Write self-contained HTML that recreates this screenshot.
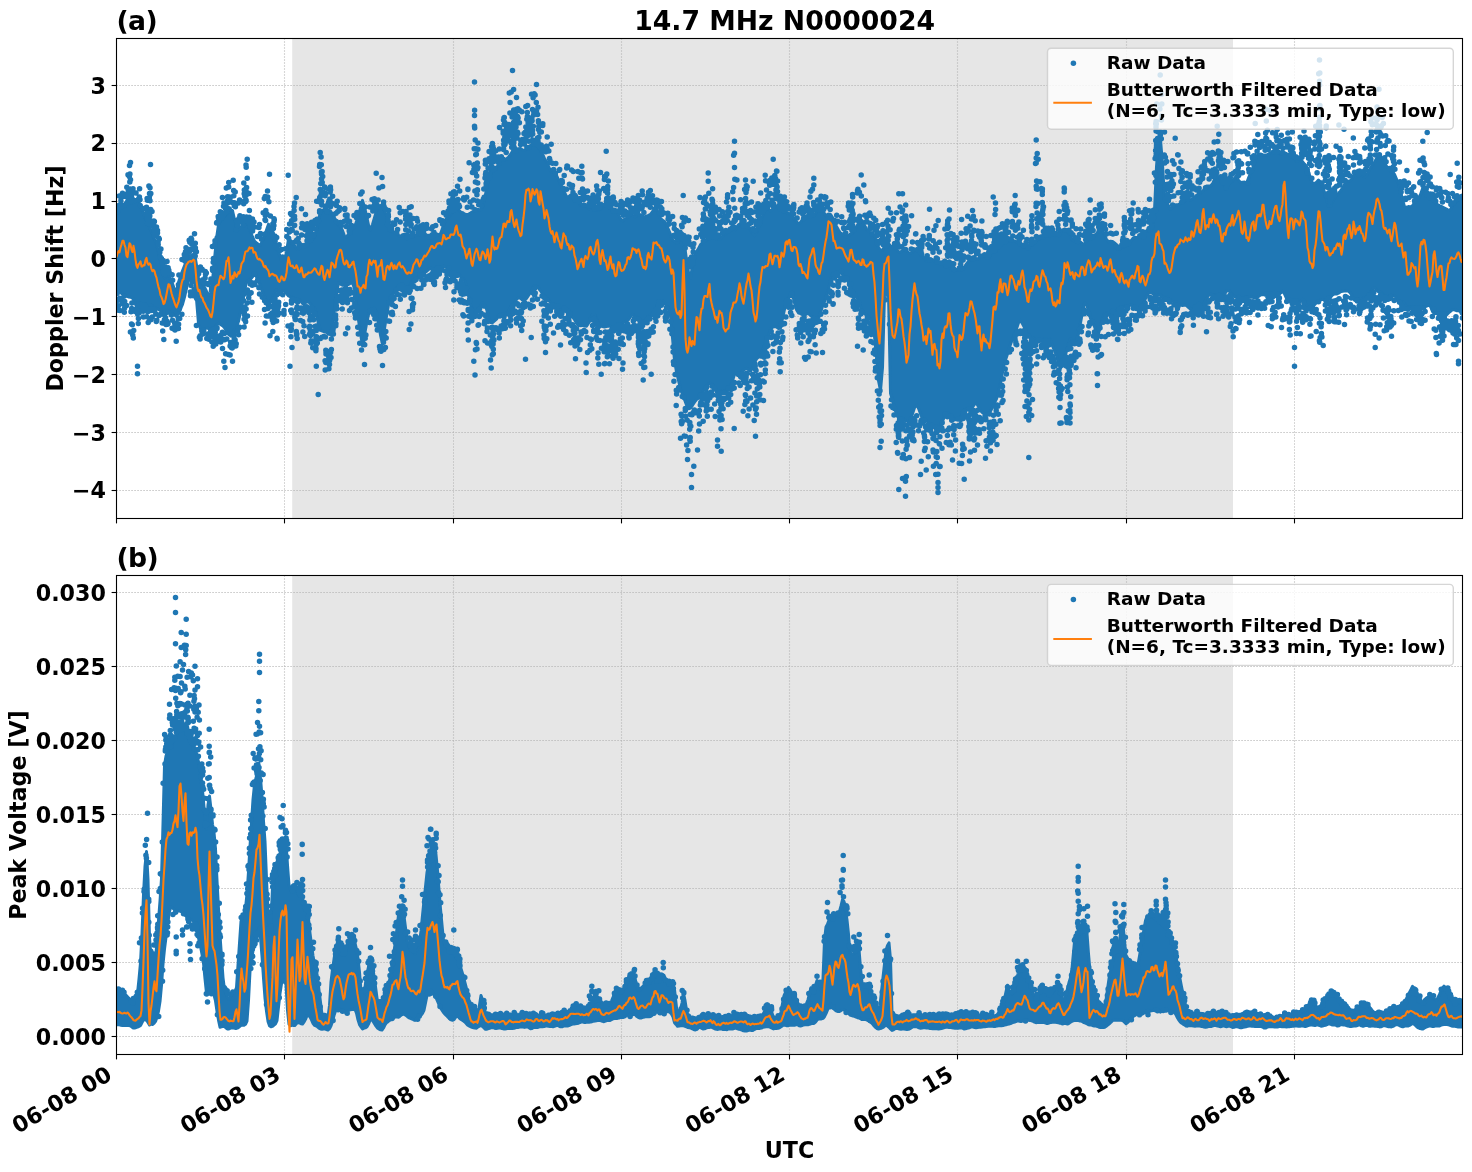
<!DOCTYPE html>
<html lang="en"><head><meta charset="utf-8"><title>14.7 MHz N0000024</title>
<style>html,body{margin:0;padding:0;background:#fff;overflow:hidden}svg{display:block;will-change:transform}text{font-family:"DejaVu Sans","Liberation Sans",sans-serif;font-weight:bold;fill:#000}.g line{stroke:#b0b0b0;stroke-width:1.1;stroke-dasharray:1.1 1.9}.tk line{stroke:#000;stroke-width:1.1}.t22{font-size:22.22px}.t27{font-size:26.67px}.t18{font-size:18.49px}</style></head><body>
<svg width="1472" height="1172" viewBox="0 0 1472 1172">
<rect width="1472" height="1172" fill="#fff"/>
<clipPath id="clipa"><rect x="116.5" y="38.5" width="1346.0" height="480.0"/></clipPath>
<rect x="292.2" y="38.5" width="940.8" height="480.0" fill="#e6e6e6"/>
<g class="g">
<line x1="284.5" y1="38.5" x2="284.5" y2="518.5"/>
<line x1="453.5" y1="38.5" x2="453.5" y2="518.5"/>
<line x1="621.5" y1="38.5" x2="621.5" y2="518.5"/>
<line x1="789.5" y1="38.5" x2="789.5" y2="518.5"/>
<line x1="957.5" y1="38.5" x2="957.5" y2="518.5"/>
<line x1="1126.5" y1="38.5" x2="1126.5" y2="518.5"/>
<line x1="1294.5" y1="38.5" x2="1294.5" y2="518.5"/>
<line x1="116.5" y1="85.5" x2="1462.5" y2="85.5"/>
<line x1="116.5" y1="143.5" x2="1462.5" y2="143.5"/>
<line x1="116.5" y1="201.5" x2="1462.5" y2="201.5"/>
<line x1="116.5" y1="258.5" x2="1462.5" y2="258.5"/>
<line x1="116.5" y1="316.5" x2="1462.5" y2="316.5"/>
<line x1="116.5" y1="374.5" x2="1462.5" y2="374.5"/>
<line x1="116.5" y1="432.5" x2="1462.5" y2="432.5"/>
<line x1="116.5" y1="490.5" x2="1462.5" y2="490.5"/>
</g>
<g clip-path="url(#clipa)">
<path d="M116.5 207.7L118.5 207.4L120.5 206.4L122.5 205.6L124.5 204.2L126.5 201.4L128.5 198.7L130.5 199.3L132.5 201.2L134.5 201.0L136.5 199.6L138.5 201.4L140.5 205.8L142.5 211.1L144.5 216.4L146.5 220.2L148.5 224.6L150.5 229.4L152.5 234.0L154.5 239.1L156.5 244.6L158.5 251.4L160.5 260.5L162.5 271.5L164.5 277.8L166.5 275.8L168.5 275.3L170.5 279.0L172.5 283.8L174.5 289.4L176.5 291.0L178.5 282.3L180.5 276.1L182.5 270.7L184.5 265.7L186.5 260.7L188.5 255.8L190.5 255.6L192.5 255.1L194.5 253.0L196.5 265.0L198.5 277.6L200.5 281.4L202.5 283.7L204.5 287.3L206.5 291.2L208.5 294.6L210.5 295.5L212.5 280.6L214.5 259.2L216.5 238.5L218.5 224.7L220.5 220.8L222.5 218.7L224.5 215.9L226.5 213.8L228.5 211.4L230.5 210.1L232.5 210.5L234.5 219.5L236.5 226.5L238.5 228.9L240.5 227.5L242.5 225.4L244.5 222.6L246.5 221.0L248.5 225.8L250.5 231.3L252.5 236.9L254.5 241.1L256.5 242.8L258.5 244.5L260.5 244.9L262.5 240.8L264.5 235.9L266.5 230.1L268.5 224.1L270.5 228.3L272.5 233.1L274.5 239.2L276.5 247.0L278.5 251.7L280.5 257.3L282.5 261.4L284.5 262.1L286.5 251.5L288.5 239.2L290.5 240.4L292.5 242.7L294.5 245.5L296.5 248.6L298.5 247.9L300.5 246.5L302.5 246.4L304.5 246.4L306.5 244.1L308.5 242.0L310.5 240.3L312.5 239.0L314.5 236.6L316.5 228.9L318.5 219.7L320.5 212.1L322.5 210.2L324.5 210.2L326.5 210.7L328.5 210.2L330.5 211.1L332.5 214.3L334.5 218.0L336.5 221.6L338.5 225.0L340.5 227.4L342.5 230.4L344.5 236.0L346.5 237.0L348.5 234.1L350.5 231.4L352.5 229.6L354.5 226.9L356.5 221.6L358.5 214.8L360.5 207.6L362.5 200.4L364.5 207.2L366.5 215.6L368.5 225.1L370.5 230.1L372.5 224.4L374.5 217.6L376.5 211.0L378.5 208.2L380.5 206.0L382.5 204.0L384.5 210.4L386.5 216.1L388.5 222.2L390.5 229.1L392.5 232.1L394.5 232.0L396.5 232.4L398.5 235.3L400.5 236.3L402.5 234.7L404.5 234.2L406.5 234.1L408.5 234.8L410.5 236.5L412.5 236.9L414.5 235.8L416.5 235.0L418.5 234.8L420.5 234.2L422.5 233.8L424.5 233.4L426.5 234.9L428.5 237.4L430.5 237.8L432.5 237.0L434.5 236.0L436.5 234.9L438.5 234.7L440.5 233.8L442.5 228.2L444.5 222.9L446.5 218.7L448.5 216.6L450.5 214.7L452.5 211.4L454.5 207.6L456.5 206.2L458.5 209.7L460.5 212.0L462.5 212.6L464.5 214.0L466.5 214.7L468.5 214.3L470.5 213.1L472.5 211.8L474.5 210.9L476.5 209.4L478.5 209.5L480.5 210.3L482.5 206.4L484.5 199.3L486.5 189.3L488.5 177.1L490.5 169.4L492.5 169.2L494.5 168.1L496.5 167.2L498.5 165.3L500.5 161.0L502.5 158.5L504.5 159.2L506.5 158.9L508.5 157.0L510.5 154.5L512.5 151.3L514.5 149.9L516.5 149.7L518.5 148.7L520.5 148.4L522.5 149.9L524.5 150.4L526.5 149.2L528.5 147.1L530.5 145.5L532.5 144.7L534.5 144.7L536.5 145.3L538.5 147.5L540.5 150.4L542.5 153.8L544.5 158.6L546.5 161.7L548.5 166.3L550.5 170.8L552.5 172.2L554.5 172.6L556.5 175.3L558.5 179.8L560.5 184.0L562.5 187.7L564.5 192.1L566.5 196.5L568.5 196.8L570.5 195.0L572.5 194.7L574.5 194.2L576.5 195.3L578.5 200.5L580.5 205.2L582.5 205.3L584.5 204.1L586.5 205.5L588.5 208.4L590.5 209.5L592.5 209.5L594.5 210.0L596.5 210.2L598.5 210.2L600.5 209.1L602.5 206.8L604.5 204.9L606.5 204.7L608.5 206.9L610.5 208.6L612.5 209.2L614.5 210.7L616.5 212.3L618.5 214.6L620.5 218.8L622.5 220.7L624.5 219.2L626.5 218.4L628.5 216.4L630.5 214.3L632.5 215.5L634.5 216.8L636.5 215.9L638.5 214.6L640.5 214.7L642.5 216.0L644.5 217.0L646.5 216.2L648.5 215.3L650.5 214.3L652.5 211.5L654.5 208.7L656.5 208.8L658.5 214.3L660.5 218.3L662.5 220.3L664.5 221.6L666.5 225.1L668.5 229.6L670.5 234.4L672.5 239.9L674.5 241.3L676.5 242.8L678.5 242.0L680.5 240.1L682.5 239.0L684.5 244.9L686.5 259.8L688.5 272.5L690.5 277.8L692.5 266.2L694.5 255.7L696.5 251.5L698.5 248.6L700.5 244.6L702.5 242.8L704.5 241.6L706.5 239.7L708.5 237.4L710.5 237.1L712.5 237.8L714.5 238.3L716.5 238.1L718.5 238.8L720.5 238.8L722.5 236.3L724.5 234.5L726.5 233.3L728.5 231.5L730.5 230.0L732.5 230.6L734.5 230.5L736.5 227.7L738.5 224.7L740.5 223.4L742.5 223.9L744.5 223.7L746.5 225.1L748.5 227.5L750.5 229.8L752.5 233.0L754.5 235.6L756.5 232.0L758.5 227.7L760.5 223.3L762.5 216.4L764.5 209.3L766.5 207.3L768.5 209.2L770.5 211.0L772.5 209.5L774.5 206.8L776.5 206.4L778.5 208.0L780.5 209.8L782.5 210.9L784.5 211.9L786.5 212.5L788.5 213.1L790.5 214.7L792.5 216.5L794.5 218.6L796.5 221.8L798.5 223.8L800.5 222.4L802.5 219.5L804.5 217.6L806.5 216.2L808.5 214.0L810.5 213.9L812.5 215.9L814.5 215.4L816.5 211.7L818.5 208.2L820.5 207.6L822.5 210.0L824.5 213.6L826.5 215.7L828.5 214.0L830.5 214.4L832.5 217.5L834.5 222.3L836.5 226.4L838.5 230.0L840.5 233.2L842.5 233.9L844.5 235.9L846.5 237.0L848.5 235.8L850.5 233.8L852.5 232.9L854.5 230.0L856.5 226.7L858.5 223.3L860.5 219.9L862.5 221.1L864.5 225.6L866.5 228.8L868.5 231.4L870.5 232.7L872.5 232.7L874.5 236.7L876.5 242.5L878.5 247.4L880.5 250.5L882.5 249.8L884.5 247.3L886.5 244.2L888.5 243.5L890.5 245.9L892.5 246.3L894.5 246.4L896.5 249.3L898.5 251.8L900.5 252.1L902.5 250.3L904.5 249.0L906.5 250.3L908.5 252.9L910.5 253.1L912.5 252.1L914.5 250.3L916.5 248.6L918.5 249.6L920.5 252.8L922.5 256.1L924.5 258.2L926.5 260.7L928.5 260.2L930.5 258.7L932.5 259.6L934.5 261.5L936.5 263.1L938.5 263.4L940.5 263.4L942.5 263.6L944.5 263.4L946.5 264.2L948.5 266.5L950.5 268.1L952.5 268.0L954.5 268.8L956.5 269.9L958.5 270.1L960.5 269.6L962.5 268.5L964.5 266.8L966.5 263.9L968.5 261.3L970.5 259.2L972.5 258.6L974.5 259.0L976.5 259.0L978.5 258.5L980.5 256.9L982.5 255.9L984.5 256.6L986.5 258.0L988.5 258.1L990.5 254.9L992.5 251.6L994.5 249.4L996.5 248.1L998.5 245.3L1000.5 243.0L1002.5 243.5L1004.5 242.5L1006.5 240.0L1008.5 238.8L1010.5 239.1L1012.5 240.0L1014.5 241.0L1016.5 241.7L1018.5 243.1L1020.5 245.1L1022.5 246.2L1024.5 246.8L1026.5 246.5L1028.5 245.5L1030.5 244.6L1032.5 245.2L1034.5 243.2L1036.5 240.3L1038.5 239.2L1040.5 238.5L1042.5 238.6L1044.5 237.5L1046.5 233.5L1048.5 230.9L1050.5 230.8L1052.5 232.6L1054.5 235.2L1056.5 235.5L1058.5 232.7L1060.5 230.1L1062.5 230.1L1064.5 229.3L1066.5 230.0L1068.5 233.0L1070.5 236.8L1072.5 239.9L1074.5 241.3L1076.5 242.1L1078.5 240.9L1080.5 242.0L1082.5 244.3L1084.5 243.7L1086.5 240.5L1088.5 237.3L1090.5 235.5L1092.5 235.2L1094.5 235.1L1096.5 233.6L1098.5 231.2L1100.5 228.8L1102.5 230.5L1104.5 234.8L1106.5 239.4L1108.5 241.7L1110.5 241.3L1112.5 241.4L1114.5 243.0L1116.5 244.7L1118.5 246.5L1120.5 247.9L1122.5 246.9L1124.5 246.6L1126.5 245.6L1128.5 243.9L1130.5 241.4L1132.5 238.8L1134.5 237.3L1136.5 237.4L1138.5 237.6L1140.5 237.6L1142.5 236.3L1144.5 233.3L1146.5 231.0L1148.5 228.6L1150.5 226.5L1152.5 223.7L1154.5 210.2L1156.5 166.6L1158.5 139.6L1160.5 139.4L1162.5 164.4L1164.5 198.1L1166.5 201.6L1168.5 205.8L1170.5 209.3L1172.5 207.3L1174.5 205.1L1176.5 204.8L1178.5 204.5L1180.5 203.3L1182.5 202.2L1184.5 200.9L1186.5 199.4L1188.5 199.6L1190.5 199.8L1192.5 198.9L1194.5 197.3L1196.5 195.3L1198.5 194.0L1200.5 193.4L1202.5 191.7L1204.5 188.5L1206.5 185.9L1208.5 186.0L1210.5 186.1L1212.5 183.8L1214.5 179.5L1216.5 176.1L1218.5 176.7L1220.5 178.8L1222.5 180.4L1224.5 184.2L1226.5 187.3L1228.5 183.9L1230.5 182.7L1232.5 181.3L1234.5 178.1L1236.5 175.7L1238.5 180.2L1240.5 182.4L1242.5 182.2L1244.5 182.1L1246.5 183.4L1248.5 178.0L1250.5 173.7L1252.5 168.5L1254.5 162.5L1256.5 156.0L1258.5 154.2L1260.5 153.9L1262.5 154.7L1264.5 155.1L1266.5 155.1L1268.5 154.0L1270.5 152.7L1272.5 151.6L1274.5 149.9L1276.5 149.7L1278.5 152.3L1280.5 153.9L1282.5 153.4L1284.5 152.5L1286.5 153.5L1288.5 154.4L1290.5 154.2L1292.5 154.8L1294.5 158.1L1296.5 160.8L1298.5 160.7L1300.5 159.7L1302.5 161.6L1304.5 164.2L1306.5 166.1L1308.5 171.4L1310.5 178.3L1312.5 183.1L1314.5 183.6L1316.5 182.3L1318.5 180.1L1320.5 182.0L1322.5 187.2L1324.5 192.1L1326.5 198.6L1328.5 206.5L1330.5 206.3L1332.5 201.5L1334.5 197.4L1336.5 195.2L1338.5 193.2L1340.5 190.9L1342.5 188.2L1344.5 184.5L1346.5 182.0L1348.5 181.2L1350.5 180.6L1352.5 177.8L1354.5 173.3L1356.5 173.1L1358.5 174.5L1360.5 174.5L1362.5 175.3L1364.5 177.3L1366.5 175.3L1368.5 171.5L1370.5 168.0L1372.5 165.3L1374.5 162.2L1376.5 158.4L1378.5 154.2L1380.5 156.1L1382.5 159.5L1384.5 162.8L1386.5 166.3L1388.5 168.3L1390.5 169.2L1392.5 171.4L1394.5 174.3L1396.5 179.0L1398.5 184.0L1400.5 190.5L1402.5 199.5L1404.5 206.6L1406.5 207.4L1408.5 206.5L1410.5 207.0L1412.5 205.7L1414.5 202.6L1416.5 199.8L1418.5 198.1L1420.5 194.5L1422.5 188.8L1424.5 187.3L1426.5 190.9L1428.5 195.5L1430.5 197.7L1432.5 199.6L1434.5 202.2L1436.5 204.0L1438.5 205.0L1440.5 206.2L1442.5 207.0L1444.5 208.0L1446.5 209.0L1448.5 210.5L1450.5 209.7L1452.5 205.5L1454.5 202.7L1456.5 200.6L1458.5 198.5L1460.5 195.6L1462.5 194.8L1462.5 314.0L1460.5 311.7L1458.5 310.6L1456.5 310.7L1454.5 309.8L1452.5 309.7L1450.5 311.3L1448.5 312.9L1446.5 315.0L1444.5 317.4L1442.5 317.6L1440.5 315.3L1438.5 313.1L1436.5 313.4L1434.5 313.9L1432.5 311.5L1430.5 306.4L1428.5 305.1L1426.5 306.3L1424.5 306.5L1422.5 307.9L1420.5 310.2L1418.5 310.9L1416.5 309.4L1414.5 308.3L1412.5 308.1L1410.5 306.8L1408.5 307.5L1406.5 307.2L1404.5 303.9L1402.5 301.4L1400.5 301.4L1398.5 301.0L1396.5 298.3L1394.5 295.7L1392.5 295.6L1390.5 296.0L1388.5 296.3L1386.5 297.3L1384.5 297.4L1382.5 294.1L1380.5 292.0L1378.5 291.8L1376.5 290.1L1374.5 287.8L1372.5 289.0L1370.5 292.8L1368.5 296.2L1366.5 296.8L1364.5 297.6L1362.5 298.7L1360.5 298.6L1358.5 298.7L1356.5 300.8L1354.5 300.2L1352.5 296.8L1350.5 293.2L1348.5 291.1L1346.5 290.7L1344.5 291.0L1342.5 291.2L1340.5 291.7L1338.5 293.2L1336.5 294.1L1334.5 293.9L1332.5 295.0L1330.5 297.4L1328.5 299.4L1326.5 300.5L1324.5 300.2L1322.5 299.4L1320.5 300.0L1318.5 301.8L1316.5 302.7L1314.5 304.8L1312.5 307.5L1310.5 309.8L1308.5 309.5L1306.5 305.3L1304.5 300.5L1302.5 299.4L1300.5 301.4L1298.5 303.7L1296.5 302.6L1294.5 299.9L1292.5 300.0L1290.5 301.9L1288.5 301.6L1286.5 298.5L1284.5 293.8L1282.5 291.4L1280.5 293.0L1278.5 294.6L1276.5 294.4L1274.5 293.6L1272.5 292.5L1270.5 293.0L1268.5 293.6L1266.5 294.8L1264.5 294.8L1262.5 294.5L1260.5 295.1L1258.5 296.4L1256.5 298.3L1254.5 298.1L1252.5 297.1L1250.5 297.3L1248.5 297.4L1246.5 297.1L1244.5 297.8L1242.5 299.6L1240.5 300.4L1238.5 299.5L1236.5 297.9L1234.5 296.4L1232.5 295.3L1230.5 292.5L1228.5 290.4L1226.5 291.1L1224.5 294.1L1222.5 296.8L1220.5 297.0L1218.5 296.4L1216.5 296.2L1214.5 295.2L1212.5 294.5L1210.5 294.2L1208.5 295.5L1206.5 298.7L1204.5 302.5L1202.5 304.6L1200.5 305.4L1198.5 306.2L1196.5 308.4L1194.5 308.7L1192.5 308.7L1190.5 309.0L1188.5 307.5L1186.5 305.6L1184.5 305.1L1182.5 305.6L1180.5 304.9L1178.5 302.9L1176.5 302.3L1174.5 302.3L1172.5 301.2L1170.5 300.4L1168.5 298.7L1166.5 296.7L1164.5 297.1L1162.5 297.5L1160.5 295.1L1158.5 294.8L1156.5 296.1L1154.5 295.3L1152.5 293.3L1150.5 292.4L1148.5 293.1L1146.5 295.5L1144.5 301.2L1142.5 306.7L1140.5 309.6L1138.5 309.4L1136.5 309.2L1134.5 308.1L1132.5 305.5L1130.5 304.8L1128.5 306.2L1126.5 306.8L1124.5 307.1L1122.5 306.8L1120.5 307.3L1118.5 310.7L1116.5 313.9L1114.5 315.1L1112.5 315.4L1110.5 315.2L1108.5 314.3L1106.5 313.0L1104.5 313.2L1102.5 318.7L1100.5 326.0L1098.5 333.7L1096.5 333.2L1094.5 326.5L1092.5 322.5L1090.5 318.3L1088.5 311.1L1086.5 304.4L1084.5 302.8L1082.5 312.0L1080.5 323.1L1078.5 333.8L1076.5 341.3L1074.5 340.7L1072.5 339.7L1070.5 338.9L1068.5 343.7L1066.5 351.1L1064.5 358.7L1062.5 364.5L1060.5 368.3L1058.5 362.7L1056.5 355.6L1054.5 350.7L1052.5 345.9L1050.5 340.1L1048.5 338.4L1046.5 339.2L1044.5 339.3L1042.5 339.8L1040.5 341.3L1038.5 341.9L1036.5 341.0L1034.5 339.1L1032.5 337.4L1030.5 337.2L1028.5 336.4L1026.5 332.2L1024.5 327.6L1022.5 323.8L1020.5 320.4L1018.5 322.8L1016.5 328.8L1014.5 334.6L1012.5 339.0L1010.5 344.4L1008.5 350.8L1006.5 357.1L1004.5 362.9L1002.5 372.5L1000.5 383.7L998.5 392.2L996.5 398.9L994.5 402.8L992.5 407.2L990.5 411.1L988.5 413.7L986.5 415.3L984.5 413.5L982.5 412.6L980.5 410.7L978.5 406.7L976.5 403.2L974.5 404.3L972.5 407.0L970.5 409.6L968.5 410.0L966.5 409.3L964.5 409.6L962.5 413.4L960.5 417.9L958.5 419.5L956.5 419.7L954.5 419.8L952.5 417.3L950.5 414.7L948.5 413.3L946.5 412.8L944.5 416.6L942.5 421.2L940.5 427.1L938.5 432.0L936.5 430.5L934.5 427.6L932.5 426.8L930.5 425.8L928.5 422.4L926.5 420.6L924.5 420.4L922.5 418.8L920.5 413.8L918.5 408.3L916.5 404.7L914.5 407.8L912.5 413.9L910.5 420.0L908.5 421.8L906.5 421.1L904.5 420.1L902.5 418.3L900.5 417.6L898.5 417.9L896.5 414.6L894.5 407.0L892.5 400.1L890.5 393.3L888.5 293.2L886.5 293.0L884.5 294.3L882.5 367.6L880.5 390.5L878.5 380.8L876.5 356.7L874.5 336.4L872.5 327.9L870.5 319.5L868.5 316.3L866.5 315.3L864.5 313.8L862.5 310.9L860.5 306.8L858.5 301.4L856.5 296.9L854.5 293.3L852.5 291.4L850.5 288.8L848.5 282.7L846.5 278.2L844.5 277.5L842.5 274.3L840.5 272.7L838.5 272.9L836.5 273.6L834.5 273.0L832.5 273.4L830.5 281.7L828.5 289.2L826.5 295.7L824.5 301.4L822.5 306.1L820.5 312.9L818.5 318.1L816.5 318.0L814.5 317.7L812.5 316.9L810.5 315.5L808.5 313.6L806.5 313.8L804.5 315.6L802.5 314.8L800.5 313.6L798.5 313.1L796.5 309.7L794.5 302.9L792.5 293.9L790.5 294.8L788.5 298.4L786.5 301.3L784.5 309.5L782.5 318.6L780.5 328.2L778.5 328.4L776.5 327.0L774.5 326.6L772.5 327.2L770.5 329.2L768.5 335.6L766.5 341.2L764.5 345.1L762.5 350.0L760.5 354.4L758.5 356.9L756.5 359.0L754.5 362.6L752.5 368.0L750.5 371.2L748.5 369.8L746.5 368.3L744.5 369.5L742.5 371.0L740.5 372.8L738.5 374.2L736.5 373.4L734.5 374.5L732.5 380.9L730.5 385.8L728.5 389.4L726.5 392.7L724.5 392.0L722.5 390.6L720.5 390.8L718.5 392.2L716.5 392.1L714.5 388.8L712.5 384.5L710.5 382.9L708.5 384.3L706.5 385.8L704.5 388.4L702.5 392.5L700.5 396.7L698.5 398.2L696.5 399.5L694.5 402.1L692.5 405.3L690.5 408.1L688.5 408.8L686.5 405.1L684.5 399.4L682.5 394.3L680.5 388.9L678.5 380.3L676.5 372.0L674.5 360.4L672.5 337.9L670.5 315.6L668.5 308.5L666.5 305.9L664.5 302.6L662.5 300.6L660.5 300.6L658.5 304.3L656.5 307.7L654.5 310.6L652.5 312.4L650.5 314.9L648.5 317.0L646.5 318.7L644.5 321.5L642.5 322.1L640.5 320.8L638.5 318.5L636.5 317.0L634.5 315.7L632.5 314.4L630.5 316.8L628.5 319.7L626.5 321.2L624.5 321.8L622.5 323.5L620.5 325.4L618.5 326.7L616.5 328.1L614.5 328.6L612.5 327.5L610.5 326.4L608.5 326.0L606.5 326.6L604.5 327.1L602.5 326.6L600.5 325.8L598.5 323.1L596.5 319.0L594.5 314.6L592.5 314.6L590.5 319.0L588.5 323.1L586.5 326.2L584.5 326.0L582.5 325.4L580.5 325.7L578.5 325.5L576.5 323.4L574.5 319.6L572.5 316.6L570.5 317.2L568.5 315.5L566.5 311.7L564.5 309.7L562.5 309.5L560.5 310.5L558.5 310.1L556.5 308.8L554.5 306.8L552.5 304.8L550.5 302.7L548.5 299.8L546.5 297.5L544.5 296.3L542.5 293.8L540.5 290.7L538.5 288.2L536.5 286.4L534.5 285.7L532.5 288.6L530.5 292.3L528.5 295.3L526.5 298.3L524.5 300.2L522.5 300.3L520.5 298.3L518.5 297.5L516.5 299.5L514.5 302.9L512.5 304.4L510.5 307.3L508.5 311.1L506.5 312.7L504.5 313.9L502.5 314.0L500.5 313.6L498.5 315.9L496.5 319.1L494.5 320.9L492.5 322.7L490.5 322.4L488.5 316.2L486.5 309.0L484.5 305.0L482.5 302.5L480.5 306.4L478.5 309.6L476.5 311.6L474.5 313.8L472.5 311.0L470.5 304.3L468.5 296.0L466.5 286.9L464.5 279.9L462.5 278.6L460.5 276.4L458.5 273.8L456.5 271.8L454.5 272.2L452.5 274.2L450.5 274.5L448.5 271.1L446.5 267.4L444.5 266.2L442.5 266.4L440.5 267.1L438.5 267.2L436.5 267.6L434.5 269.0L432.5 268.9L430.5 268.2L428.5 269.6L426.5 271.4L424.5 272.6L422.5 273.7L420.5 275.1L418.5 277.5L416.5 279.1L414.5 279.8L412.5 281.9L410.5 285.5L408.5 287.1L406.5 287.0L404.5 288.5L402.5 289.5L400.5 287.5L398.5 285.7L396.5 288.6L394.5 292.1L392.5 294.7L390.5 295.8L388.5 304.8L386.5 316.3L384.5 328.6L382.5 343.8L380.5 335.1L378.5 323.9L376.5 311.5L374.5 309.1L372.5 309.9L370.5 309.5L368.5 314.8L366.5 323.9L364.5 335.0L362.5 346.1L360.5 333.3L358.5 320.0L356.5 305.5L354.5 289.1L352.5 282.4L350.5 283.3L348.5 284.4L346.5 284.2L344.5 284.7L342.5 285.2L340.5 284.1L338.5 282.6L336.5 294.2L334.5 308.5L332.5 322.6L330.5 334.4L328.5 334.3L326.5 332.2L324.5 331.9L322.5 331.1L320.5 330.3L318.5 323.9L316.5 314.9L314.5 307.8L312.5 306.7L310.5 304.1L308.5 301.8L306.5 301.9L304.5 303.7L302.5 303.4L300.5 300.8L298.5 299.5L296.5 299.6L294.5 298.7L292.5 297.7L290.5 296.8L288.5 295.9L286.5 293.6L284.5 290.8L282.5 290.5L280.5 292.3L278.5 292.4L276.5 289.7L274.5 293.2L272.5 297.9L270.5 301.7L268.5 304.9L266.5 300.8L264.5 296.7L262.5 291.8L260.5 286.4L258.5 281.4L256.5 276.9L254.5 274.3L252.5 276.8L250.5 279.3L248.5 280.9L246.5 281.8L244.5 291.5L242.5 302.7L240.5 312.0L238.5 321.4L236.5 327.4L234.5 329.9L232.5 334.6L230.5 335.9L228.5 334.4L226.5 331.3L224.5 327.8L222.5 325.6L220.5 324.4L218.5 323.3L216.5 324.9L214.5 327.6L212.5 328.6L210.5 329.1L208.5 328.5L206.5 327.8L204.5 329.0L202.5 329.9L200.5 328.7L198.5 323.7L196.5 299.5L194.5 277.6L192.5 279.8L190.5 280.1L188.5 280.5L186.5 288.5L184.5 297.2L182.5 304.4L180.5 308.9L178.5 313.4L176.5 316.6L174.5 314.8L172.5 314.2L170.5 312.8L168.5 310.9L166.5 314.0L164.5 317.0L162.5 314.5L160.5 310.7L158.5 309.3L156.5 308.4L154.5 307.4L152.5 306.2L150.5 305.2L148.5 306.0L146.5 306.6L144.5 306.2L142.5 306.9L140.5 308.4L138.5 308.9L136.5 306.6L134.5 301.9L132.5 298.0L130.5 297.2L128.5 297.0L126.5 296.1L124.5 294.9L122.5 294.0L120.5 292.7L118.5 290.9L116.5 289.9Z" fill="#1f77b4" stroke="#1f77b4" stroke-width="3" stroke-linejoin="round"/>
<path d="M117.2 206.1h.01M117.8 211.5h.01M118 208.4h.01M117.6 208.1h.01M119.3 195.9h.01M120.8 207.3h.01M120.3 204.5h.01M119.2 205.5h.01M120.9 200.5h.01M120.4 205.6h.01M120.7 204.5h.01M122.5 193.3h.01M124.3 205.2h.01M123.6 196.3h.01M126 194.2h.01M126.2 196.8h.01M126.8 187.2h.01M128.2 193.8h.01M129 196.2h.01M128 174.8h.01M129.2 190h.01M128.3 189.6h.01M128.3 190.7h.01M127.1 202.7h.01M128.5 199.8h.01M130.9 199.4h.01M128.5 195.1h.01M129.6 200.3h.01M129.5 165.5h.01M129.3 176.4h.01M129.8 181.9h.01M129.2 189.8h.01M128.7 191.4h.01M129.9 174.1h.01M131.6 195h.01M130.5 179.8h.01M129.6 189.2h.01M130.4 189.1h.01M131.5 195.8h.01M130.4 202.1h.01M133 188.8h.01M132.5 192.6h.01M132.7 199.6h.01M134.7 200.4h.01M136 193h.01M139.4 197.1h.01M138.8 198.4h.01M139.6 188.7h.01M140 199.7h.01M140.2 205.4h.01M144.7 214.1h.01M143.7 208.5h.01M147.4 216.2h.01M146.5 207.3h.01M148.1 217.8h.01M147.7 212.4h.01M147.4 219.1h.01M147.4 200.2h.01M147.1 198.4h.01M147.9 214.6h.01M147.6 223.6h.01M147.9 210.2h.01M148.9 186h.01M149.5 200.5h.01M148.2 212.1h.01M149.3 198h.01M150.7 220.7h.01M148.8 223.3h.01M149.5 193.6h.01M150.2 194.5h.01M149.9 210.9h.01M150 187.7h.01M150.7 209.6h.01M150 200.7h.01M150.8 193.6h.01M149.8 216.1h.01M152 211.4h.01M151.8 226h.01M153.8 230.5h.01M154.2 235.7h.01M153.9 224.9h.01M154.4 221.6h.01M153.9 220.9h.01M156.5 226.9h.01M158.1 241.7h.01M157.5 230.6h.01M157.5 233.1h.01M158.2 244.5h.01M158.7 237.9h.01M159.3 239h.01M159.8 252.2h.01M160.1 256.8h.01M160.9 249.1h.01M162.5 260h.01M161.4 258.6h.01M161.8 261.7h.01M162.9 263.6h.01M165.4 271.6h.01M164.1 271.1h.01M165.1 274.6h.01M164.2 274.1h.01M165 266.8h.01M162.8 271.8h.01M164.1 273.8h.01M167 261.5h.01M168.1 267.8h.01M168.5 271.6h.01M169.2 272.5h.01M168.8 270.3h.01M172.1 274.8h.01M172.6 280.3h.01M178.4 284.8h.01M178.9 275.1h.01M182 259.6h.01M184.8 258.2h.01M185.8 257.5h.01M184.5 259.3h.01M184.9 260.9h.01M184.3 254.4h.01M186 247.7h.01M186.2 257.3h.01M189.4 252.1h.01M185.5 251.7h.01M187.4 253.1h.01M189.5 249.6h.01M191.4 249.3h.01M189.8 241.7h.01M190.6 240.1h.01M191 241.1h.01M189.2 240.3h.01M189.8 242.2h.01M191.6 239.2h.01M191.1 238.3h.01M193.5 245.5h.01M191.7 244.1h.01M194 249.8h.01M194.9 250.6h.01M195.2 255.9h.01M195.3 243.3h.01M195.4 247.9h.01M196.4 251.8h.01M196 268.8h.01M198.6 273.8h.01M199 269h.01M199.4 268.9h.01M200.4 266.9h.01M202.2 270.1h.01M202.1 269.2h.01M203.6 282h.01M202.9 279.7h.01M204.8 283.3h.01M205.3 271.5h.01M205.5 274.2h.01M205.1 278h.01M206.3 273h.01M206.5 283.4h.01M210.9 281.7h.01M210 282.8h.01M210.9 278.9h.01M210.9 281.5h.01M211 280.9h.01M211.7 288.3h.01M211.5 290.5h.01M208.2 284.4h.01M211.4 280.2h.01M212.5 270.1h.01M212.7 270.4h.01M212.6 268.2h.01M213.2 262.2h.01M214.8 266.9h.01M213.4 258.5h.01M214.9 261h.01M214.9 243.9h.01M215 240.7h.01M212.4 246.5h.01M217.1 237.9h.01M216.8 222.6h.01M216.6 223.1h.01M218.7 220.9h.01M218.2 216.6h.01M218.5 218.2h.01M221.2 217h.01M220.8 214.1h.01M220.3 211.7h.01M223 213.3h.01M222.2 218h.01M222.4 197.4h.01M223.5 215.3h.01M223.5 206.2h.01M224 203h.01M225.5 208.3h.01M224.9 205.9h.01M225.6 208.4h.01M226.3 187.9h.01M226.9 209.4h.01M225.9 205h.01M227.4 211.5h.01M225.8 204.2h.01M228 197h.01M227.6 196.8h.01M227.7 200.3h.01M228.8 208.7h.01M228.1 198.7h.01M228.7 182.5h.01M228.7 187h.01M229.4 197h.01M229.2 209.1h.01M227.6 203h.01M230 198.4h.01M230 202.1h.01M232.3 202.5h.01M233.6 190.4h.01M233.8 195.8h.01M234.2 205.8h.01M234.4 202.7h.01M235.2 192h.01M235.2 204.5h.01M236.3 220.4h.01M235.4 206.8h.01M236.3 229.7h.01M237.5 225.7h.01M238.4 203h.01M238.9 222h.01M239.9 215.8h.01M239.6 200h.01M240.1 221.9h.01M239.2 218.2h.01M240.9 217.9h.01M243.4 225.3h.01M244.6 217.1h.01M242.2 222.6h.01M243.8 183.1h.01M243.7 203.7h.01M243.4 216.7h.01M246.5 217h.01M244.4 201.2h.01M245.9 195.6h.01M244.8 196.3h.01M244.2 193.7h.01M244.3 190.1h.01M245.5 201.7h.01M246 188.5h.01M245.2 220.4h.01M246.6 187.5h.01M246.1 200.3h.01M246.1 201.1h.01M246.2 167.2h.01M246 165.1h.01M248.6 220h.01M249 217.9h.01M250 226.4h.01M249.2 222.5h.01M249.2 217.3h.01M249 193.4h.01M249.4 210.4h.01M252.4 231h.01M251.9 226.5h.01M252.3 230.3h.01M252.4 221.9h.01M252.5 219.1h.01M252.6 230.9h.01M254.1 227.3h.01M252.8 224.5h.01M254 222h.01M253.2 223.4h.01M257.4 236.6h.01M258.1 227.3h.01M258.9 227.5h.01M259.5 224.6h.01M261.5 239.3h.01M260.5 233.4h.01M261.1 234.5h.01M263.2 212.8h.01M265.1 234h.01M265.6 220.5h.01M265.3 215.5h.01M265.8 210.6h.01M265.2 196.5h.01M264.3 198.6h.01M265 219.7h.01M267.3 197.9h.01M266.9 214.1h.01M267.7 197h.01M267.5 191h.01M268.9 201.7h.01M270.4 216.1h.01M272.8 224.1h.01M272.2 233.3h.01M272.1 227.5h.01M273.4 236.9h.01M273.4 228.6h.01M274 221.5h.01M274 218.7h.01M273.9 225.4h.01M272.9 225.8h.01M274.3 219.8h.01M274.8 236h.01M275.4 245.8h.01M276.4 247.5h.01M275.2 240.4h.01M276.7 237.6h.01M279.1 244.8h.01M280.4 250.2h.01M281.5 249.6h.01M282.6 257h.01M282.1 258.9h.01M283.8 258.6h.01M285.6 248.8h.01M286.8 236.6h.01M286.7 229.4h.01M288.7 238.2h.01M289.4 232.1h.01M289.6 223.9h.01M292.2 230.3h.01M290.5 213.5h.01M291.5 214.7h.01M291.5 220.7h.01M291.3 229.6h.01M292.5 214.9h.01M294.1 210.4h.01M294.6 225.3h.01M293.4 217.5h.01M293.3 242.8h.01M294.5 216.2h.01M294.4 225.4h.01M294 206.6h.01M294.7 219.2h.01M294.5 203.1h.01M296.4 240.6h.01M296.4 232.9h.01M299 245.8h.01M298 242.1h.01M299.3 247.4h.01M298.7 243h.01M299.3 244.1h.01M298.2 238.5h.01M301.4 245.4h.01M301.6 235h.01M301.5 208.8h.01M301.6 227.7h.01M302.1 223.6h.01M303 224h.01M304.6 245.6h.01M305 229.6h.01M306.6 245.1h.01M305.1 228.1h.01M306.4 235.7h.01M307.8 238.9h.01M307 240.7h.01M308 232.7h.01M306.9 227.7h.01M307.2 223.7h.01M308.7 229.6h.01M307.6 228.9h.01M308 226h.01M308.5 229.2h.01M310.9 232.9h.01M310.3 227h.01M310.4 240.4h.01M310.2 235.8h.01M310.9 228.5h.01M311.6 222.2h.01M312.7 228.2h.01M313 235.6h.01M312.5 234.1h.01M313.7 235.6h.01M314.7 223.6h.01M315 220.4h.01M314.6 223.1h.01M315.7 228.8h.01M316.9 219.3h.01M318.5 221.1h.01M318.4 221.3h.01M316.6 201.2h.01M319.6 212.3h.01M319.6 210.7h.01M319.7 197.6h.01M319.7 164.6h.01M319.2 201.8h.01M320.2 189.5h.01M321.8 205.1h.01M320.8 183.5h.01M322.2 182.4h.01M320.5 196.3h.01M321.4 171.9h.01M321.5 179.1h.01M321.3 195.4h.01M322.1 171.4h.01M321.1 156.9h.01M321.3 164.8h.01M321.5 173.9h.01M321.5 201.3h.01M321.4 193.1h.01M322.7 176.6h.01M324.3 192.5h.01M324.7 187.1h.01M325.7 193.8h.01M325.1 195.8h.01M324.6 192.9h.01M324.7 187.5h.01M325.9 206.4h.01M326.1 206.1h.01M326.8 206h.01M325.5 209h.01M327.1 212.2h.01M327.8 204.8h.01M328.2 203.8h.01M328.7 189.1h.01M328.6 202.2h.01M330.5 206.8h.01M329.1 200.5h.01M330.7 204.8h.01M330.2 192.1h.01M330 200.5h.01M330.4 189.1h.01M330.6 189.7h.01M330.4 187h.01M329.9 199h.01M333.1 203.8h.01M332.6 196.3h.01M334.2 214.3h.01M336.1 213.3h.01M336.4 205.5h.01M337.6 211.7h.01M337.2 201.3h.01M336.2 221.6h.01M341.2 225.5h.01M340.5 222.6h.01M339.5 207.8h.01M339.2 210.6h.01M339.2 210.3h.01M344.7 209.6h.01M345.4 215.2h.01M344.8 208.4h.01M344.3 221.2h.01M346.1 226.6h.01M347.9 221.9h.01M347 217.1h.01M347.1 215h.01M350.1 232.4h.01M349.2 230.9h.01M349.5 221.3h.01M349.5 228.8h.01M350.8 228.6h.01M351.1 226.2h.01M351.6 225.4h.01M354 215.5h.01M357 212.6h.01M356.5 217.7h.01M359.8 203.6h.01M360.7 193.9h.01M362.1 192h.01M365.2 206.9h.01M367.2 216.5h.01M368.5 215.4h.01M369.9 207.1h.01M372.1 199.6h.01M372.8 211.1h.01M373.6 206.2h.01M375.1 205.5h.01M374.3 201.5h.01M374.4 198.7h.01M374.5 210.7h.01M374.6 205h.01M376.3 203.9h.01M377.3 205.4h.01M376.9 207.2h.01M378.1 200h.01M379.1 207h.01M378.9 188h.01M382.6 186.4h.01M383.6 202.1h.01M384.2 206.9h.01M383.5 205.1h.01M385.4 208.9h.01M388.3 214.7h.01M388.1 220.3h.01M388.4 216.4h.01M387.3 224.5h.01M388.6 210.5h.01M390.1 229.6h.01M390.3 226.4h.01M391.5 228.3h.01M391.5 230.3h.01M392.8 223h.01M394.7 224.3h.01M396.5 219.7h.01M396.7 233h.01M397.6 229.4h.01M400.2 222h.01M400.2 212.8h.01M402.9 211.5h.01M405.7 216h.01M405.6 219.3h.01M406 211.4h.01M405.7 229.7h.01M405.8 224.6h.01M408.7 236.8h.01M408.4 230.9h.01M408.8 236.3h.01M406.8 237.4h.01M408.3 222h.01M409 220h.01M410.3 219.7h.01M409.9 214.9h.01M409.4 207.4h.01M411.2 224.5h.01M410.1 221.8h.01M410.9 226.1h.01M412.2 235.4h.01M412.6 233.2h.01M413.3 218.4h.01M414.1 229.1h.01M416.7 226.8h.01M416.8 218.4h.01M418.2 232.6h.01M418.1 229.9h.01M417.6 221.3h.01M420.1 232.6h.01M421.3 234.2h.01M419.5 229.1h.01M420.7 230.7h.01M420.7 226h.01M424.6 227.3h.01M422.2 234.5h.01M423.6 231.6h.01M423.2 224.7h.01M424.1 227.5h.01M427 228.3h.01M426.6 224.6h.01M428.4 236.5h.01M432 234.9h.01M431 237.1h.01M431.4 228.7h.01M433 236h.01M432.7 226.8h.01M433.9 232.2h.01M435.7 234.7h.01M435.7 225.6h.01M439.8 219.7h.01M439.9 220.6h.01M442.5 223.9h.01M442.7 220.8h.01M443.6 212.8h.01M446.4 213.1h.01M446.2 215.3h.01M448.1 211.1h.01M448.7 213.1h.01M449.5 201.9h.01M449.5 208.1h.01M449 200.9h.01M451.1 206.7h.01M449.1 203.1h.01M450.9 193.8h.01M453.4 210.5h.01M452.6 204.1h.01M453.5 200.4h.01M454.1 193.8h.01M452.8 198.6h.01M453.8 200.6h.01M454.7 208.1h.01M453.5 191.9h.01M454.3 191.7h.01M455.4 193.9h.01M456.5 204.7h.01M457.3 201h.01M458 199.5h.01M456.7 208h.01M455.6 205.3h.01M459.5 206.5h.01M458.9 205.1h.01M459.7 191h.01M464.3 200.1h.01M463.4 199.1h.01M463.7 197.7h.01M466.7 197.3h.01M467.3 207.3h.01M467.9 189.5h.01M469.1 162.8h.01M467.9 189.1h.01M470.1 202.1h.01M471.9 207.1h.01M472.4 172.6h.01M475.1 209.7h.01M473.5 200h.01M474.2 148.7h.01M473.9 169.3h.01M474.7 127.9h.01M474.6 170.5h.01M475.3 173h.01M475.4 182h.01M476 182.2h.01M475 171.4h.01M474.9 191.1h.01M474.9 164.3h.01M475.2 140h.01M475.7 154.7h.01M475.4 166.4h.01M475.8 148.8h.01M474.6 110.2h.01M477.3 200.9h.01M476.7 169.2h.01M476 154.4h.01M476.7 176.1h.01M476.4 154.2h.01M476.9 194.7h.01M477.9 167.5h.01M477.9 149.2h.01M477.4 190.5h.01M477.7 183h.01M477.3 163h.01M477.4 189.7h.01M477.9 143h.01M477.3 169h.01M478.7 204.8h.01M481.7 206.1h.01M480.7 201.8h.01M483.4 199.1h.01M484.2 197.2h.01M483.8 189.1h.01M486.1 186.4h.01M486.8 182.3h.01M486.1 183.5h.01M485.4 160.3h.01M485 177.9h.01M485.8 172.6h.01M485.5 174.6h.01M485.8 173h.01M485.3 164h.01M486.6 180.4h.01M487.3 179.7h.01M489.5 177.5h.01M488.1 168.2h.01M489 161.4h.01M489 158.7h.01M489.4 174h.01M490.5 167.7h.01M490.9 162.6h.01M489.1 151.6h.01M491.3 165.4h.01M492.8 169.7h.01M492.8 161.9h.01M492.4 143.4h.01M492.4 159.3h.01M492.5 159.3h.01M492.1 158.8h.01M492.2 148h.01M491.6 146.7h.01M492.9 146.4h.01M492.2 157.8h.01M492 154.9h.01M491.5 158.7h.01M492.2 154h.01M492.9 152.9h.01M493.2 148.9h.01M494.9 168.5h.01M492.9 168.1h.01M493.3 148.3h.01M494.2 155.9h.01M494 155.6h.01M494.8 157.3h.01M494.4 151.1h.01M496.1 158.5h.01M495.8 150.7h.01M497.9 162.2h.01M498.3 156.9h.01M499.3 163.5h.01M499.3 148.9h.01M501.9 159.1h.01M501.3 156.8h.01M503 159.3h.01M503.2 131.2h.01M503.6 149.5h.01M503.9 117.9h.01M503.8 144.3h.01M503.2 133.3h.01M503.6 140.3h.01M503.6 149.3h.01M505.1 144.1h.01M504.3 117.6h.01M504.5 145h.01M504.1 133.1h.01M504.9 142.4h.01M504.4 141.5h.01M503.9 141.1h.01M503.5 119.9h.01M504.8 137.3h.01M504.8 122.5h.01M504.1 124.6h.01M504 145.5h.01M504.5 139.5h.01M505.1 140.8h.01M506.2 152.6h.01M506.8 129.2h.01M506.6 127.4h.01M507.8 132.5h.01M508.5 132h.01M508.2 140.7h.01M508.9 124.5h.01M508.4 128h.01M509.3 93.1h.01M508.5 136.1h.01M508.6 130.5h.01M510.1 102.6h.01M511.7 147.2h.01M509.9 112.9h.01M511.2 92.1h.01M510.3 133.5h.01M510.9 142.7h.01M511.9 134.1h.01M511.8 128.2h.01M512.4 144.8h.01M514 150.2h.01M512.5 131.8h.01M513.6 145.8h.01M513.4 144.8h.01M514.6 148.3h.01M513.7 114.4h.01M513.8 142.2h.01M512.1 116.9h.01M512.7 133h.01M513.1 137.5h.01M514.1 139.4h.01M513.6 89.4h.01M512.6 140.2h.01M513.5 122.5h.01M513.2 126.8h.01M512.7 130.4h.01M513.3 113.7h.01M513.5 130.7h.01M513.7 110h.01M512.9 127.6h.01M513.3 117.2h.01M515.6 116.6h.01M515.3 137.6h.01M516 126.9h.01M515.4 111.8h.01M516.6 136.9h.01M515.6 112.6h.01M515.6 118.3h.01M515.6 124.5h.01M516.3 151.1h.01M517.6 122.7h.01M517.1 138h.01M517.3 132h.01M518.1 118.1h.01M517.3 110.7h.01M517 134.3h.01M517.5 116.5h.01M517.9 108.7h.01M518 133.5h.01M519.4 122.7h.01M519.7 110.4h.01M520.9 141.3h.01M520.6 144.5h.01M521.3 142h.01M522.3 139.6h.01M521.8 111.7h.01M524.2 144.1h.01M525.2 138.7h.01M524 133.5h.01M523.9 143.1h.01M525.2 132.2h.01M525.8 127h.01M525.8 106.6h.01M529.1 147.4h.01M526.9 147.4h.01M527.3 116.8h.01M528.1 123h.01M527.7 135.8h.01M526.5 131.1h.01M526.9 128.7h.01M526.8 119.3h.01M527.6 105.6h.01M527.5 130.9h.01M527.9 117h.01M527.3 112.6h.01M528.8 141.3h.01M530.5 126.6h.01M530.3 123.5h.01M531.6 128.3h.01M531.3 135h.01M531.5 94.2h.01M531.9 117.8h.01M532.1 120.8h.01M533.5 143.8h.01M532.7 139.9h.01M532.5 109.6h.01M533.1 97.8h.01M531.3 125.6h.01M532.7 134.1h.01M532.5 130.4h.01M532.1 132.3h.01M533.3 126.2h.01M533.8 111.7h.01M533.6 115.1h.01M534.2 93.8h.01M536 142.8h.01M535.1 94.9h.01M536.3 102.5h.01M538 141.6h.01M538 107.2h.01M538.5 122.3h.01M537.6 114.6h.01M536.5 110.8h.01M537.5 145.2h.01M537.5 138.1h.01M538.9 137.2h.01M538.4 120.7h.01M538.5 129.5h.01M537.6 144.1h.01M540.4 147.5h.01M538.8 126.4h.01M539.8 132.2h.01M541.3 132h.01M541.1 144.9h.01M542.8 123.8h.01M542.7 125.6h.01M544.5 150.8h.01M543.5 147.1h.01M545.8 151.7h.01M546.5 146.2h.01M547.1 148.5h.01M547.2 136.9h.01M549.9 160.3h.01M548.8 151h.01M549.5 158.6h.01M549.5 162.4h.01M552.4 163.3h.01M553.6 169.4h.01M555.4 173.5h.01M555.8 163.4h.01M559.2 170.2h.01M559.7 169.6h.01M562.2 181h.01M562.3 182.6h.01M563.4 188.5h.01M561.5 180.6h.01M564.2 175.4h.01M566.6 189.3h.01M567 165.9h.01M566.7 168.1h.01M569.4 184.2h.01M571.6 169.9h.01M572.5 185.5h.01M571.8 187.9h.01M572 188.1h.01M573 192.5h.01M573.3 197h.01M573.3 171.5h.01M574.5 196h.01M574.4 194.9h.01M575 199.7h.01M577.8 171.5h.01M579.5 201.6h.01M579.2 198.8h.01M580.7 198.6h.01M580.7 172.8h.01M580.3 192.5h.01M581.3 198.5h.01M582.2 198.2h.01M582.1 172.4h.01M581.9 178h.01M583.5 205.3h.01M582.7 197.5h.01M583.4 199.4h.01M582.5 189.1h.01M582.5 179.1h.01M583 192.2h.01M584 199.1h.01M584.3 192.7h.01M584.4 190.9h.01M586.8 197.7h.01M585.7 197.5h.01M587.7 197.6h.01M587.5 191h.01M589.4 198.9h.01M588.7 205.1h.01M588.4 205.4h.01M589.2 203.8h.01M590.5 199.3h.01M590.9 205.4h.01M592 205.8h.01M593.9 207.6h.01M592.8 202h.01M594.7 208.9h.01M593.4 203.6h.01M592.8 196.4h.01M593.3 196.3h.01M593.1 195.1h.01M593.1 196.5h.01M594.6 197.3h.01M596.9 207.2h.01M596.2 199.3h.01M596.6 186.1h.01M597.1 189.9h.01M598.6 194.8h.01M597.3 202h.01M599.4 207.8h.01M598.4 198.8h.01M599.3 190.9h.01M598.9 193.8h.01M600.5 172.4h.01M600.7 204.3h.01M603.7 188.6h.01M605.7 176.1h.01M604.4 179.4h.01M604.6 176.6h.01M606.5 201.1h.01M605.5 189.3h.01M605.5 190.9h.01M605.5 204.8h.01M605.9 205.2h.01M606.7 198.5h.01M606.8 174h.01M607.7 186.4h.01M608.3 181h.01M607.6 189.8h.01M607.6 193.3h.01M606.8 202.8h.01M608.9 201.5h.01M609 201.5h.01M608.6 204.6h.01M609.8 198.2h.01M609.5 206.5h.01M610.9 205.7h.01M612.2 203.1h.01M611.8 204.1h.01M612.8 210.8h.01M614 210.3h.01M613.4 198.1h.01M613.2 197.1h.01M616.5 204.8h.01M614.9 202.6h.01M616.6 210.9h.01M620 211.6h.01M620.6 208.1h.01M621.7 204.6h.01M621.1 201.4h.01M621.6 212.7h.01M623.1 212.7h.01M621.7 202.6h.01M622.4 206.2h.01M623.3 215.2h.01M625 203.3h.01M623.9 204.5h.01M624.9 211.1h.01M627.1 212.6h.01M627.6 199.9h.01M627.8 202.4h.01M628 205h.01M628 200.2h.01M628.7 205.1h.01M628 216h.01M629.7 201.4h.01M629.6 202.6h.01M630.8 207.8h.01M630.5 207.8h.01M630.1 213.7h.01M631.4 211.6h.01M633 198.1h.01M632.5 211.6h.01M633.8 201.2h.01M634.5 208.2h.01M635.3 201h.01M635.4 212.9h.01M636.2 200.5h.01M637 203.6h.01M636.1 198.6h.01M636.8 200h.01M636.7 205.5h.01M637.3 212.4h.01M638.5 209.5h.01M636.6 208.1h.01M638.3 195.4h.01M639.1 204.2h.01M639.7 200.3h.01M642.2 207h.01M641.3 207.4h.01M642.4 194.8h.01M642.2 190.9h.01M643.9 212.5h.01M641.9 208.4h.01M644.4 202.2h.01M646.8 204.8h.01M647 204.1h.01M647.1 198.2h.01M647.4 200.7h.01M646.6 202.6h.01M648.2 195.3h.01M649.3 199h.01M649.5 202.1h.01M648.5 192.3h.01M648.4 194.9h.01M650.3 207.2h.01M649.5 197.5h.01M650.3 190.6h.01M650.7 203.3h.01M652.5 195.8h.01M652.9 200.1h.01M655.1 209h.01M655.2 202.9h.01M654.6 202.4h.01M656.6 200.1h.01M656.3 205.6h.01M658.3 202.7h.01M659.1 201.2h.01M657.4 200.2h.01M660.3 207h.01M659.5 212.7h.01M660.8 208.5h.01M661.8 208.8h.01M661.5 201.5h.01M661.1 210.4h.01M661.9 214.5h.01M662.7 213.5h.01M661.6 213h.01M663.5 212.8h.01M667.8 213.3h.01M668 214.8h.01M668.6 224.3h.01M668.9 223.4h.01M668.1 219.1h.01M669.2 216.7h.01M669.6 219.7h.01M669.2 217.4h.01M672.6 216.4h.01M673.6 235.5h.01M674 224.2h.01M674.3 228.6h.01M674.2 236.3h.01M676.5 230.6h.01M676.5 234.2h.01M675.5 235.1h.01M678.1 235.1h.01M677.4 239.1h.01M677.7 234h.01M681.1 233.8h.01M680 232.3h.01M680.6 237.8h.01M681.6 225.2h.01M682.1 226.8h.01M683.3 238.7h.01M683.8 235.6h.01M682.4 217.6h.01M685.3 241.3h.01M684 221.9h.01M685.2 248h.01M686.7 243.4h.01M685.3 218h.01M687.1 260.5h.01M688.9 259.7h.01M688.5 220.6h.01M688.2 236.9h.01M690.2 266.7h.01M688.8 241.5h.01M689.7 259.3h.01M690 259.7h.01M689.1 237.3h.01M689.9 262.8h.01M691.2 262.8h.01M690.2 244.4h.01M692.5 264.2h.01M691.4 264.4h.01M691.6 257.1h.01M693 261.4h.01M693.2 252h.01M693 247.2h.01M693.7 258.1h.01M693.8 243.8h.01M696.3 237.5h.01M699.3 228.9h.01M700.8 234.5h.01M702.2 236.7h.01M703.3 241h.01M702.9 219.5h.01M703.7 216.8h.01M703.5 202.6h.01M702.7 231.4h.01M702.9 226.2h.01M703.4 218.7h.01M703.3 214h.01M704.1 202.3h.01M704.8 236.2h.01M705.4 196.9h.01M705.9 220.6h.01M704.6 199.8h.01M705.8 228.7h.01M706.2 204h.01M705.3 209.1h.01M705.3 231.1h.01M706.9 227.1h.01M706.6 224.4h.01M706.5 219.2h.01M706.8 226.4h.01M707.3 233.4h.01M707.5 231h.01M708.8 237.3h.01M707.1 222.8h.01M706.8 224.2h.01M708.8 237.9h.01M708.9 205.9h.01M708.9 227.5h.01M710 231.2h.01M711 219.5h.01M710.3 227.7h.01M710.1 211.8h.01M710.5 214.4h.01M711 233.3h.01M711.5 214h.01M712 199.2h.01M711.4 220.8h.01M711.2 219.7h.01M712 207.1h.01M711.4 225.3h.01M711.2 209.2h.01M711.7 236.7h.01M712.7 203.7h.01M712.5 215.5h.01M711.9 219.8h.01M712.5 206.2h.01M711.7 219.4h.01M712.7 225.2h.01M712 227.4h.01M711.9 210.4h.01M713.2 217.5h.01M712.6 188.8h.01M712.6 223.7h.01M712.3 212.2h.01M712.5 200.6h.01M712.2 219.7h.01M712.3 209.3h.01M715.7 237.4h.01M713.8 232.3h.01M714.9 219.7h.01M714.9 220.2h.01M714.6 210.6h.01M715 228.6h.01M714 236h.01M715.3 207.1h.01M715.7 212.1h.01M715.7 220.5h.01M715 231.9h.01M716.9 229.2h.01M717.3 235h.01M718.4 235.9h.01M718.6 235.3h.01M719.1 222.7h.01M719.6 215.9h.01M719.1 209.6h.01M719.6 226.3h.01M721.3 222.6h.01M722.4 233h.01M721 228.9h.01M722.4 211.7h.01M722.4 221.2h.01M723.9 217.4h.01M724.9 215.7h.01M725.8 230.6h.01M725.5 222.4h.01M727.7 211.6h.01M726.5 202h.01M727.2 220.4h.01M728.2 215.9h.01M727.6 194.8h.01M728.5 230.7h.01M728.8 207.2h.01M729.1 212.9h.01M730.4 229h.01M730 212.2h.01M732 228.2h.01M734 221.7h.01M731.6 222.9h.01M732.7 191.7h.01M733.6 187.5h.01M733.2 199.6h.01M734.4 220h.01M733.7 227h.01M733.6 155.2h.01M734.7 208.3h.01M735.5 215.7h.01M734.8 179.3h.01M735.2 220.5h.01M736.7 217.8h.01M736.7 215.2h.01M736.9 180h.01M739.4 216.7h.01M739.2 217.5h.01M740.6 199.8h.01M742 221.6h.01M740.7 216h.01M742.6 211.8h.01M742.5 208.5h.01M743.4 225.9h.01M743.8 220.4h.01M744.1 220.9h.01M745.2 203.4h.01M744.3 212.4h.01M744.8 207.1h.01M744.6 189.4h.01M745.6 198.6h.01M745.5 180h.01M746.3 185.8h.01M747.2 225.1h.01M747.2 186.8h.01M746 192.6h.01M746.6 189.4h.01M746.5 212.3h.01M747.1 211.5h.01M749.3 223.9h.01M747.9 203.3h.01M748.4 214.5h.01M747.8 203.2h.01M747.2 215.4h.01M747.7 227h.01M749.6 217.8h.01M750.8 223.1h.01M750.5 210.4h.01M751.4 219.6h.01M751.5 201.9h.01M751.9 212.4h.01M753.3 230h.01M754.8 230.6h.01M753.4 212.1h.01M752.9 228.7h.01M755 220.9h.01M756.1 222.1h.01M757.4 224.2h.01M756.1 221.7h.01M758 225.9h.01M756.3 224.5h.01M755.9 206.9h.01M757.7 210.9h.01M757.6 209.6h.01M758 215.7h.01M757.9 209.3h.01M759.4 223.7h.01M759.1 210.4h.01M757.4 212.1h.01M758 210h.01M758.5 212.9h.01M758 203.7h.01M760.3 219.7h.01M759.5 218h.01M759.4 207.4h.01M761 213.1h.01M760.2 207.4h.01M762.6 207.8h.01M761.3 206.5h.01M762 204.9h.01M760.7 192.9h.01M763.8 210.4h.01M762.9 212.1h.01M763.4 211.2h.01M764.2 204h.01M766.7 203.9h.01M767.4 207.5h.01M765.8 200.5h.01M765.5 180.7h.01M766.5 190.1h.01M767.9 197h.01M767.9 195.8h.01M768.9 204.7h.01M767.6 203.4h.01M769.7 185.3h.01M769.2 182.8h.01M769.6 194h.01M770.2 180.3h.01M770.1 193.6h.01M771.8 177.9h.01M773.2 206.4h.01M772 200.2h.01M773.6 204h.01M772.9 184.3h.01M774.3 181.1h.01M774.8 175.6h.01M774.8 194.5h.01M775.8 198.4h.01M775.9 189.9h.01M775.5 178.6h.01M776.5 171h.01M776.2 197.3h.01M776.3 193.8h.01M776.5 185.7h.01M777.1 187h.01M778.5 196.5h.01M776.9 171.3h.01M777.6 180.9h.01M777.5 191.6h.01M779.9 202h.01M779 205.7h.01M779 199.6h.01M780.4 209.3h.01M780.3 196.2h.01M783.2 206.4h.01M782.2 203.4h.01M782.1 198.9h.01M785 210.4h.01M783.4 210.6h.01M783.3 203.9h.01M783.9 208.2h.01M784.6 201.6h.01M784.4 196.9h.01M784.8 206.8h.01M786.6 201.8h.01M788.6 208.1h.01M788.9 208.2h.01M788 206.4h.01M788.5 208.7h.01M792.3 212.1h.01M793.4 209.1h.01M793.4 207.7h.01M791.6 208.5h.01M793.5 213.7h.01M793.7 207.5h.01M793.8 204.4h.01M793.8 205.3h.01M793.3 205.8h.01M797.1 218.1h.01M799.1 211.9h.01M800.4 208.9h.01M801.9 207.7h.01M803.5 218.7h.01M804.5 217.5h.01M803.3 210.2h.01M802.8 213.4h.01M802.9 214.3h.01M804 212h.01M807 203.1h.01M806.2 206.1h.01M808.2 208.4h.01M808.8 211.6h.01M807.9 209.7h.01M807.1 206h.01M810.1 216.1h.01M810.9 191.2h.01M810 197.1h.01M812.1 215.1h.01M812.2 213.9h.01M812.5 189.3h.01M813 214.8h.01M815.3 208.7h.01M813.6 202.4h.01M813.1 210.1h.01M813.8 205h.01M815.9 205.7h.01M817.6 199.9h.01M817.9 209.5h.01M819.4 200.7h.01M819.7 204.8h.01M820 210.1h.01M819.8 208h.01M821 196.3h.01M823.4 204.3h.01M823.6 209.4h.01M825.1 198h.01M824.8 197.9h.01M824.9 197.9h.01M824.7 196.8h.01M825.8 197.2h.01M827.2 203h.01M827.5 206.8h.01M828.2 203h.01M830.8 201.9h.01M830.2 209.6h.01M834.7 220.4h.01M836.7 215.3h.01M836.3 222.2h.01M837.7 221.2h.01M836.7 221.7h.01M841.5 222.6h.01M841.7 216.8h.01M844 228.8h.01M843.9 222.7h.01M845.7 233h.01M843.6 227.9h.01M844.4 222.2h.01M848.1 227.6h.01M849.4 221.3h.01M848.6 202.9h.01M848.2 206.2h.01M849.3 209.9h.01M849.3 225.4h.01M850.3 219.3h.01M850.5 206.3h.01M851.3 207.1h.01M850.8 210h.01M852.3 217.9h.01M851.5 203h.01M851.7 220.5h.01M851.6 206h.01M851.3 215.7h.01M851.9 230.2h.01M852.3 216.5h.01M853.1 214.3h.01M852.1 218.8h.01M852.7 197.1h.01M852.8 214.1h.01M852.9 203.4h.01M852.8 213.2h.01M852.2 210.3h.01M852.5 219.8h.01M852.6 221.4h.01M852.3 221.5h.01M852.7 225.7h.01M853.8 229.9h.01M855.9 219.3h.01M857.3 220.3h.01M857.9 189.2h.01M857.5 190.4h.01M857.3 193.1h.01M859.6 216.3h.01M859.8 220.8h.01M859.4 192.2h.01M859.3 218.3h.01M861.3 195.9h.01M866.6 216.9h.01M865.4 200.8h.01M864.9 215.3h.01M865.7 201.8h.01M865.8 221.9h.01M866.9 221.6h.01M868.8 214.1h.01M868.5 214.8h.01M870.3 227.5h.01M870.4 228.6h.01M870.1 223.4h.01M869.7 212.9h.01M870.5 215.4h.01M872.2 225.4h.01M871 227.6h.01M872.7 224.5h.01M872 234.1h.01M874.8 229.2h.01M873.8 218.2h.01M876.1 236.1h.01M875.7 220.2h.01M876.4 230.4h.01M877.2 227.3h.01M876.4 230h.01M877.2 235.4h.01M876.8 241.5h.01M878.1 243.5h.01M877.2 243.6h.01M877.9 225.6h.01M877.5 232.4h.01M878.7 243.1h.01M879.5 233.3h.01M881.1 240h.01M880.9 242.6h.01M883.5 241.6h.01M883 230.8h.01M882.6 224.4h.01M882.5 236h.01M883.4 239.9h.01M886.6 245.5h.01M883.3 244.7h.01M885 245.6h.01M885.2 240.9h.01M884.3 238.9h.01M887.8 240.8h.01M886.7 246h.01M886.5 232.3h.01M886.4 232.2h.01M886.9 241.5h.01M888.1 240.3h.01M886.3 222.3h.01M888 225.9h.01M887.6 220.2h.01M888.4 236.1h.01M888.3 229.7h.01M888.6 230h.01M888.8 236.2h.01M890.1 229.8h.01M890.8 213h.01M892.8 221h.01M893.2 218.9h.01M894.6 243.4h.01M893.5 218.4h.01M894.4 247.3h.01M896.5 212.8h.01M897.2 242.8h.01M896.4 234.7h.01M897.2 246.6h.01M897.8 244.6h.01M896.3 247h.01M897.3 238.9h.01M899.3 247.1h.01M899.2 235.2h.01M899.1 230.4h.01M900.1 207h.01M899.5 229.2h.01M902 211.8h.01M902.2 218.4h.01M903 226.3h.01M903.1 234.9h.01M902.6 210h.01M901.8 246.8h.01M903.3 236.7h.01M903.5 230.1h.01M904.8 243.6h.01M904.3 222.3h.01M904.8 216.6h.01M905.6 249.5h.01M905.7 204.9h.01M905 222.8h.01M905.9 218.6h.01M905.8 215.9h.01M906.2 231.3h.01M905.8 227.8h.01M905.5 241.3h.01M906.3 220.8h.01M906 234.6h.01M907.3 230.7h.01M908.6 226.5h.01M911.3 249.1h.01M912.8 249.6h.01M911.6 215.7h.01M912.4 242.1h.01M915.8 233.7h.01M915.6 234h.01M917.4 242.6h.01M917.8 249.7h.01M918.8 244.5h.01M920 243.4h.01M919.2 249.2h.01M921.6 254.1h.01M921.8 246h.01M921 251.4h.01M920.3 252.6h.01M921.7 247.5h.01M922 244.3h.01M922 243.3h.01M923.1 236.5h.01M921.6 240.6h.01M923.7 239.4h.01M927.2 255.7h.01M926.9 256.5h.01M926.8 257.7h.01M927.6 228.5h.01M927.8 244.6h.01M930 259.9h.01M929.3 235.5h.01M929.2 237.2h.01M929 239.1h.01M929.5 246.1h.01M929.6 248h.01M933 252.3h.01M932.7 249.8h.01M934 230.2h.01M933.2 240.7h.01M935.7 243.9h.01M935.9 225.7h.01M934.6 247h.01M935.8 247.2h.01M936.3 258h.01M936.8 262h.01M937 248.2h.01M936.9 260.4h.01M938.2 220.4h.01M937.4 258.7h.01M939.3 252.1h.01M939.5 242.3h.01M941.1 263.1h.01M944.7 261.3h.01M945.7 247.7h.01M944.9 229.1h.01M946.2 266.1h.01M948.4 227h.01M947.8 256.2h.01M947.4 224.9h.01M948 238.5h.01M947.4 243.7h.01M947.6 223.7h.01M947.7 220.8h.01M948.4 255.6h.01M947.4 254.7h.01M947.7 245.2h.01M947.6 228.6h.01M948.2 251.3h.01M947.1 234.7h.01M947.2 240.5h.01M949 218.9h.01M948.1 265.1h.01M949.3 248h.01M949.2 261.9h.01M951.6 263.5h.01M951.6 263.6h.01M950.8 255.7h.01M951.4 234.5h.01M950.9 233.4h.01M951.3 245.9h.01M951.2 252.1h.01M951.2 255.9h.01M951.8 251.3h.01M953.3 268.5h.01M953.7 263.7h.01M952.6 265.6h.01M953.8 251.1h.01M954.3 246.2h.01M953 245.4h.01M953.6 251.8h.01M953.4 245.2h.01M953.2 250.8h.01M953.4 243.8h.01M953.2 239.7h.01M954.5 256.6h.01M954.2 252.3h.01M952.6 247.7h.01M953.2 250h.01M953.1 234.6h.01M954 269.6h.01M957 245h.01M956.4 258.4h.01M956.6 254.5h.01M957 240.4h.01M956.9 255.2h.01M956.9 237.8h.01M959 257.2h.01M958.8 253.3h.01M958.4 246.3h.01M960.7 264.3h.01M959.4 267.9h.01M961.1 261.3h.01M961.9 268.4h.01M960.5 254.6h.01M961.1 233.2h.01M962 241.9h.01M961.6 245.3h.01M961.6 219.4h.01M962.1 249.7h.01M963.4 258h.01M963.1 260h.01M964 245.2h.01M963.7 256.1h.01M966 233h.01M965.8 247.1h.01M964.8 242.9h.01M965.4 241.3h.01M966.1 228.7h.01M965.3 243h.01M966.8 247.4h.01M966.3 245.5h.01M967.1 245.3h.01M967.7 216.3h.01M967.6 248.8h.01M968.3 257.1h.01M968.6 257.9h.01M968.5 231h.01M970.9 251.7h.01M970.1 246.8h.01M970.1 226h.01M971.8 258.5h.01M971.7 251h.01M971.8 236.5h.01M971.4 219.1h.01M970.4 248.4h.01M971.7 235.4h.01M971 243.3h.01M971.5 240.8h.01M973 258.9h.01M973.5 231.2h.01M973.8 243.6h.01M973.9 230.3h.01M973.1 250.5h.01M973.4 216.3h.01M974.4 247.7h.01M974.6 246.2h.01M974.1 257.7h.01M975.2 220.7h.01M976.1 244.2h.01M976.6 253.6h.01M978.1 251.2h.01M977.8 231h.01M978.7 235.3h.01M980.4 256h.01M979.7 237.2h.01M981.6 231.6h.01M981.1 239.5h.01M981.2 231.8h.01M981.7 244.9h.01M981.5 237h.01M982 232.8h.01M981.3 241.3h.01M981.9 221h.01M981.3 233.5h.01M984.6 254.7h.01M984.9 247.2h.01M986.2 236.6h.01M985 244.8h.01M985.2 245.4h.01M988.6 252.8h.01M988.1 248.1h.01M989.1 250.6h.01M988.8 255h.01M991.7 246.5h.01M990.9 235.6h.01M991 251.4h.01M994 242.7h.01M995.5 248h.01M994 231.8h.01M994.7 239.7h.01M995 250.4h.01M996.3 243.2h.01M995 214.6h.01M995 238.5h.01M996.1 231.6h.01M995.9 229h.01M994.6 237.2h.01M995.5 202.9h.01M996.1 229.2h.01M996.7 243.9h.01M995.6 209.5h.01M996.3 235h.01M997.2 229.3h.01M997.3 238.5h.01M997.8 234.9h.01M998.6 246.6h.01M998.2 241.3h.01M1000.8 243.7h.01M1000.1 236.3h.01M999.8 227.8h.01M1001.6 234.1h.01M1003.8 236.9h.01M1002.5 238.2h.01M1002.4 223.8h.01M1003.3 226h.01M1002.4 239.5h.01M1003.4 236.9h.01M1003.9 236.3h.01M1004.5 234.5h.01M1005.3 236.2h.01M1005.4 239.8h.01M1005.5 241.8h.01M1005.4 230.9h.01M1004.9 228.8h.01M1005.6 227.1h.01M1006.2 226.2h.01M1006 227h.01M1005.4 223.8h.01M1005.8 228.7h.01M1006.5 237.8h.01M1006.1 224.7h.01M1006.3 231.2h.01M1005.8 229.7h.01M1008.2 238.7h.01M1007.3 221.3h.01M1008.5 232.3h.01M1007.9 222.5h.01M1011.2 239.7h.01M1012.1 226.8h.01M1012.4 221.5h.01M1012.4 227.1h.01M1012.2 211h.01M1012.9 224.2h.01M1012.3 211.8h.01M1012.2 208h.01M1012.8 235.9h.01M1014.7 204.8h.01M1014.5 207h.01M1014.2 226.7h.01M1015 226.7h.01M1016.1 226.6h.01M1015.3 215.3h.01M1015.5 215.3h.01M1015.4 230.2h.01M1015.5 211.6h.01M1017.4 224.8h.01M1017.5 210.8h.01M1017.8 228.3h.01M1017.9 210.3h.01M1017.5 237.2h.01M1019.3 240.4h.01M1018.9 222h.01M1020.4 238.3h.01M1020.2 234.7h.01M1019.4 235.7h.01M1020 244h.01M1022 237.1h.01M1023.4 230.3h.01M1023.5 245.6h.01M1026.1 242.4h.01M1028 248h.01M1027.9 247.1h.01M1026.9 239.5h.01M1031.8 239.3h.01M1031.4 243h.01M1031.7 243.5h.01M1031.6 225.3h.01M1032 231.7h.01M1031.6 220.5h.01M1031.5 227.6h.01M1031.9 215.7h.01M1034.4 241.7h.01M1035.5 163.5h.01M1036.3 236.4h.01M1036.1 203.3h.01M1037 228.1h.01M1036 206.6h.01M1036.5 189.1h.01M1038.2 159.2h.01M1037.3 189.3h.01M1037.8 203.5h.01M1037.2 153.4h.01M1036.6 180.9h.01M1036.8 218.7h.01M1037.7 223.3h.01M1037.1 213.1h.01M1037.4 181.6h.01M1038 218h.01M1038.3 220.4h.01M1039.9 181.8h.01M1040.1 214.8h.01M1041 237.1h.01M1040.9 217.4h.01M1041.4 221.8h.01M1042.1 222h.01M1041.3 188.5h.01M1043.4 231.5h.01M1042.1 220h.01M1042.3 194.6h.01M1042.9 209.3h.01M1042.3 202.4h.01M1042.5 211.1h.01M1042.9 214.5h.01M1042.3 191.6h.01M1043.1 206.4h.01M1042.7 224.2h.01M1042.4 189.1h.01M1043.5 206.8h.01M1044.2 233.3h.01M1044.8 231.9h.01M1046.2 235.2h.01M1045.3 228.1h.01M1046.5 233.6h.01M1045.9 234.3h.01M1048.4 228.2h.01M1050.3 234.4h.01M1050.9 233.5h.01M1052.4 229.5h.01M1050.8 232.9h.01M1051.9 228.1h.01M1053.3 233.5h.01M1055 233.3h.01M1056.7 222.1h.01M1057.9 224.9h.01M1058.3 229.1h.01M1058.7 234.4h.01M1059.3 219.2h.01M1059.2 211.4h.01M1064.6 215.6h.01M1064.2 219h.01M1064.4 189.1h.01M1065 217h.01M1064.4 218.8h.01M1064 205.6h.01M1065 208.4h.01M1064.4 209.6h.01M1063.7 219.1h.01M1065.6 224.2h.01M1064.8 230.2h.01M1066 207.5h.01M1066.7 207.7h.01M1067.2 213.4h.01M1066 204.8h.01M1066.7 219.5h.01M1065.6 219.7h.01M1067.7 211.2h.01M1069 230.3h.01M1069.9 220.3h.01M1071.1 220h.01M1071.1 232.8h.01M1072.9 234.8h.01M1072.4 226h.01M1072.3 223.7h.01M1074.9 237.6h.01M1077.6 241.5h.01M1078.3 238.7h.01M1076.1 228.7h.01M1079.5 234.6h.01M1080.7 228.9h.01M1083 235.2h.01M1085.7 239.8h.01M1086 236.7h.01M1085.7 224.1h.01M1085.8 224.4h.01M1086.8 237.6h.01M1086.3 232.6h.01M1085.8 231.3h.01M1087.3 224.6h.01M1087.2 226.3h.01M1089.7 234.7h.01M1089.6 230.2h.01M1089.1 219.5h.01M1087.7 224.6h.01M1088.9 227h.01M1088.8 219.5h.01M1088.5 223.6h.01M1088.2 220.2h.01M1088.7 227.7h.01M1089.3 238h.01M1089.8 228.3h.01M1089.8 212.8h.01M1089.3 225.1h.01M1090.5 238h.01M1092 226h.01M1091.9 226.2h.01M1092.4 237.1h.01M1093.1 230.4h.01M1095.2 218.6h.01M1095.3 209.8h.01M1095 222.9h.01M1098.5 223.1h.01M1099.3 230.6h.01M1100.5 224.4h.01M1098.7 227h.01M1100.7 228.3h.01M1101.5 225.8h.01M1099.4 209.2h.01M1100.3 208.5h.01M1099.3 215.1h.01M1099.4 218.4h.01M1099.4 204.7h.01M1100.4 224.4h.01M1102.4 223.6h.01M1101.2 207.3h.01M1101.1 204.1h.01M1103.2 224.5h.01M1103.2 225.8h.01M1104.3 226.4h.01M1104.4 216.3h.01M1104.5 214.1h.01M1105.5 229.3h.01M1104.9 224.4h.01M1104 227.7h.01M1106.5 234h.01M1110.7 233.2h.01M1110.6 225.6h.01M1112.9 233.9h.01M1116.3 233.3h.01M1116.1 246.4h.01M1118.8 248.3h.01M1122.7 241.7h.01M1122.6 240.3h.01M1121.8 245h.01M1123.1 238.1h.01M1124.4 244.8h.01M1124.2 225.5h.01M1124.5 220.6h.01M1124.8 228.1h.01M1124.5 233.1h.01M1124.8 226.5h.01M1124.3 224.5h.01M1124.3 217.5h.01M1123.8 233.1h.01M1126.8 243.6h.01M1125.3 223.3h.01M1125.2 231h.01M1127.3 243.6h.01M1126.9 240.4h.01M1128.7 243.6h.01M1127.6 222.8h.01M1128.1 241.7h.01M1129.6 210.7h.01M1130.5 228.5h.01M1131.1 214.2h.01M1130.9 223.5h.01M1131.7 228.7h.01M1131.7 213.7h.01M1130.7 226.9h.01M1130.6 219.2h.01M1130.1 227.7h.01M1130.6 220.5h.01M1130.4 222h.01M1130.7 227.8h.01M1132 210h.01M1132.7 233.5h.01M1135.4 224.8h.01M1135.8 231.1h.01M1138.9 229.8h.01M1138.5 212.1h.01M1137.9 224.4h.01M1138.1 209.6h.01M1138.5 220.4h.01M1138.4 220.4h.01M1138.8 227.1h.01M1138.6 226.3h.01M1139.8 235.7h.01M1142.7 231.7h.01M1139.1 227.6h.01M1142.8 235.4h.01M1143.6 237h.01M1141.8 223.5h.01M1141.7 223.9h.01M1143.1 212.5h.01M1143.6 222.9h.01M1143.4 224h.01M1143.8 221.6h.01M1142.8 223.7h.01M1143.6 223h.01M1143.8 217.3h.01M1143.3 218.7h.01M1144 232.2h.01M1144 233.8h.01M1144.3 233.4h.01M1145.3 209.4h.01M1145.6 214.1h.01M1148.8 222.1h.01M1148.7 218.3h.01M1148.8 217.2h.01M1149.6 217.8h.01M1149.9 230.2h.01M1149.2 228.5h.01M1148.9 210.7h.01M1149.1 217.4h.01M1150.1 219.1h.01M1151.1 220.4h.01M1151.6 226.9h.01M1151.4 225.6h.01M1151.8 214.5h.01M1153.8 217.5h.01M1152.5 219.5h.01M1154 211.3h.01M1153.2 211.8h.01M1153.4 210.2h.01M1155.5 210.6h.01M1155.3 182.2h.01M1155.6 150.6h.01M1155.9 175.6h.01M1155.1 158.6h.01M1155.9 156.4h.01M1154.4 173h.01M1156.9 151.9h.01M1157.1 152.2h.01M1156.5 145.3h.01M1156.1 131.1h.01M1156.2 153.7h.01M1156.4 147.5h.01M1156.8 152.6h.01M1157 142h.01M1156.2 153.6h.01M1156.3 124.1h.01M1155.7 140.4h.01M1155.7 123.8h.01M1156.7 150.5h.01M1157.7 152h.01M1156.1 157.3h.01M1156.1 121.4h.01M1156 127.2h.01M1156.5 143.6h.01M1155.8 150.8h.01M1157.5 150.5h.01M1156.4 142.1h.01M1156.6 140.5h.01M1157.5 138.5h.01M1156.8 103.9h.01M1160.3 135h.01M1158 131.7h.01M1160.3 131.8h.01M1161.3 138.7h.01M1159.9 109h.01M1161.8 104h.01M1161.5 116h.01M1161.4 120.1h.01M1161.6 94.3h.01M1164.5 132.1h.01M1164.8 163h.01M1164.3 154.9h.01M1165.3 185.6h.01M1165.4 157.2h.01M1165.4 189.6h.01M1168.4 200.8h.01M1167.2 196.3h.01M1165.5 199.6h.01M1166.4 184.6h.01M1167.1 177h.01M1166.6 161.6h.01M1168.8 184.1h.01M1167.4 194.6h.01M1167.4 171.4h.01M1167.6 184.7h.01M1170.6 187h.01M1170.6 174.6h.01M1170.5 183.4h.01M1170.1 189.1h.01M1170.7 196.8h.01M1170.5 176.4h.01M1170.3 190.2h.01M1170.5 176h.01M1170.8 190.5h.01M1170.6 175.4h.01M1172.6 204.9h.01M1171.9 180.7h.01M1172.5 186.4h.01M1173.8 195.9h.01M1173.9 174.5h.01M1174.1 164h.01M1172.5 160.8h.01M1173.4 184.1h.01M1178.2 192.7h.01M1177.7 154.7h.01M1178.1 155h.01M1178.9 168.6h.01M1181.2 192.3h.01M1181.8 202h.01M1182.2 197.6h.01M1180.8 181.4h.01M1181.1 173.4h.01M1180.9 162h.01M1183.2 200.6h.01M1182.1 177.4h.01M1182.1 177.3h.01M1182.3 170.8h.01M1182.8 187.4h.01M1184.5 196.5h.01M1184.9 183.3h.01M1185.9 193.1h.01M1186 184.5h.01M1187.1 192.4h.01M1186.6 173.5h.01M1187.9 187.5h.01M1187.6 185.9h.01M1187.3 186.7h.01M1187.6 174.2h.01M1186.9 186.7h.01M1187.2 185.6h.01M1188 183.2h.01M1187.4 175.8h.01M1188 197.2h.01M1188.5 181.9h.01M1189.2 192.9h.01M1191.5 194.7h.01M1189.7 182.3h.01M1189.1 186.1h.01M1192.5 189.1h.01M1191.7 195.1h.01M1190.2 174.7h.01M1190.2 176.9h.01M1192.1 185.7h.01M1194.4 187.7h.01M1196.5 190h.01M1199.1 188.2h.01M1199.2 191.2h.01M1198.9 180.2h.01M1198 171.7h.01M1198.5 180.2h.01M1198.1 181.7h.01M1199.2 180.2h.01M1199.7 182.3h.01M1201.2 167.4h.01M1201.9 166.7h.01M1200.7 179.4h.01M1201.9 173.1h.01M1200.9 179.8h.01M1202 175.8h.01M1202.7 178.6h.01M1203.5 173.9h.01M1205.5 187.7h.01M1203.8 169.6h.01M1204.7 161.5h.01M1204.3 164.6h.01M1204.9 167.5h.01M1207.8 159h.01M1208 170.7h.01M1207.6 152.8h.01M1209.1 178.9h.01M1211.8 175.6h.01M1210.9 161.6h.01M1211.5 173.4h.01M1210.3 155.8h.01M1212.4 152.6h.01M1210.9 159.9h.01M1212.9 170.1h.01M1212.3 163.3h.01M1213.9 176.8h.01M1216.2 171.5h.01M1213.9 153.9h.01M1214.2 142h.01M1216.3 171.5h.01M1216.7 172.7h.01M1215.1 169h.01M1219.9 155.1h.01M1218.8 165.7h.01M1219 164.2h.01M1219 158h.01M1219.6 159.9h.01M1217.7 141.6h.01M1218.5 160.9h.01M1218.3 150.9h.01M1218.6 153.2h.01M1218.8 134.2h.01M1218.7 152.3h.01M1218.5 160.4h.01M1219 158h.01M1219.4 157.2h.01M1220.2 157h.01M1222.2 181.8h.01M1220.9 176.8h.01M1221.1 168.4h.01M1221.6 165.5h.01M1220.9 152.5h.01M1222.9 162.4h.01M1222.9 163h.01M1221.6 163h.01M1223.1 181.6h.01M1223 182.9h.01M1222.8 179.4h.01M1224.8 174.9h.01M1223.7 160.2h.01M1224.4 167.5h.01M1227.4 183.9h.01M1226.1 187.8h.01M1224.7 181.9h.01M1227.8 161.6h.01M1230.2 180.6h.01M1227.6 179.3h.01M1228.4 179.1h.01M1231.1 174.5h.01M1232.1 174.3h.01M1230.3 177.4h.01M1233.3 173.3h.01M1233.9 153.6h.01M1233 157.7h.01M1233.9 157.1h.01M1235.4 171.4h.01M1237.8 169.6h.01M1237.2 161.8h.01M1236.6 152.1h.01M1238.3 167.4h.01M1238.6 175.5h.01M1239.2 173.2h.01M1238.1 171.3h.01M1237.9 164.8h.01M1238.7 160.8h.01M1241.3 151.8h.01M1241.6 163.9h.01M1240.9 163.2h.01M1242.5 172.8h.01M1244.9 151.2h.01M1248.1 182.7h.01M1247.7 153.3h.01M1247.4 153.9h.01M1249.1 172.1h.01M1248.1 163.8h.01M1248.7 169.2h.01M1250.3 147.2h.01M1251.4 170.7h.01M1252.4 158.1h.01M1253.7 162.5h.01M1252.2 157h.01M1252.4 162.6h.01M1253.2 163.5h.01M1253.8 155.8h.01M1255 156.9h.01M1255 144.1h.01M1255.2 123.5h.01M1255.2 145h.01M1254.8 141.3h.01M1257.1 151.2h.01M1257.8 134.4h.01M1257.5 142.6h.01M1259.5 145.2h.01M1259.7 147.6h.01M1260.9 146.3h.01M1261.7 141.5h.01M1261.7 144.8h.01M1264.4 146.5h.01M1265.1 150.2h.01M1265.1 148h.01M1265.6 133h.01M1265 140.4h.01M1266.7 139h.01M1265.9 109.2h.01M1265.9 138h.01M1266.3 121h.01M1266.6 139.1h.01M1268.2 149.4h.01M1267.8 143.5h.01M1267.4 130.2h.01M1268.3 149.4h.01M1269.8 110.2h.01M1269.2 142.3h.01M1271.3 145.8h.01M1271.9 144.5h.01M1272.5 132.8h.01M1273.6 146.6h.01M1273.8 152.1h.01M1275 147h.01M1274.5 147.1h.01M1275.6 133.3h.01M1275.1 151.3h.01M1276.9 140.7h.01M1276.2 136.9h.01M1277.6 151.4h.01M1277.2 129.5h.01M1278.2 146.4h.01M1279.4 140.7h.01M1279.7 142.1h.01M1280.9 146.4h.01M1282.1 152.5h.01M1281.1 144.4h.01M1281.3 135.3h.01M1283 148.3h.01M1284.4 140.5h.01M1287 147h.01M1287.9 133h.01M1287.1 139.2h.01M1287.2 139.6h.01M1287.4 145.3h.01M1287 143.6h.01M1288.1 147.1h.01M1289.4 139h.01M1290.6 149.5h.01M1290.5 150.4h.01M1290.7 146.9h.01M1293.1 153.1h.01M1291.5 155.2h.01M1291.1 149.5h.01M1291.8 154.2h.01M1292.3 131.9h.01M1292.6 147.5h.01M1292.8 147.9h.01M1292.2 156h.01M1294.3 156.9h.01M1295.8 156.8h.01M1293.3 153.5h.01M1295.3 157.5h.01M1299.2 157.9h.01M1301.6 153.3h.01M1302 157.3h.01M1301.8 148.9h.01M1301.1 144.7h.01M1301.7 147.9h.01M1301.6 145.2h.01M1301.1 144.6h.01M1301.7 145h.01M1300.1 137.3h.01M1302 141.6h.01M1302.9 152.4h.01M1303.5 150.6h.01M1304.4 148h.01M1305.2 137.3h.01M1304.9 148.3h.01M1304.7 140h.01M1304.1 142h.01M1305.5 147.6h.01M1305.2 152.2h.01M1304 130.9h.01M1305.1 146.9h.01M1304.7 142.6h.01M1304.8 154.3h.01M1305.6 146.4h.01M1303.7 139.8h.01M1305.1 153.1h.01M1305.1 143.4h.01M1307.5 173h.01M1308.4 156.8h.01M1308.9 144.3h.01M1309 156.5h.01M1308.3 147h.01M1308.5 156.4h.01M1308.4 153.6h.01M1307.2 169.6h.01M1309.9 158.6h.01M1309.8 151.6h.01M1308.5 158.2h.01M1309.5 141.1h.01M1309.5 155.3h.01M1310.1 155.7h.01M1308.9 139.3h.01M1311.3 165.5h.01M1311.3 157.2h.01M1309.6 163.4h.01M1310.6 150.7h.01M1310.4 159.2h.01M1310 153.3h.01M1311.8 178.3h.01M1314.5 142h.01M1314.3 144.1h.01M1315.4 135.8h.01M1315.7 126.3h.01M1315.3 160.6h.01M1314.8 149h.01M1317.1 172.8h.01M1317.8 158.9h.01M1317.1 164.9h.01M1317.9 161.3h.01M1318.6 128.7h.01M1318.7 160.7h.01M1318.5 137.1h.01M1319.3 131.7h.01M1319.8 72.9h.01M1320 161.7h.01M1319.4 106.8h.01M1319.3 155.4h.01M1318.9 123.4h.01M1318.6 158.4h.01M1318.5 138.8h.01M1319.6 117.3h.01M1319.3 150.2h.01M1319.3 121.6h.01M1319.6 84.9h.01M1319.8 128.7h.01M1320 165h.01M1319.9 144.7h.01M1319.5 148h.01M1318.4 131.3h.01M1319.5 136.3h.01M1318.7 73.7h.01M1319.1 127.1h.01M1319.1 166.4h.01M1319.5 150h.01M1319.6 125.5h.01M1320 144h.01M1319.4 142.1h.01M1319.5 108.6h.01M1319.4 147.2h.01M1318.2 135.9h.01M1319 133.9h.01M1320.3 132h.01M1319.9 105.5h.01M1321.8 183h.01M1323.4 174.1h.01M1321.5 149.1h.01M1324.4 160h.01M1325 157.4h.01M1324.4 174.3h.01M1325.3 180.5h.01M1325.5 186.7h.01M1325.1 176.3h.01M1325.5 160.6h.01M1326.3 168.4h.01M1325.5 162h.01M1326.1 127.7h.01M1325.6 163.2h.01M1324.9 171.3h.01M1326.2 126.1h.01M1325.7 146.2h.01M1326.5 196.2h.01M1328.3 165.2h.01M1328.3 186.1h.01M1327.4 175.4h.01M1328.1 193.6h.01M1328 170.1h.01M1327.3 187.3h.01M1328.8 182h.01M1328.6 185.8h.01M1328.6 184.7h.01M1328.3 165.3h.01M1328.8 181h.01M1328.6 187.8h.01M1328.3 187.3h.01M1329.3 183.4h.01M1329.7 202.2h.01M1329 170.5h.01M1329.3 169.2h.01M1328.9 155.8h.01M1329.5 160.2h.01M1328.8 167.7h.01M1328.9 188.3h.01M1330.5 199.7h.01M1330.6 192.7h.01M1331.3 192.2h.01M1330.7 193.8h.01M1331.2 191.6h.01M1331 198.6h.01M1331.3 198.7h.01M1332.1 179.1h.01M1333.9 189.6h.01M1333 194.1h.01M1333.5 193h.01M1334.3 193h.01M1333.6 157.4h.01M1334.4 196h.01M1334.8 188.1h.01M1333.3 194.4h.01M1334.8 192h.01M1336.6 186.3h.01M1336.1 146.2h.01M1340 181h.01M1338.8 179.8h.01M1339.8 183.6h.01M1339.7 163.6h.01M1339.6 172.6h.01M1339.5 157.9h.01M1339.9 156.6h.01M1339.9 157.8h.01M1339.6 162.8h.01M1340.2 150.3h.01M1338.9 159.3h.01M1339.4 167.2h.01M1339.7 172.1h.01M1340.2 170.6h.01M1339.5 171.3h.01M1339.9 158.6h.01M1339.8 148.6h.01M1339.6 178h.01M1338.9 124.9h.01M1340.4 172.1h.01M1340.8 177.5h.01M1340.7 158.4h.01M1340.7 160.8h.01M1340.2 169.5h.01M1340.2 173.7h.01M1341 157.5h.01M1342.1 179.2h.01M1341.8 162.6h.01M1340.6 160h.01M1341.2 166.7h.01M1342.2 176.4h.01M1340 185.1h.01M1342.2 175.5h.01M1344.5 180.9h.01M1346.5 174.4h.01M1344.3 180.7h.01M1343.6 179.8h.01M1345.2 180.6h.01M1345.4 171.1h.01M1344 129.2h.01M1344.6 163.1h.01M1347.3 174.1h.01M1346.3 167h.01M1347.8 173.3h.01M1348.2 167.4h.01M1348.3 156.5h.01M1349.7 175.7h.01M1353.3 137.9h.01M1354.5 172.3h.01M1353.5 164.9h.01M1353.2 157.7h.01M1354.9 151.4h.01M1356.2 157.4h.01M1358.5 174.7h.01M1356.2 154.9h.01M1358.5 171.2h.01M1359.6 170.9h.01M1359.9 158.9h.01M1359.5 162.9h.01M1359.6 156.4h.01M1360.5 173.2h.01M1360.7 161.8h.01M1365.8 168.9h.01M1363.7 173.5h.01M1364.6 170.7h.01M1364.8 148.1h.01M1365.4 161.6h.01M1365.4 164.1h.01M1367.2 165.8h.01M1369.5 163.3h.01M1367.6 140.2h.01M1368.4 139h.01M1370.6 161.8h.01M1369 158.8h.01M1370 145.4h.01M1369.4 142.3h.01M1370.2 145.6h.01M1370.9 121.8h.01M1370.3 147.7h.01M1370.4 149h.01M1370.1 148.2h.01M1370.3 155.1h.01M1371.2 131.6h.01M1370.9 159.2h.01M1371 163h.01M1371.4 135.5h.01M1371.8 142h.01M1371.4 141.6h.01M1372.3 124.8h.01M1372.4 117.8h.01M1375.4 155.1h.01M1377.8 154.8h.01M1376.6 149.5h.01M1376.5 125.1h.01M1375.8 123.4h.01M1376.5 118.1h.01M1376.5 131.1h.01M1376.3 132.1h.01M1377.1 119.8h.01M1377.3 139.7h.01M1376.5 142h.01M1377 106.9h.01M1378 138.1h.01M1377.4 141.2h.01M1377.3 117.4h.01M1377.7 129h.01M1377.6 112.5h.01M1377 140.1h.01M1376.9 119.7h.01M1378.4 111.3h.01M1378.2 127.7h.01M1379.4 154.7h.01M1380 143.3h.01M1380.5 146.2h.01M1379.7 132.5h.01M1380.8 134.4h.01M1381.4 125.8h.01M1381 126.9h.01M1382.2 117.5h.01M1382.6 136h.01M1384.6 157.7h.01M1383.4 123.5h.01M1386.1 161.7h.01M1385.3 145.6h.01M1385.7 135.7h.01M1388.2 140.6h.01M1387.2 141.5h.01M1389 141.1h.01M1387.9 154h.01M1389.6 168.6h.01M1391.5 170.7h.01M1389.7 169.1h.01M1391.5 155.5h.01M1393.1 167h.01M1394 168.8h.01M1394.5 163.7h.01M1392.7 158.8h.01M1393.5 161.5h.01M1393.7 147h.01M1393.5 156.1h.01M1393.5 150.2h.01M1393.7 160.2h.01M1394.9 169.3h.01M1399.4 162.1h.01M1400.1 181.8h.01M1401.7 184.9h.01M1401.8 188h.01M1401.1 192h.01M1404.8 198.4h.01M1404.2 180.9h.01M1404.4 184.7h.01M1405.5 198.3h.01M1407.4 191.8h.01M1405.5 199.6h.01M1406.4 185.5h.01M1406.9 170.4h.01M1408.6 197.7h.01M1407.2 190.6h.01M1408.5 183.1h.01M1412 195.7h.01M1411.3 189.6h.01M1411.7 193h.01M1413.4 187.3h.01M1413.7 186.8h.01M1414.5 201h.01M1415.1 195.5h.01M1415.5 196.5h.01M1417.2 198.9h.01M1419.8 182.7h.01M1418.6 173.1h.01M1420 160.2h.01M1419.9 170.4h.01M1420.4 181.8h.01M1423 185.6h.01M1423.2 183.4h.01M1423 158.6h.01M1423.9 162.6h.01M1424.6 164.7h.01M1424.2 172.6h.01M1423.1 158.1h.01M1423 177.5h.01M1426.2 188.7h.01M1426.7 179.5h.01M1427.1 174.1h.01M1426.6 192.8h.01M1426.7 195.3h.01M1428.9 185.6h.01M1428.3 176.2h.01M1428 180.7h.01M1430.4 194.1h.01M1429.4 196.8h.01M1428.9 194.3h.01M1429.4 197.7h.01M1430.4 183.9h.01M1430.1 177h.01M1432.2 186.7h.01M1431.6 195.9h.01M1432.5 194.3h.01M1433.7 199.3h.01M1435.7 201.3h.01M1436.2 195.8h.01M1435.3 196.5h.01M1433.8 199.8h.01M1436.6 188.1h.01M1436.4 190h.01M1439.2 194.2h.01M1439.7 188.5h.01M1440.3 194.8h.01M1441.4 197.6h.01M1441.8 197.6h.01M1441.7 192h.01M1442.5 202.1h.01M1445.6 192.2h.01M1447.9 200.5h.01M1448 200h.01M1448.4 197.8h.01M1447.7 193.4h.01M1449.9 201.2h.01M1450.9 204.5h.01M1452.5 193.5h.01M1454.4 196.8h.01M1453.6 202.9h.01M1454.5 195.9h.01M1456.3 199.2h.01M1457 195.8h.01M1457.3 186.4h.01M1456.7 182h.01M1458.8 181.7h.01M1458.9 187.2h.01M1458.8 177.2h.01M1459 198.4h.01M1460.3 183.1h.01M117.2 293.2h.01M116.9 300.9h.01M117.3 309.8h.01M118.2 300h.01M118.5 305.7h.01M119.6 298.3h.01M119.9 310.5h.01M118.5 310.3h.01M121.4 299.8h.01M122.1 303.4h.01M123.2 303.2h.01M124.3 312.3h.01M124.7 301.5h.01M124 296.2h.01M124.6 308h.01M126.6 305.6h.01M126.1 305.6h.01M131.5 324h.01M130.4 332.1h.01M131 311.7h.01M131.7 308.4h.01M131.9 303.1h.01M132.3 324.8h.01M132.7 335h.01M133.3 337.9h.01M135.1 311.5h.01M134.1 310.3h.01M133.7 330.6h.01M136.8 308.6h.01M139 312.9h.01M138.2 305.6h.01M137.6 314h.01M138.3 323.6h.01M138 310.8h.01M138.4 318.5h.01M141 305.8h.01M139.3 312.1h.01M140.4 304.2h.01M143.2 311.3h.01M143.4 316.9h.01M143.1 309h.01M145.9 307.1h.01M144 308.2h.01M145.1 309.4h.01M144.9 305.2h.01M146.6 316.8h.01M148.2 322.6h.01M147.7 311.7h.01M150.8 310.5h.01M149.7 318.7h.01M150.5 309.1h.01M152.7 308.7h.01M151.5 318h.01M150.9 319.8h.01M154.8 310.2h.01M152.2 317h.01M154.6 311.1h.01M155.8 314.1h.01M156.3 321.4h.01M156.8 320.2h.01M159.1 315.4h.01M160.2 314.6h.01M162.2 323.1h.01M162.7 330.9h.01M164.4 319.7h.01M165.6 317.9h.01M165 320h.01M166 324.5h.01M166.9 321.3h.01M167.9 312.1h.01M167.4 322.6h.01M168 323.4h.01M167.5 324.2h.01M171.3 314.8h.01M172.1 328.3h.01M171.4 315.1h.01M174.9 324.1h.01M172.5 320.3h.01M176 323.7h.01M173.9 329.1h.01M174.8 328.5h.01M175 329.9h.01M176.1 326.1h.01M174.7 322.9h.01M176.9 327h.01M178.3 318.8h.01M177.5 328.5h.01M179.7 318.5h.01M178.4 328.4h.01M178.6 324.3h.01M179.4 308.7h.01M181.9 314.3h.01M191.1 285.6h.01M192.1 281.7h.01M190.4 291.9h.01M190.5 295.7h.01M193.1 293.7h.01M193.7 291.6h.01M193.9 291h.01M193.4 295.8h.01M194.2 289.6h.01M196.4 295.5h.01M196.7 298.4h.01M195.2 294.1h.01M195.6 294h.01M197.1 294.4h.01M196.4 325.4h.01M200.2 335.7h.01M201.8 331h.01M199.4 337.3h.01M200.3 336.1h.01M200.1 339h.01M202.8 333.9h.01M203.7 329.9h.01M202.3 331.7h.01M207.9 337.2h.01M206.8 338.6h.01M207.6 334.1h.01M208.9 339.2h.01M210.6 336.5h.01M210.7 330.7h.01M212.2 331.8h.01M212.3 334.8h.01M212.4 335.5h.01M211.8 341.8h.01M213.5 344.6h.01M213.3 335.4h.01M213.3 341.8h.01M213.4 342.4h.01M213.5 343.6h.01M215 342.1h.01M214.5 337.3h.01M213.2 329.3h.01M213.5 330.5h.01M215.3 331.7h.01M215.6 335.2h.01M215.8 344.1h.01M214.9 340.9h.01M215.6 339.7h.01M216.2 341.6h.01M214.8 332.5h.01M215.8 341.7h.01M216 341.7h.01M216.3 340h.01M217 327.8h.01M216.8 335.9h.01M217 328.5h.01M219.2 337h.01M222.5 348.5h.01M220.7 342h.01M222.4 332.2h.01M220.7 335.3h.01M222.9 339.3h.01M224.4 333.5h.01M224.6 339.8h.01M225.6 353.7h.01M226.8 339.1h.01M228.4 354.5h.01M230.7 342.6h.01M230.1 354.9h.01M230.1 345.9h.01M232.2 347.9h.01M231.4 347.5h.01M232.5 335.3h.01M233.3 345.5h.01M234.6 340.8h.01M233.7 335.6h.01M235.1 339.9h.01M233.2 333.5h.01M234.2 338.7h.01M235.2 344h.01M236.2 343.7h.01M235.8 345.9h.01M237.6 331.4h.01M238.6 334.8h.01M238.6 328.2h.01M239.7 327.2h.01M243 311.7h.01M243.4 300.5h.01M243.5 294.5h.01M244.3 312.1h.01M244.8 315.6h.01M245.6 321.8h.01M243.9 312.4h.01M244.9 309.1h.01M244.8 307h.01M245.4 318.1h.01M244.2 314.2h.01M244.1 327.1h.01M244.8 318.6h.01M244.1 319.3h.01M244.6 308.9h.01M246.5 293.1h.01M246.1 309.1h.01M247.1 291.1h.01M247.1 302.9h.01M247.5 316h.01M250.2 284.1h.01M247.4 290.1h.01M249.1 281.4h.01M248.7 297.8h.01M249.8 293.7h.01M251.1 282.6h.01M250.5 283.3h.01M252.2 285.3h.01M251.1 292.8h.01M251.9 302.2h.01M254.4 283.1h.01M254.4 273.9h.01M255 284.6h.01M257.6 280.2h.01M258.9 287.7h.01M259.5 294h.01M262.3 297.3h.01M264.6 300.8h.01M264.5 309.6h.01M265.1 323h.01M266.1 302.7h.01M266.4 316h.01M268.3 304.4h.01M267.9 308.5h.01M268.5 315.9h.01M270 335.7h.01M270.7 306.6h.01M270.7 314.2h.01M271.8 306.5h.01M272.3 319.9h.01M272.1 312.9h.01M272.8 319h.01M273 317.1h.01M273.4 315.5h.01M273.3 321.9h.01M272.1 317.2h.01M272.8 331.4h.01M273.2 322.4h.01M273.1 301.2h.01M274.3 300h.01M275 298.7h.01M274.8 307.8h.01M273.8 317.7h.01M274.8 305.6h.01M274.2 310.7h.01M276.3 295.1h.01M275.8 315.3h.01M276.6 321h.01M277.2 339h.01M276.9 294.8h.01M277.8 314.9h.01M278.8 293.5h.01M279.7 291.4h.01M278.2 305.9h.01M278.7 302.3h.01M278.5 305.4h.01M279.2 313.2h.01M278.2 302.8h.01M277.6 311.4h.01M278.5 306h.01M277.9 308.3h.01M278.1 306.9h.01M282.7 294.7h.01M284 314.3h.01M283.9 311.9h.01M284 310.4h.01M285.7 304.6h.01M288 325.9h.01M291.4 300.5h.01M292.5 299.1h.01M290.9 336.7h.01M290.7 310.6h.01M291.3 310.1h.01M291.3 328.7h.01M291.5 324.9h.01M291.7 312.8h.01M290.8 330.4h.01M292 347.4h.01M291.5 303.1h.01M292.9 300.7h.01M292.9 300.2h.01M295.3 319.5h.01M294.8 317.3h.01M297.6 302h.01M296.7 308.4h.01M296.4 300h.01M297 314.6h.01M296.3 332.1h.01M296.3 313.7h.01M296.5 313.3h.01M296.8 333.9h.01M297.2 338.6h.01M296.6 334.9h.01M295.8 319.4h.01M296.3 331.4h.01M297.1 306.9h.01M301.5 308.9h.01M298.1 308.3h.01M300.6 320.6h.01M301.1 308h.01M302.7 321.4h.01M302.1 312.7h.01M303.3 313.2h.01M302.9 332.1h.01M305 306.9h.01M305.7 308.7h.01M304.7 336.6h.01M304 325.8h.01M306.7 306.8h.01M307.7 310.3h.01M308.7 312.6h.01M309.2 327.4h.01M309.7 326.3h.01M309.5 334.2h.01M309.9 320h.01M310.4 316.5h.01M310.3 330.6h.01M311.6 310.2h.01M311.6 307.3h.01M310.5 335.4h.01M311.5 317.8h.01M311.3 331.4h.01M311.2 340.8h.01M310.8 343.1h.01M311.8 342.2h.01M312 331.5h.01M311.3 310.6h.01M312.7 333.6h.01M312.7 347.7h.01M313.7 315.2h.01M313.6 319.8h.01M315.1 314.8h.01M315 313.5h.01M315.8 340.9h.01M316.2 326.1h.01M314.9 326.4h.01M316 337.7h.01M315.7 326.7h.01M316.2 344.6h.01M316.3 336.7h.01M316.4 330.6h.01M315.9 350.7h.01M315.6 330.6h.01M316 348.7h.01M316.5 336.8h.01M316.3 366.2h.01M317.3 343h.01M317.8 329.2h.01M320.5 338.5h.01M321.9 337.2h.01M323.7 336.4h.01M325.4 337.1h.01M325.2 370h.01M326 354.1h.01M325.1 360.8h.01M326 352.5h.01M325.8 362.6h.01M325.8 350.3h.01M331.4 349.6h.01M328.8 357.3h.01M328.9 368.7h.01M328.9 353.5h.01M329.5 360.4h.01M329 358.5h.01M329.7 360h.01M329.9 358.3h.01M329.5 364.4h.01M328.8 352.2h.01M331 357.6h.01M330.6 352.6h.01M330.5 351h.01M331.4 339.1h.01M333.4 333.9h.01M331.6 331.7h.01M332.1 334.1h.01M333.1 328.8h.01M333.8 326.3h.01M334.8 325.5h.01M332.9 330.7h.01M335.9 323.8h.01M335.5 318.2h.01M335.7 319.2h.01M335.6 315h.01M335.8 325.7h.01M336.3 305.8h.01M336.6 300h.01M336.2 309.1h.01M336.8 308.8h.01M337.9 301h.01M339.7 290.8h.01M338.8 296.8h.01M338.7 297h.01M341.9 291.5h.01M341.9 290h.01M342.4 290.8h.01M342.2 309h.01M342.6 298.1h.01M342.6 302.4h.01M343.2 299.8h.01M342 294.4h.01M345 289.1h.01M345.2 293.8h.01M345.7 288h.01M346.5 294h.01M349.2 293.9h.01M347.1 293.7h.01M346.7 298.4h.01M347.2 299.3h.01M347.4 302.8h.01M347.8 328.1h.01M348.9 290.8h.01M349.9 289.4h.01M351.7 292.5h.01M351.4 308.1h.01M351.8 299.5h.01M353.6 293.1h.01M353.9 306.6h.01M354.7 312.7h.01M355.5 297.5h.01M354.8 303.2h.01M355.2 314.5h.01M355.4 318.1h.01M357.3 307.2h.01M356.7 311h.01M357.7 327.3h.01M358.3 334.1h.01M359.7 343.2h.01M361.5 350.1h.01M363.4 343.5h.01M365.2 338.2h.01M364.7 344.7h.01M365.9 335.1h.01M370.1 311.1h.01M369.5 322.5h.01M372 310.2h.01M373 313.2h.01M374.9 318.7h.01M374.1 314.2h.01M374.5 315.2h.01M373.7 314.4h.01M373.6 309.4h.01M376.2 313.9h.01M375.9 318.7h.01M376.7 325.2h.01M377.3 330.1h.01M377.9 325h.01M379.1 329.5h.01M379.5 346.6h.01M380.1 348.2h.01M379.9 348.8h.01M381 351.2h.01M380.5 350.9h.01M381 346.8h.01M381.5 349h.01M383.8 348.6h.01M381 347.5h.01M383.4 340.2h.01M383.5 342.3h.01M385.4 347.5h.01M383.9 349.6h.01M384.6 336.6h.01M386.2 337.9h.01M385.8 331.5h.01M388.2 321h.01M390.7 312.7h.01M391.9 300.3h.01M389.3 302.3h.01M391.6 313.9h.01M392.6 296.5h.01M392.4 304.8h.01M392.2 312.2h.01M392.6 314.6h.01M394.1 298.6h.01M395.4 306.4h.01M395.9 290.3h.01M397.4 294.2h.01M398.9 288.6h.01M399.7 285.9h.01M399.2 295h.01M400.3 299.2h.01M403 288.4h.01M402.5 289.7h.01M402.1 285.2h.01M403.5 290.5h.01M404.5 295.1h.01M405 293.1h.01M406.9 288.4h.01M404.3 293.5h.01M408.4 288.3h.01M409.2 292.6h.01M409.1 311.5h.01M409.9 288.3h.01M410.2 290.5h.01M411.1 298.3h.01M410.9 324.1h.01M411.9 283.7h.01M411.9 286.9h.01M412.5 309.7h.01M412.5 305.1h.01M412 298.3h.01M412.6 307.1h.01M413.5 303.6h.01M414.2 281.1h.01M413.8 286.5h.01M416.1 279.4h.01M417.2 288.5h.01M420 274.8h.01M420.9 288.3h.01M421 277.1h.01M421.8 280h.01M423.5 274.8h.01M423.6 284h.01M423.9 284.6h.01M424.4 280.3h.01M425.3 280.3h.01M426.8 279.1h.01M426.9 277.9h.01M427.3 276.7h.01M428.7 276h.01M427.1 279.3h.01M427.3 277.4h.01M430 279.3h.01M429.9 275.6h.01M433.1 278.5h.01M433 278.7h.01M432 273.7h.01M433.3 270.2h.01M434.5 270.7h.01M433.6 282.7h.01M434.5 282h.01M433.3 270.8h.01M434.5 284.4h.01M436.2 276.7h.01M436.9 272.6h.01M437.2 268.3h.01M439.1 270.5h.01M439.3 273.9h.01M438.6 267.7h.01M439.9 270.6h.01M442.1 270h.01M445.4 271.1h.01M446.1 280.8h.01M445.9 279.9h.01M445 282.8h.01M447 274.5h.01M446.5 278.7h.01M447.3 280h.01M448.9 268.1h.01M450.2 281.7h.01M449.1 272.9h.01M449.9 281.2h.01M451.5 279.5h.01M450.7 279.9h.01M450.4 280.8h.01M450.4 274.6h.01M453.1 277.6h.01M453.9 276.6h.01M453.9 273h.01M454 291.8h.01M455.1 281h.01M456.9 287.5h.01M457.6 275.2h.01M457 285.2h.01M458.5 284h.01M459.8 285.7h.01M459.3 300h.01M460.5 291.4h.01M460.6 302.1h.01M460.4 291.1h.01M460.2 289.6h.01M461.4 300h.01M461.3 293.8h.01M461 289.2h.01M461.5 280.2h.01M462.4 294.3h.01M461.4 286.5h.01M462.9 314.7h.01M462.6 301.4h.01M464 302.8h.01M463.3 290.6h.01M463.7 316.1h.01M463.8 301.5h.01M462.6 284.2h.01M463.8 293.9h.01M464.9 302.2h.01M465.9 293.5h.01M466.4 288.3h.01M468.2 309.6h.01M467.7 302.5h.01M467.2 303.3h.01M469.5 299.7h.01M468.2 310.6h.01M468.1 323.1h.01M468.8 316.3h.01M468.3 340.1h.01M469.6 301.2h.01M470.7 309h.01M471.5 310.3h.01M471.1 313.3h.01M471.8 320.7h.01M473.6 316.8h.01M471.9 314.6h.01M474.6 316.6h.01M476 316h.01M475.4 349.7h.01M476.2 342.6h.01M477 348.9h.01M476.5 343.6h.01M476.8 311.5h.01M479.3 316.5h.01M478.1 325.3h.01M481.2 313.2h.01M478.6 324.7h.01M479.5 308.7h.01M483.9 306h.01M484.7 314.9h.01M484.7 321.3h.01M485 340.8h.01M484.3 323.8h.01M485.7 316h.01M487.9 321.6h.01M487.4 327.9h.01M487.5 342.9h.01M487 331.4h.01M487.3 320.5h.01M491.9 327.7h.01M490.3 335.1h.01M491.9 346.4h.01M491.4 345.3h.01M492.3 354.8h.01M491.8 340.8h.01M492.5 327.2h.01M491.6 327.6h.01M493 331.2h.01M492.8 337.6h.01M493.1 343.9h.01M493.3 349.3h.01M492.8 332.9h.01M493.8 340.2h.01M493.9 340.1h.01M493.3 353.8h.01M493.5 333.9h.01M495.9 327.7h.01M498.1 328.9h.01M499.1 331.3h.01M498.3 330.2h.01M499.9 316h.01M499.1 333h.01M499.3 338.1h.01M501.1 326.1h.01M503.9 320.9h.01M502.4 325.4h.01M502.3 328.8h.01M504.1 314.8h.01M504 316.6h.01M504.4 327.5h.01M505.7 321.3h.01M505.3 327.9h.01M505.2 328.2h.01M504.7 321.2h.01M506.4 323.2h.01M508.6 313.9h.01M510.4 316h.01M510.2 320.6h.01M510.7 320.3h.01M510.5 319.7h.01M510.6 325.8h.01M513 313.6h.01M511.8 310.2h.01M512.6 305.7h.01M512.7 307h.01M514.9 310.9h.01M516 312.3h.01M516.1 303.7h.01M516.6 322.9h.01M516.2 319.3h.01M517.4 303.8h.01M518.1 318.5h.01M517.9 312.6h.01M518.4 317.7h.01M518.3 318.1h.01M518.1 317.4h.01M519 305.7h.01M520.7 326.1h.01M523 304.2h.01M521.1 312.7h.01M521.4 318.6h.01M521.7 330.4h.01M521.1 312.9h.01M521.5 311.9h.01M520.9 310.9h.01M522.3 305.8h.01M523.2 321.1h.01M522.3 324.7h.01M524.7 302.7h.01M524.8 305h.01M524.8 306.7h.01M523.1 307.8h.01M528.4 304.2h.01M530.3 308h.01M530.6 305.6h.01M533.3 306.4h.01M532.5 300.1h.01M533.2 292.9h.01M534.6 288.6h.01M534.6 294.9h.01M535.2 292.9h.01M537.4 299.3h.01M544.3 297.5h.01M543.5 302.7h.01M542 295.9h.01M541.3 304h.01M541.8 321.2h.01M544.4 304.1h.01M544.2 326h.01M543.9 334.9h.01M544.9 329.8h.01M544.3 327.4h.01M544.2 338.5h.01M544.7 311.7h.01M544.4 312.3h.01M544.5 315h.01M544.5 338.7h.01M543.9 310.8h.01M544.1 316.1h.01M546.4 299.4h.01M546.9 305.2h.01M546.1 312.8h.01M546.2 313.7h.01M546.2 326.5h.01M545.8 330.6h.01M545.9 330.2h.01M547.8 308.8h.01M548 305.8h.01M548.3 318.1h.01M546.8 338.8h.01M550.3 310.9h.01M550.3 324.2h.01M551.2 307.9h.01M552.2 304.8h.01M553.5 333.1h.01M556.1 305.9h.01M554.7 316.2h.01M557 308h.01M556.2 307.6h.01M556.8 311.8h.01M556.8 311h.01M557.9 306.1h.01M557.7 327.3h.01M558 313.6h.01M560.2 314.6h.01M559.5 314.8h.01M558.8 325.5h.01M560.1 313.6h.01M560.7 316.3h.01M561.3 326.7h.01M560.8 325.6h.01M561.9 313.3h.01M564.2 308.3h.01M561.1 315.7h.01M561.7 313.8h.01M562.9 322.1h.01M564.3 325.2h.01M563.6 329.6h.01M563.9 323.9h.01M564.6 324.6h.01M565.1 318.4h.01M565.9 331.6h.01M565.9 333.2h.01M567.7 310.7h.01M565.4 310h.01M568.7 320.1h.01M568.6 324h.01M568.6 315.6h.01M569 321.4h.01M570.2 313.8h.01M569.3 335.3h.01M571.9 325.9h.01M570.7 342.7h.01M572.6 324.8h.01M573.3 330.5h.01M574.7 327.5h.01M574.4 340.5h.01M574 333.8h.01M574.9 342.6h.01M574.8 338.3h.01M575 345.9h.01M573.6 340.1h.01M574.9 333h.01M578.8 338.3h.01M577.8 342.9h.01M577.4 338h.01M577.1 344.7h.01M576.5 328.7h.01M581 332h.01M579.8 349.4h.01M580.5 339.8h.01M581.3 333.9h.01M584.1 330.5h.01M585.7 331.7h.01M587 337.5h.01M586 363h.01M587.5 352.4h.01M590.5 339.1h.01M589.9 350.2h.01M590.3 344.8h.01M591.3 339.5h.01M591.8 348.7h.01M590.8 319.8h.01M594.1 318.5h.01M592.6 325.4h.01M593.7 331.6h.01M593.7 330.5h.01M594.8 321.6h.01M595.7 321.8h.01M595.9 321.4h.01M597.3 328.7h.01M597.9 327.3h.01M597.2 339.7h.01M596.2 337.6h.01M597.2 323.6h.01M597.8 358.1h.01M597.9 340.2h.01M598.6 326.2h.01M597.4 332.9h.01M598.1 353.1h.01M599.9 332.5h.01M599.8 340.6h.01M601.4 348.3h.01M604.5 340.5h.01M605 343.5h.01M604 349.4h.01M604.1 351.7h.01M604.5 345.1h.01M604.5 363.7h.01M604.4 340.6h.01M605.3 331.9h.01M604.8 342.2h.01M604.9 363.4h.01M607.3 334.9h.01M605.8 337.5h.01M607.3 356.7h.01M606.2 349.2h.01M607.3 352.8h.01M608.9 339.5h.01M608.7 331.9h.01M611.2 330.5h.01M609.4 349h.01M608.3 347.8h.01M608.2 346h.01M607.9 355.4h.01M608.6 346.8h.01M608.5 349.3h.01M609.5 340.3h.01M609.7 332.6h.01M609 337.9h.01M610.7 348.5h.01M611.7 336h.01M611.5 339.4h.01M611.2 338h.01M613.1 358.3h.01M611.8 356.2h.01M612 349h.01M612.7 352.1h.01M612.3 343.7h.01M613.6 330.9h.01M613.8 356.3h.01M613.1 356.8h.01M612.9 327.9h.01M615.7 354.1h.01M615.5 349.8h.01M615.2 343.3h.01M615.9 345.6h.01M615.2 347.7h.01M615.4 342h.01M616.5 326.5h.01M616.2 328.9h.01M618.7 333.4h.01M618.9 358.5h.01M618.2 349.2h.01M619 342.9h.01M621.4 328.1h.01M619 324.8h.01M620.4 339.1h.01M620 331.1h.01M621.1 344.1h.01M621.3 342.4h.01M623.8 330.7h.01M622.3 338.1h.01M623.3 344.4h.01M624.1 326.2h.01M624 329h.01M625.8 331.3h.01M626.5 329.5h.01M626.2 328h.01M627.6 332.2h.01M627.5 324h.01M628.7 330.7h.01M628.8 337h.01M629.1 338h.01M628.7 326.5h.01M627.9 326.8h.01M631.9 328.2h.01M631.3 333.5h.01M632.3 331.9h.01M631.4 327.3h.01M630.8 332.7h.01M633.3 320.9h.01M634.5 318.4h.01M634.8 330.3h.01M634.4 318.8h.01M635.8 325.9h.01M634.1 325.5h.01M638.5 319.2h.01M639.7 325.1h.01M638.8 345.6h.01M638.6 353.2h.01M638.4 331.9h.01M638.8 337.3h.01M638.2 332.9h.01M638.8 336.9h.01M638.8 355.6h.01M638.6 337h.01M638.5 336.1h.01M638.8 346.3h.01M638.6 336.2h.01M638.4 341.6h.01M638.6 337.8h.01M638.7 334h.01M639.1 342.3h.01M638.3 343.8h.01M639 344.7h.01M639.1 341.4h.01M638.9 336.8h.01M638.4 337.3h.01M638.5 331.6h.01M638.8 332h.01M639.1 330.1h.01M639.8 348.8h.01M640.7 325.3h.01M642.5 321.9h.01M642 322.6h.01M640.2 323.6h.01M641.6 326.9h.01M642.2 336.7h.01M642.2 349h.01M641.6 335.8h.01M641.2 363.4h.01M641.6 337.9h.01M642.6 325.5h.01M642.3 336.8h.01M642.7 333.3h.01M641.5 326.5h.01M641.9 325h.01M643.4 332.5h.01M642.4 324.4h.01M644.4 331.7h.01M644.7 348.7h.01M643.9 355.6h.01M644.3 343h.01M643.9 361.2h.01M644.1 340.8h.01M644.8 337.9h.01M644.6 335.4h.01M644.2 351.8h.01M644.7 339.3h.01M644.7 335.4h.01M644 338.6h.01M644.3 337.7h.01M644.8 367.3h.01M644.8 339.1h.01M645.1 343h.01M644.9 341h.01M644.3 346.6h.01M644.5 356.8h.01M645.1 333.2h.01M646.1 342.4h.01M646.9 333.9h.01M647.4 319.4h.01M647.1 322.8h.01M647.5 331.4h.01M647.4 336.4h.01M647.9 344.5h.01M648 343.8h.01M647.2 334.7h.01M648.8 317.7h.01M648.7 336h.01M649.8 319.1h.01M650.6 332.8h.01M651.1 328.9h.01M653.2 314.4h.01M655.2 318h.01M653.4 326.7h.01M653.2 331.9h.01M655.7 309.6h.01M654.4 312.5h.01M656 321.3h.01M657.3 313.4h.01M655.4 312.9h.01M658.6 309.7h.01M657.6 316.1h.01M658.2 306.1h.01M658.9 301.8h.01M661.8 303.8h.01M660.7 312.4h.01M661.3 305.3h.01M665.2 311.2h.01M665.8 318.6h.01M665.5 321h.01M665.8 317.6h.01M665.3 317.5h.01M666 315.7h.01M666.8 313.5h.01M666.7 316.9h.01M666.5 307.7h.01M670.5 321.4h.01M671.9 333.7h.01M671.9 329.4h.01M669.9 329.2h.01M673 346.9h.01M673.1 352h.01M673.4 361.7h.01M675.1 374.5h.01M673.7 364.4h.01M673.9 381.3h.01M676.3 390.3h.01M676.2 405.6h.01M678.7 387.4h.01M676.6 394h.01M679.2 390h.01M681.1 414.3h.01M681.6 423.7h.01M681.2 421.4h.01M682.2 396.4h.01M684.1 397.5h.01M682.2 422h.01M681.9 416.2h.01M681.9 421.3h.01M685.3 410.4h.01M684.2 435.9h.01M685.3 408.4h.01M685.4 416.2h.01M685.4 436.3h.01M686.6 445.1h.01M687.9 450.6h.01M687 420.1h.01M690.2 414.6h.01M689.7 429.3h.01M690.2 441.2h.01M690.2 437.4h.01M689.9 424.7h.01M689.8 439.7h.01M690.8 426.3h.01M689.8 422.6h.01M689.8 422.4h.01M692 414.7h.01M693.3 412.6h.01M694.4 410.1h.01M695.2 412.8h.01M698.3 413.3h.01M700.3 405.1h.01M699.4 410.5h.01M698.7 431h.01M699.3 416.1h.01M699.5 423.9h.01M702.1 399.4h.01M700.5 395h.01M700.8 402.6h.01M703 397.9h.01M703.1 404.4h.01M703 395.7h.01M704.6 394h.01M705.2 397.3h.01M706.8 409.6h.01M706.6 400h.01M706.5 399.6h.01M706.7 406.7h.01M706.2 411h.01M707.3 416.2h.01M706.9 404.7h.01M706.5 406.9h.01M706.7 386.9h.01M705.8 389.1h.01M709.3 395.6h.01M707.7 400.7h.01M707.7 399.1h.01M708 409.4h.01M708.4 393.3h.01M709.9 397.7h.01M710.8 394.5h.01M712.2 386.2h.01M711.3 394.1h.01M711.4 392.1h.01M712.8 394.9h.01M714.6 388.4h.01M714.7 404.1h.01M715.2 416.5h.01M717.6 395.7h.01M718.3 400.3h.01M718 393.7h.01M719 396.6h.01M719 411.4h.01M719.9 420.1h.01M719.9 393.3h.01M720.1 415.9h.01M720.8 404.6h.01M721 428.7h.01M720.9 408.5h.01M720.7 403.6h.01M721.1 415.6h.01M722 402.4h.01M721 403.5h.01M721.6 406.2h.01M722.1 419.5h.01M722.7 400h.01M723.1 408.7h.01M723.8 399.8h.01M721.7 398h.01M724.2 392.7h.01M725.3 398.4h.01M728.2 394.6h.01M728.1 404.6h.01M728.1 388.3h.01M728.7 397.9h.01M730.9 389.6h.01M730.7 402.3h.01M732.1 385.3h.01M730.7 394.5h.01M733.7 383.1h.01M734.2 387.9h.01M732 386.1h.01M734.4 382.6h.01M733.6 388.2h.01M738.4 374.6h.01M740.4 376h.01M740.6 376.4h.01M738.9 383.1h.01M740.2 385.5h.01M742.7 378.3h.01M740.9 377h.01M741.9 374.2h.01M743.7 380.5h.01M743.1 373.7h.01M744.6 382.4h.01M745.5 373.8h.01M744.9 377.6h.01M744.9 404.6h.01M745.7 401h.01M746.9 382.9h.01M745.3 394.8h.01M745.6 395.4h.01M746.1 377h.01M745.9 379.6h.01M746.6 383.2h.01M746.9 400.7h.01M747.3 388.6h.01M746.9 401.4h.01M747.2 373.4h.01M749.1 387.1h.01M747.9 415.8h.01M749.1 409.1h.01M750.6 397.9h.01M751.6 380.7h.01M752.5 374.6h.01M754.2 420.5h.01M752.9 404.9h.01M753.6 378.5h.01M755.4 369.2h.01M756 370.6h.01M754.9 364h.01M755.2 365.8h.01M754.9 393h.01M756.5 378.9h.01M756.2 407.9h.01M757.3 388.7h.01M756.7 401.8h.01M756.6 396.1h.01M756.5 378.6h.01M756.3 382.6h.01M756.5 414.3h.01M757.5 375.6h.01M758.7 379.9h.01M760.8 365h.01M759.8 387h.01M760.1 399.8h.01M759.3 385h.01M760.5 363.5h.01M760.8 356.1h.01M761 363.5h.01M759.8 394.4h.01M760.4 374.7h.01M762.8 381.1h.01M763.8 357.1h.01M763.3 355.8h.01M764.9 351.1h.01M763.9 354h.01M764.7 355.6h.01M764.4 357.3h.01M764.2 382h.01M765.4 346.8h.01M765.8 363.7h.01M765.6 356.2h.01M764.9 362.8h.01M765 363.9h.01M765.3 370h.01M765.2 373.6h.01M766.8 342.5h.01M766.7 346.6h.01M766.8 353.4h.01M767.9 345.4h.01M766.7 342.1h.01M767.7 356.1h.01M767.2 338.1h.01M771.2 331.5h.01M772 336.3h.01M771.2 337.6h.01M773.5 343.9h.01M772.9 351.5h.01M773.5 336h.01M775.5 342.7h.01M776.4 339.2h.01M778.1 333.1h.01M777.4 337.1h.01M779.3 352h.01M780 348.2h.01M779.2 362.8h.01M779.7 358.8h.01M781.2 362.7h.01M780 362.2h.01M780.4 342.4h.01M781.9 331.8h.01M781.6 324.7h.01M780.8 324.2h.01M782.5 339.7h.01M782.9 337.2h.01M784.4 323.8h.01M784.5 323.4h.01M786 304.9h.01M785.9 317h.01M786.5 305.4h.01M786.5 301.1h.01M787.5 300.4h.01M788.6 307.2h.01M790.2 301.8h.01M790 304h.01M790.6 307h.01M790.6 312.6h.01M790.8 295.1h.01M791.8 315.4h.01M792.1 307.2h.01M792 293.6h.01M791.6 295.4h.01M796.1 329.8h.01M797.3 335.1h.01M797.7 338.1h.01M799.4 326.1h.01M799.3 323.5h.01M800 329.3h.01M800.8 342.9h.01M800.6 332.4h.01M801.4 325.9h.01M802.3 319.2h.01M803.3 324.5h.01M802.4 325.9h.01M803.3 320.5h.01M803.9 329.8h.01M803.2 336.8h.01M803.9 328.9h.01M804.1 317.8h.01M805.5 324.9h.01M804.5 357.5h.01M807.1 325.7h.01M808.1 341.6h.01M808 331.9h.01M808.2 357h.01M807.6 328.7h.01M808.5 321.3h.01M810.1 321.1h.01M807.7 324.9h.01M809.5 321.6h.01M808.1 333.1h.01M809.1 339.8h.01M810 322.6h.01M809.4 323.3h.01M810.1 351.4h.01M810.9 336h.01M810 329.3h.01M810.2 335.8h.01M810.1 330h.01M811.1 351.7h.01M812 321.2h.01M811.5 326.3h.01M812.7 324.7h.01M813.4 318.5h.01M813.4 330.4h.01M814.6 333.1h.01M813.4 336.8h.01M815 322.8h.01M815.1 344.7h.01M815.4 330.3h.01M816.4 318.7h.01M816.6 322.2h.01M820.2 321.2h.01M820.7 314.2h.01M820.8 333.5h.01M822.9 331.8h.01M823.4 328.9h.01M822.2 330h.01M822.9 331.8h.01M823.7 324.9h.01M824.1 325.8h.01M824.5 329h.01M825.5 305.2h.01M825.3 323h.01M825.2 312.1h.01M825.7 311.9h.01M826.8 297.3h.01M829.9 290.9h.01M828.9 299.1h.01M829.2 300.9h.01M830.3 292.4h.01M830.7 281.6h.01M832.3 293.8h.01M831.9 292.5h.01M833.4 285.2h.01M832 295.8h.01M834.6 278h.01M836.4 273.3h.01M834.3 274.8h.01M837.7 275.3h.01M837.9 281.6h.01M837.9 285h.01M838.6 283.6h.01M838.2 286.4h.01M838.1 294.9h.01M838 292.3h.01M841.3 278.4h.01M840.6 280.1h.01M841.6 271.2h.01M842.1 278h.01M843.7 279.1h.01M844.5 280.1h.01M845.4 278.3h.01M844.4 288.3h.01M847 278.4h.01M846.7 292.5h.01M847.3 293h.01M850.9 283.9h.01M850.2 289.2h.01M849.5 284.5h.01M849.7 294.3h.01M850.7 292.6h.01M850.8 293.7h.01M851.1 295.1h.01M852.4 291.8h.01M853 295.4h.01M855.1 295.8h.01M852.9 303.3h.01M853.4 306.8h.01M854.1 301.3h.01M853.6 300.7h.01M853.7 305.3h.01M854.5 306.3h.01M855 309.2h.01M854.2 306.3h.01M856.9 308.4h.01M858.4 302.2h.01M857.2 308.9h.01M858.5 305h.01M858.4 317.9h.01M858.2 324.4h.01M858.8 319.6h.01M859.2 324.8h.01M858.5 328.3h.01M860.9 327.6h.01M861.5 311.3h.01M860.9 314.1h.01M864 321.2h.01M864.4 331.1h.01M864.1 323.1h.01M864.8 323h.01M865.1 326.2h.01M866.9 321.6h.01M866.3 335.9h.01M867.4 317.7h.01M867.7 328.5h.01M867 329.7h.01M868.4 332.6h.01M868.5 329.7h.01M870.3 327.5h.01M870.1 323.3h.01M869.3 328.3h.01M872.4 331.8h.01M871.8 333.9h.01M872.5 330.9h.01M871 329.9h.01M870.9 341.4h.01M871.2 334.4h.01M873.3 353h.01M873.3 342.8h.01M875.1 354.2h.01M874.9 361.5h.01M874.6 349.9h.01M875.6 367.7h.01M875.3 370.9h.01M877.3 360.2h.01M877.3 377.8h.01M877.4 391h.01M879.1 393.9h.01M878.3 400.2h.01M879.2 416.9h.01M878.7 407.3h.01M880.2 405.5h.01M880 390.7h.01M880.5 405.7h.01M880.1 411.5h.01M880.1 419.7h.01M880.7 416.6h.01M880.1 425.4h.01M881.3 424.3h.01M881.5 415.4h.01M880.7 411.7h.01M881.5 410.7h.01M885.7 299.8h.01M887.4 293.6h.01M888 294.5h.01M889.5 324.2h.01M891.5 399.8h.01M891 406h.01M892.6 407.4h.01M894.5 408.4h.01M893.3 406.3h.01M892.7 406.5h.01M894 415h.01M896.5 425.4h.01M896.3 429.3h.01M896.2 442.6h.01M900.4 427.6h.01M898.1 423.1h.01M899.6 419.8h.01M898.7 432.7h.01M898.1 432.3h.01M898 431.2h.01M897.8 453.2h.01M898.6 437.2h.01M898 429h.01M898.4 435.3h.01M898.4 436h.01M898.3 430.3h.01M898.8 434.9h.01M898.8 436h.01M898.3 429.6h.01M897.9 426.9h.01M900.4 426.9h.01M899.6 426.8h.01M902.5 426.7h.01M900.2 419.3h.01M901.9 424.8h.01M901.2 423.5h.01M900.5 421.1h.01M902 428.9h.01M903.4 423.7h.01M901.9 420.7h.01M901.9 425.9h.01M902.3 441.1h.01M902.5 478.5h.01M901.4 427.2h.01M902.3 457.8h.01M903.3 454.4h.01M905.9 430.7h.01M906.7 440.9h.01M906.1 449.3h.01M905.9 458.7h.01M906.7 438.9h.01M906.3 476.6h.01M907.2 445.1h.01M907.2 425.5h.01M907.1 445.6h.01M910 430.8h.01M909.3 436.7h.01M909.7 435.6h.01M909.5 429.4h.01M910.4 422.7h.01M911.1 419.2h.01M912.7 425.2h.01M913.1 425.8h.01M912.8 431.8h.01M912.4 433h.01M912.9 432.1h.01M912.2 435.2h.01M914.9 420.7h.01M913.5 439.5h.01M912.7 440.3h.01M914 440.7h.01M913 426.7h.01M913.4 418.5h.01M915.1 425h.01M916.7 415.8h.01M917.2 425.1h.01M918.5 430.7h.01M919.6 426h.01M922.4 423h.01M920.9 421.2h.01M921.6 420.1h.01M924.5 420.4h.01M925.6 427h.01M924.6 437.3h.01M924.5 450.6h.01M925.2 448.2h.01M924.4 441.5h.01M924.4 435.6h.01M923.7 432.9h.01M926.8 429.6h.01M927.4 425.2h.01M928.3 456.7h.01M927.6 441.8h.01M929 426h.01M930.6 431h.01M931.8 425.5h.01M932.1 433.8h.01M932.6 426.6h.01M933.4 466.2h.01M933 450h.01M933.9 437h.01M933.3 452.1h.01M933 438.5h.01M936.8 429.9h.01M936.5 432.6h.01M937.4 428.3h.01M936.5 428.2h.01M935.4 426.9h.01M936.8 451.4h.01M936.2 456.7h.01M936 440.6h.01M935.7 474.4h.01M937.3 457.6h.01M936.2 463.6h.01M936 440.6h.01M939.9 436.8h.01M939.5 444.1h.01M940.1 466.6h.01M939.3 443.8h.01M939.5 466.6h.01M942.2 422.7h.01M941.8 428.1h.01M942.5 430.8h.01M942 448.3h.01M943.1 430.8h.01M947.4 416.8h.01M945.4 413.9h.01M947.4 435.4h.01M948 430h.01M951 416h.01M949.3 428h.01M950.1 442.3h.01M949 444.7h.01M950.7 428.4h.01M951.7 420.2h.01M951.3 445h.01M952 420h.01M953.8 428.6h.01M953.8 425.4h.01M954.1 429.6h.01M953.7 434.7h.01M955.4 450.9h.01M955.6 440h.01M958.1 418.9h.01M958 425.7h.01M960.1 426.1h.01M959.6 426.4h.01M960.6 424.5h.01M960.7 419.4h.01M961.6 463.5h.01M963.2 418.5h.01M963.3 413.3h.01M963.1 447.2h.01M962.7 449.5h.01M962.4 455.5h.01M963.3 413.7h.01M962.6 444.3h.01M964.3 411.9h.01M965 415h.01M964.5 411.6h.01M965.8 415.7h.01M968.5 418h.01M970 414.5h.01M969.1 409.1h.01M969.4 428.5h.01M969.3 437.8h.01M968.9 426.7h.01M970.5 452h.01M969.3 438.9h.01M969.6 432.5h.01M969.9 423.2h.01M970.2 421.7h.01M968.9 426.6h.01M969.5 422.7h.01M969 431.2h.01M969.5 460.9h.01M968.8 419.8h.01M971.5 411.8h.01M970.1 435.1h.01M970.6 429.5h.01M970.5 433.9h.01M970.7 427.8h.01M970.1 422.2h.01M970.3 425.1h.01M969.9 432.8h.01M970.3 434.6h.01M971.6 420.3h.01M971 422.3h.01M973 410.2h.01M974.6 417.5h.01M973.8 423.5h.01M975.3 415.6h.01M973.5 413.9h.01M974.5 414.3h.01M974.6 422h.01M974.5 428.2h.01M974.5 450.3h.01M974.6 438.6h.01M974.7 419.6h.01M974.2 439.3h.01M974 439.9h.01M974.5 428.2h.01M974.2 430.6h.01M974.9 433.3h.01M975 412.3h.01M975.8 415.8h.01M977 430.8h.01M977.3 420.1h.01M979.1 431.8h.01M977.6 410.2h.01M978.1 432.7h.01M980.4 418.5h.01M978.9 429.4h.01M979.5 433.2h.01M979.5 417.6h.01M981.1 421.7h.01M985.1 415.4h.01M984.9 419.6h.01M983.8 428.8h.01M985.7 418.4h.01M985.9 419.8h.01M986.9 446.3h.01M986.1 440.8h.01M989.3 424.2h.01M989.3 427.7h.01M989.4 437.2h.01M989.7 432.8h.01M989.4 414.1h.01M990.6 425.5h.01M990 432.7h.01M990.5 442.8h.01M990.4 422.3h.01M990.5 451.1h.01M989.8 424.1h.01M990.2 426.7h.01M990.5 432.9h.01M991 438.4h.01M992.7 422.4h.01M993.4 415.3h.01M993.6 434.6h.01M993.1 440.2h.01M993.8 421.3h.01M992.8 432.3h.01M993 425.7h.01M994.1 423.4h.01M992.8 427.1h.01M994 435.8h.01M995.8 424.3h.01M994.6 436.8h.01M996.6 406.5h.01M996.2 410.6h.01M995.9 407.2h.01M997.1 405.1h.01M997.8 406.2h.01M998.2 414.3h.01M1001.3 395.3h.01M999.7 395h.01M1000.2 420.8h.01M1001.6 394.4h.01M1002 385.6h.01M1002.5 386.5h.01M1002 402.5h.01M1003 400.6h.01M1003.2 379h.01M1002.7 391.4h.01M1005.2 368.9h.01M1006.4 373.9h.01M1006.6 362.4h.01M1009.7 351.9h.01M1011.4 349.6h.01M1015.7 335.2h.01M1015.8 342.3h.01M1016 344.2h.01M1015.4 334.9h.01M1015.1 339.3h.01M1016.7 344.7h.01M1017.2 331.8h.01M1016.9 334h.01M1017.8 333.1h.01M1020.3 333.6h.01M1019.6 331.9h.01M1021.8 331.5h.01M1023 333.6h.01M1020.4 331.1h.01M1021.8 353.6h.01M1021.2 331.9h.01M1023.5 346.6h.01M1023.7 342.1h.01M1023.8 364.3h.01M1023 358.8h.01M1023.7 379.9h.01M1024.7 338h.01M1024.6 330.3h.01M1024.8 363.3h.01M1025.5 387.1h.01M1024.8 357.3h.01M1025.2 348.9h.01M1025.7 364.5h.01M1025.7 351.5h.01M1024.6 354.7h.01M1025.5 353.1h.01M1025.2 359.7h.01M1025.2 386.1h.01M1025.8 376.3h.01M1024.9 391.4h.01M1025 374.1h.01M1025.8 354.8h.01M1025.5 389.5h.01M1025.2 349.2h.01M1025.2 379.9h.01M1025.4 368.8h.01M1025.7 341.8h.01M1026.3 362.1h.01M1025 406.4h.01M1025 346.6h.01M1024.9 350.4h.01M1025.3 334.2h.01M1024.8 335.4h.01M1026.6 369h.01M1026.3 416.6h.01M1027.9 348h.01M1027.6 374.4h.01M1027.5 360.5h.01M1027.8 386h.01M1028 359.1h.01M1027.8 382.8h.01M1027.9 353.2h.01M1027.4 406.9h.01M1026.9 401.1h.01M1027.7 389.5h.01M1026.7 368.8h.01M1027.5 344.4h.01M1028.8 349.7h.01M1027.7 386.2h.01M1028.5 336h.01M1029.7 384.2h.01M1029 394.8h.01M1030.2 379.8h.01M1029.6 409.3h.01M1028.7 380.1h.01M1029.7 368h.01M1029.7 373.3h.01M1029.7 380h.01M1029.9 353.7h.01M1029.9 358.7h.01M1029.3 362.5h.01M1029 403.2h.01M1029.3 378.7h.01M1029.6 363.7h.01M1029 371.1h.01M1030.5 343.7h.01M1031 353.4h.01M1029.8 360.6h.01M1030.5 347.9h.01M1030.1 359.3h.01M1031.4 365.9h.01M1031.8 344.3h.01M1031.5 340.2h.01M1031.6 342.3h.01M1031.7 415.6h.01M1031.7 342.4h.01M1031.5 344.8h.01M1032.5 399.6h.01M1033.3 345.2h.01M1034.1 345.6h.01M1033.3 351.8h.01M1033.8 345h.01M1035.8 342.4h.01M1035.7 345.2h.01M1036.5 350.8h.01M1036.6 364.1h.01M1038.8 340h.01M1038 356.8h.01M1041.5 347.4h.01M1041.5 346h.01M1041.6 345.3h.01M1043.3 340.7h.01M1043.3 357.8h.01M1045.6 343.7h.01M1044.1 343.3h.01M1044.6 354.9h.01M1046 350.7h.01M1046.3 347.4h.01M1046.7 342.3h.01M1048.4 356.1h.01M1047.8 351.4h.01M1048.8 345h.01M1047.7 340.7h.01M1049.2 357.5h.01M1050.8 352h.01M1048.6 354.5h.01M1051.5 361.6h.01M1052.7 356.2h.01M1054.1 361.6h.01M1053.4 366.8h.01M1053.7 375.1h.01M1054.3 372.4h.01M1055 372.3h.01M1054.1 373.9h.01M1054.8 364.8h.01M1054.7 366.1h.01M1055.1 373.8h.01M1054.2 359.6h.01M1056.2 382.7h.01M1058.1 363.9h.01M1058.8 369.9h.01M1059.6 374.1h.01M1058.6 388.6h.01M1058.7 384.3h.01M1058.8 397.2h.01M1059.6 378.5h.01M1059.1 392.1h.01M1059.9 423.3h.01M1060.4 385.9h.01M1060.1 398.5h.01M1060.9 390.3h.01M1060.6 394.7h.01M1062.1 388.6h.01M1061.7 365.3h.01M1062.2 361.3h.01M1065.9 356.9h.01M1065.6 357.2h.01M1064.2 359.7h.01M1065.8 360.6h.01M1065.5 363.4h.01M1065.7 360.8h.01M1066.4 417.4h.01M1066.3 366h.01M1066.9 422.6h.01M1068.2 349.2h.01M1068 367.2h.01M1067.1 379.8h.01M1067.6 374.7h.01M1066.8 419h.01M1067.1 362.7h.01M1066.6 360.1h.01M1067.4 387.1h.01M1067.1 377.2h.01M1068.3 410.9h.01M1067.8 391.4h.01M1069.6 357.8h.01M1070.3 360.1h.01M1069.5 377.8h.01M1069.9 373.4h.01M1069.8 410.3h.01M1069.5 358.1h.01M1069.3 370.6h.01M1070.3 405.5h.01M1069.9 384.8h.01M1070.3 365.9h.01M1070.1 344.4h.01M1069 348.9h.01M1070.7 396.7h.01M1071.2 364.6h.01M1070 404h.01M1070.8 348.6h.01M1071.1 356.2h.01M1072.6 341.9h.01M1074.5 343.8h.01M1073.9 360.5h.01M1074.8 354.3h.01M1076 367.7h.01M1075.5 352.2h.01M1076.8 354.5h.01M1076.1 357h.01M1077.8 338.3h.01M1079.2 342.7h.01M1078.9 354.7h.01M1079.5 329.3h.01M1079.8 340.6h.01M1079.7 342.7h.01M1079.7 339h.01M1080 340h.01M1080.2 342.3h.01M1078.9 344.2h.01M1081.4 331.8h.01M1082 326.6h.01M1084.1 313.8h.01M1083.8 309.8h.01M1087.7 311.5h.01M1089.2 313.9h.01M1089.8 322.4h.01M1088.4 332.9h.01M1088 334.7h.01M1088.8 325.9h.01M1089.9 324.3h.01M1090.1 323.5h.01M1092.4 321.6h.01M1090.8 345.1h.01M1091.4 347.5h.01M1092.7 350.3h.01M1094.5 332.1h.01M1093.5 335.9h.01M1095.4 345.5h.01M1096.3 337.6h.01M1096.3 339h.01M1098.7 345.4h.01M1097.5 335.1h.01M1098.1 356.9h.01M1097.2 349.7h.01M1097.2 373.7h.01M1100.6 355.6h.01M1100 328h.01M1101.2 336.6h.01M1101.5 354.4h.01M1103.2 322.2h.01M1104.7 318.8h.01M1106 320h.01M1106.1 315.6h.01M1107.6 321.8h.01M1108.4 334.5h.01M1112.7 311.3h.01M1111.7 317.1h.01M1112.3 312h.01M1111.9 320.4h.01M1113.4 334h.01M1113.7 327.3h.01M1112.9 323.2h.01M1113.5 327.6h.01M1113.4 322.5h.01M1115.1 318.6h.01M1116.1 316.9h.01M1115.7 326.7h.01M1115.5 327.2h.01M1116.5 318.3h.01M1116.8 321.3h.01M1115.5 322.2h.01M1116 331.2h.01M1115.3 318.3h.01M1116.6 313.9h.01M1118.1 325.9h.01M1118.2 325.9h.01M1118.6 327.1h.01M1119.1 333.5h.01M1118.4 329.6h.01M1119 309.6h.01M1120 314.5h.01M1120.1 325.3h.01M1122.9 318.7h.01M1123.3 314.7h.01M1122.8 314.1h.01M1121.6 310.6h.01M1122.3 326.6h.01M1121.7 307.9h.01M1124 314.1h.01M1123.8 321.4h.01M1124 326.5h.01M1124.3 319.8h.01M1124.2 333.5h.01M1124.8 311.8h.01M1127.5 308.4h.01M1125.6 325.6h.01M1125.7 326.8h.01M1125.9 311.1h.01M1126.8 306.7h.01M1127.8 319.4h.01M1128.5 330.9h.01M1128.7 320.9h.01M1129.4 319.6h.01M1129.6 324.5h.01M1129.3 321.3h.01M1131.9 315.3h.01M1133.3 308.3h.01M1134.5 307.5h.01M1135.1 315.9h.01M1136.6 308.4h.01M1135.3 320h.01M1136.3 320.2h.01M1135.2 315.7h.01M1137.4 315.5h.01M1139.9 308.7h.01M1138.1 316h.01M1139.5 312.8h.01M1141 306.9h.01M1142.2 308.3h.01M1143.3 306h.01M1143.2 307.9h.01M1142.2 315.7h.01M1142.5 315.7h.01M1143.7 306.6h.01M1144.1 307.1h.01M1145.1 311h.01M1146.6 307.1h.01M1145.1 303.3h.01M1150.3 299.6h.01M1151.7 303.2h.01M1151.1 299.4h.01M1149.8 297.2h.01M1151 306.8h.01M1153.4 300.4h.01M1150.9 306.7h.01M1153.5 300.2h.01M1152.4 307h.01M1153 308.1h.01M1155.6 297.1h.01M1155.1 296.7h.01M1155.4 309.2h.01M1155.4 308.8h.01M1155.1 313h.01M1154.8 309.9h.01M1156 306.6h.01M1155.6 311.8h.01M1155.4 300.7h.01M1158.6 308.8h.01M1159.5 303.3h.01M1158.9 299h.01M1160.9 302.2h.01M1162 301h.01M1161.5 305.6h.01M1163.1 304.7h.01M1165.5 299.2h.01M1164.4 307.5h.01M1164.6 311.8h.01M1164 312.6h.01M1164.5 310.6h.01M1163.8 310.5h.01M1164 308.5h.01M1164.7 311h.01M1165.7 310.1h.01M1163.6 313.1h.01M1164.6 310.5h.01M1166.9 313.2h.01M1166.8 310h.01M1166.1 313.1h.01M1166.5 311.7h.01M1169.5 302h.01M1168.7 311.4h.01M1167.5 311h.01M1168.7 310.6h.01M1170.7 309.4h.01M1169.1 300.4h.01M1170.9 308.8h.01M1170.3 313.2h.01M1171.4 312.9h.01M1171.5 318.7h.01M1173.2 315.8h.01M1173.3 315.6h.01M1174 304.7h.01M1175.5 314.2h.01M1176 305.2h.01M1176.2 313.1h.01M1177.4 308.5h.01M1177.9 306.5h.01M1178.2 305.4h.01M1180.6 327.8h.01M1180.5 319.9h.01M1181.3 319.5h.01M1181.7 325.8h.01M1182.6 317.1h.01M1183.7 314.6h.01M1186 313.9h.01M1187.5 315.1h.01M1187.8 315.3h.01M1191.8 312.3h.01M1190.8 314.2h.01M1190.3 313.8h.01M1193.8 313.9h.01M1194.5 311h.01M1193.2 317.7h.01M1193.4 325.2h.01M1195.1 307.3h.01M1198 310.1h.01M1198.1 309.1h.01M1198.4 314.9h.01M1198.3 312.1h.01M1199.7 305.5h.01M1198.7 304.4h.01M1199.5 311.7h.01M1200.3 314h.01M1199.3 307.8h.01M1200.6 311.3h.01M1202.1 308h.01M1202.4 310.1h.01M1202.1 313h.01M1203.5 316.2h.01M1205.7 308.6h.01M1205.2 303.6h.01M1209.4 301.1h.01M1207.9 308.1h.01M1208.4 317.2h.01M1208.3 312.5h.01M1208.7 315.6h.01M1208.1 316.9h.01M1209.7 300.6h.01M1208.8 302.1h.01M1210.3 312.2h.01M1210.5 317.8h.01M1212.5 298.6h.01M1212.9 296.2h.01M1215.9 297.6h.01M1217.3 301.2h.01M1216.8 302.6h.01M1217.4 300.1h.01M1217.4 307h.01M1217.5 305.3h.01M1217.6 304.2h.01M1216.5 314.5h.01M1216.9 314.1h.01M1218.8 295.6h.01M1218.5 318.7h.01M1221 299.6h.01M1220.4 296.3h.01M1221.4 307.7h.01M1222.4 298.3h.01M1223.1 316.2h.01M1223.5 310.5h.01M1222.9 311h.01M1223.9 307.5h.01M1223.5 299.4h.01M1225.2 300h.01M1226.9 302.7h.01M1226.6 297h.01M1226.3 314.1h.01M1226.5 306.9h.01M1228.4 298.8h.01M1226.5 310.5h.01M1228.7 314.1h.01M1228.7 317h.01M1228.9 300h.01M1230.1 295.2h.01M1229.6 301.6h.01M1229.8 299.9h.01M1231.1 297.7h.01M1230.3 326.5h.01M1231 323.8h.01M1232 309.9h.01M1231.9 313.7h.01M1231.5 313.1h.01M1231.5 308h.01M1230.2 302.2h.01M1231.9 299.4h.01M1231.7 299.4h.01M1233 331h.01M1232 299.8h.01M1235.3 302.8h.01M1236.3 321.5h.01M1235.6 328.6h.01M1235 317.3h.01M1235.9 321.2h.01M1236 328.7h.01M1235.6 309.1h.01M1236.8 303.6h.01M1236.5 302.2h.01M1235.6 304h.01M1236.3 301.5h.01M1239.5 302.5h.01M1237.1 307h.01M1237.2 321.4h.01M1239.8 302.8h.01M1238.3 315.8h.01M1238.5 304h.01M1238.7 297.4h.01M1239.1 322.8h.01M1239.6 319.7h.01M1240.5 309.3h.01M1241.2 313.7h.01M1242.9 300.3h.01M1243.3 299h.01M1241.7 313.5h.01M1242.4 309.9h.01M1246.5 303h.01M1246.2 298.3h.01M1245.1 306.7h.01M1246.6 313.1h.01M1246.2 312.1h.01M1246.4 311.2h.01M1246.2 308.6h.01M1246.9 312.3h.01M1250 301.5h.01M1251 306.7h.01M1248.3 300.9h.01M1248.7 303.3h.01M1250.1 312.6h.01M1248.4 301.7h.01M1252.8 301.7h.01M1253.8 304.3h.01M1251.8 305h.01M1253.3 303.3h.01M1252.9 309.5h.01M1255.1 307.1h.01M1256.4 302.2h.01M1258 301.1h.01M1258 307.9h.01M1257.9 315h.01M1258.5 303.7h.01M1260.6 303.7h.01M1262.8 305.9h.01M1262.5 305.7h.01M1261.4 308.4h.01M1264.1 307.6h.01M1262.6 304.3h.01M1264.2 307.7h.01M1264.6 308.2h.01M1265.9 301.7h.01M1265.9 303.3h.01M1266.2 294.3h.01M1266.4 302.1h.01M1267.9 296.7h.01M1269.6 299.7h.01M1268.9 294.2h.01M1270.7 293.7h.01M1270.5 295.1h.01M1269.8 301.9h.01M1271.2 326.8h.01M1272 301.4h.01M1272.7 296.8h.01M1272.3 315.7h.01M1272.4 310h.01M1272.3 318.8h.01M1274.3 293.5h.01M1273.4 307.6h.01M1273.1 315.9h.01M1275.1 312.2h.01M1276.5 293.9h.01M1276.8 306h.01M1275.8 316.9h.01M1277.9 296.4h.01M1277.3 294.4h.01M1277.9 294.6h.01M1278.7 299.7h.01M1278.7 302.2h.01M1278.1 307h.01M1279.4 297.9h.01M1281.2 306.1h.01M1279.1 302.1h.01M1282.5 319.7h.01M1282.9 318.5h.01M1283.7 314.7h.01M1283.7 316.4h.01M1284.1 319.2h.01M1286.7 301.4h.01M1288.1 317.6h.01M1290 313.6h.01M1289.8 321.6h.01M1290 317.7h.01M1289.7 320.5h.01M1289.4 321.9h.01M1289.4 319.5h.01M1289.3 321.3h.01M1289.4 329.4h.01M1289.5 300.5h.01M1292.3 303.8h.01M1291.3 310.2h.01M1293.2 301.6h.01M1291.9 308.4h.01M1294.6 308h.01M1296 300.7h.01M1296.4 333.4h.01M1297.7 318h.01M1296.6 313.3h.01M1296.6 321.3h.01M1296.1 311.6h.01M1297.5 303.5h.01M1295.9 301.4h.01M1297.4 327.5h.01M1299.4 307h.01M1298.9 309.7h.01M1298.8 305.4h.01M1299.6 307.1h.01M1300.3 333.7h.01M1300.7 316h.01M1300.7 316.5h.01M1302.6 320.6h.01M1303.1 318.5h.01M1302.9 319.1h.01M1303.4 307.2h.01M1302.7 322.2h.01M1302.9 313.5h.01M1303.9 302.7h.01M1306.5 309.1h.01M1304.3 319.2h.01M1304.1 315.9h.01M1306.2 316.7h.01M1305.9 319.7h.01M1306.1 311h.01M1309.8 318.6h.01M1311 336h.01M1309.9 324.2h.01M1310.5 319h.01M1310.3 307.4h.01M1311.9 311.7h.01M1314.5 312.4h.01M1313.3 309.5h.01M1316.2 309.6h.01M1315.1 311.3h.01M1316.2 331.4h.01M1317.5 313.9h.01M1318.5 301.8h.01M1318.8 314.7h.01M1319.4 340.8h.01M1319.7 342.2h.01M1320.2 337.6h.01M1319.4 323.2h.01M1320 317.7h.01M1321.1 326.7h.01M1321.4 333.4h.01M1321.9 336.9h.01M1321.4 323.5h.01M1326.2 301.2h.01M1325.3 305h.01M1325.4 311h.01M1327.3 319.3h.01M1326.4 310.5h.01M1329.1 321.5h.01M1328.6 315.5h.01M1328.8 316.4h.01M1329.1 312h.01M1327.3 309.6h.01M1328.4 309.5h.01M1328.6 303.7h.01M1328.7 297.8h.01M1331.8 301.3h.01M1330.9 307.4h.01M1331.7 307h.01M1333.9 307.9h.01M1332.8 313.1h.01M1334.2 304.5h.01M1334.4 306.6h.01M1335 300.8h.01M1335.8 304.9h.01M1334.3 317.5h.01M1335.2 310.9h.01M1333.8 312.7h.01M1334.2 307.8h.01M1334.4 311.1h.01M1334.2 319.6h.01M1334.4 321.7h.01M1335 310.8h.01M1334.4 317.5h.01M1335.3 306.5h.01M1336.2 300.5h.01M1335.9 321.8h.01M1339.1 298.7h.01M1338.7 322.2h.01M1338.7 310.8h.01M1338.9 315.7h.01M1338.8 307.9h.01M1338.8 310.1h.01M1339.3 315.3h.01M1342.1 306.9h.01M1343.7 301.1h.01M1344.6 302.8h.01M1345.4 296.6h.01M1347.3 305.5h.01M1346.6 297.3h.01M1345.5 302.1h.01M1347 308.8h.01M1346.6 314.7h.01M1346.1 309.9h.01M1346.2 309.4h.01M1346.6 308.1h.01M1351.3 298.1h.01M1350.3 304.4h.01M1352.2 307.5h.01M1353.4 307.3h.01M1352.7 307.8h.01M1353.5 311.7h.01M1357.1 300.2h.01M1357.3 300.9h.01M1358.2 309.2h.01M1360.7 302.3h.01M1359.5 313.4h.01M1360 311.4h.01M1359.7 309.8h.01M1359 306.3h.01M1361.1 308.8h.01M1362.1 305.9h.01M1361.6 304.9h.01M1362.4 306.4h.01M1364.2 300.7h.01M1363.6 307.3h.01M1363.3 301.3h.01M1364.9 301.2h.01M1363.8 304.8h.01M1367.3 306.1h.01M1367.1 304.2h.01M1367.5 318h.01M1367.4 297.9h.01M1367.2 322h.01M1371.4 297.5h.01M1369 295.2h.01M1370 328.9h.01M1370.5 326.2h.01M1370.2 306.4h.01M1371.2 316.2h.01M1369.8 318.5h.01M1371.1 310.2h.01M1370.5 315.8h.01M1370.5 324.4h.01M1371 314.4h.01M1373.1 293.2h.01M1371.5 298.6h.01M1371.1 300.9h.01M1372.8 308.1h.01M1374.2 296.9h.01M1373.8 292.3h.01M1374.5 299.9h.01M1375.8 305.1h.01M1375.7 324.3h.01M1377.2 300h.01M1378.1 297.9h.01M1377 297.9h.01M1377.4 298.7h.01M1377.9 297.9h.01M1380.6 295h.01M1378.6 302.6h.01M1380 324.8h.01M1379.1 337.9h.01M1379.1 297.6h.01M1379.3 300.8h.01M1382.2 297.8h.01M1382.4 306.1h.01M1381.7 305.5h.01M1382.8 297.9h.01M1381.4 305h.01M1383.1 310.3h.01M1383.4 318h.01M1384.8 300.6h.01M1385.2 296.9h.01M1386.4 311.9h.01M1387.4 313.2h.01M1386.7 326.8h.01M1386.6 330.1h.01M1387.7 308.7h.01M1388 316.1h.01M1387.3 322.7h.01M1387.2 310.6h.01M1387.7 308.6h.01M1389.6 298.4h.01M1388 299.3h.01M1389 310h.01M1388.8 321.9h.01M1388.4 310h.01M1388.4 308.1h.01M1387.9 317.1h.01M1388.1 307.7h.01M1387.9 311.1h.01M1391 296.4h.01M1390.8 316.4h.01M1390.5 319.9h.01M1390.9 323.8h.01M1390 327.1h.01M1391.3 325.4h.01M1391.5 322.2h.01M1391 319.1h.01M1393.7 322.9h.01M1393.8 310.8h.01M1394.2 300.6h.01M1399.5 302.3h.01M1398.3 310.6h.01M1401.6 308.8h.01M1401.4 309.4h.01M1401.8 305.4h.01M1401.8 317.1h.01M1404.1 308.4h.01M1407.9 309.3h.01M1405.5 314.5h.01M1407.8 314.7h.01M1406.6 315.6h.01M1407.6 309.1h.01M1409 320.9h.01M1411.2 321.6h.01M1412.9 312.6h.01M1412.7 308.6h.01M1412 313.2h.01M1414.4 309.3h.01M1413.9 326.6h.01M1416.7 310.5h.01M1416.5 314.6h.01M1415 307.9h.01M1418.3 311.9h.01M1417 314.2h.01M1418.9 313.9h.01M1415.1 310h.01M1416.6 319.6h.01M1418.5 308.7h.01M1419.5 315.2h.01M1419.6 308h.01M1420 321.4h.01M1420.8 319.5h.01M1420.2 323h.01M1420.4 320.8h.01M1421.5 314.5h.01M1421.5 323.4h.01M1421.3 319h.01M1422.3 313.2h.01M1423.5 307.9h.01M1422.7 319.6h.01M1425.1 311.4h.01M1425.1 320.2h.01M1433.3 308.7h.01M1433.9 308.7h.01M1432.3 316.6h.01M1434.2 329.1h.01M1435.9 337.5h.01M1435.8 330.2h.01M1436.3 353.5h.01M1439.2 314.4h.01M1440.2 316.8h.01M1439.1 343h.01M1439.5 327h.01M1438.4 318.2h.01M1441.7 314.1h.01M1442.9 322h.01M1442 334.2h.01M1441.5 320.7h.01M1442.5 340.3h.01M1442.8 328.9h.01M1443.1 336.6h.01M1442.4 325.3h.01M1442.8 325.1h.01M1441.7 331.1h.01M1442.7 328.8h.01M1442.6 329h.01M1442.7 331.7h.01M1444 335.9h.01M1442.7 323.8h.01M1444.4 314.1h.01M1444.4 318.6h.01M1445.3 321.9h.01M1446.6 324.4h.01M1447 328h.01M1447.9 326.1h.01M1448.5 326.4h.01M1447.5 321h.01M1450.4 322.4h.01M1449.3 327.7h.01M1449.6 329.8h.01M1449.7 324.4h.01M1451.7 320.7h.01M1451.6 330.6h.01M1454 320.9h.01M1451.8 324.7h.01M1455.5 321.6h.01M1453.5 329.2h.01M1453 332.9h.01M1454.8 329.8h.01M1454.4 334.1h.01M1454.3 326.4h.01M1454.2 332.4h.01M1455.9 316.7h.01M1455.8 328.4h.01M1455.9 344.6h.01M1456.7 338h.01M1456.8 328.9h.01M1455.9 317.5h.01M1458.7 332h.01M1458.5 340.5h.01M1458.3 325.6h.01M1458.4 330.5h.01M1462.4 318h.01M1462.2 312.7h.01M1460.1 333.9h.01M1459.4 333.4h.01M130.5 162.5h.01M150.5 164.5h.01M137.5 366.2h.01M137.5 373.8h.01M247.2 159.2h.01M247.2 178.2h.01M247.2 192.5h.01M233.2 180.2h.01M269.5 174.2h.01M288.2 175.2h.01M296.2 197.5h.01M305.5 214.5h.01M320.2 152.5h.01M319.5 166.5h.01M318.2 394.5h.01M290 366.2h.01M376.2 173.2h.01M382 177.5h.01M399.2 207.5h.01M411.2 206.8h.01M460 179.2h.01M457.5 186.2h.01M474.5 126.2h.01M473.8 165h.01M475 375h.01M467.5 330h.01M225 367.5h.01M223.8 361.2h.01M232.5 361.2h.01M213.2 346.2h.01M176.2 341.2h.01M163.8 339.5h.01M194.5 233.8h.01M277 338.2h.01M349.5 310.5h.01M345.5 333.8h.01M364.5 364.5h.01M382.5 365.5h.01M389.5 321.2h.01M409.2 329.5h.01M445.5 287.5h.01M453.8 300h.01M474.5 82h.01M474.5 115.5h.01M474.5 126.5h.01M512.5 70.5h.01M536.5 84.5h.01M516.5 97.5h.01M516.5 109.2h.01M499.5 127.5h.01M551.2 144.2h.01M606.2 151.2h.01M567.5 166.2h.01M581.8 166.2h.01M578.8 178.2h.01M683.2 195.5h.01M708.2 173h.01M708.2 181.2h.01M708.8 193.2h.01M734.5 141.2h.01M734.5 153.2h.01M734.5 167.5h.01M773.2 159.2h.01M765.2 175.2h.01M753.2 181.2h.01M813.8 178.2h.01M813.8 185h.01M727.5 197.5h.01M700 197.5h.01M475 375h.01M473.8 361.2h.01M491.2 368h.01M490.5 360h.01M525.5 359.2h.01M531.2 337.5h.01M545.5 341.8h.01M545.5 352.5h.01M560.5 345h.01M575.5 358.8h.01M586.2 372.5h.01M601.2 374.2h.01M598.8 364.2h.01M609.5 363.8h.01M622.5 369.2h.01M623 363h.01M643.2 380h.01M643.8 367.5h.01M651.2 374.2h.01M680.5 438.2h.01M687.5 459.5h.01M691.5 487.5h.01M691.5 474.5h.01M693.8 466.2h.01M697.5 450h.01M703.2 421.2h.01M711.2 409.2h.01M721.2 451.2h.01M717.5 446.2h.01M717.5 440h.01M734.2 428.5h.01M743.2 411.2h.01M755.5 436.2h.01M755.5 409.2h.01M763.5 400.5h.01M780.2 371.8h.01M805.5 359.2h.01M816.2 353h.01M822.5 352.5h.01M833 304.2h.01M861.2 175h.01M863.8 185h.01M852.5 194.5h.01M888.2 208.2h.01M898.8 193.8h.01M902.5 193.8h.01M929.5 209.2h.01M949.5 210h.01M972.5 210.5h.01M993.2 197h.01M1015.2 195.5h.01M1015.2 204.2h.01M1036.2 140h.01M1036.2 158h.01M1036.2 163h.01M1036.2 186.2h.01M1064.2 188h.01M1064.2 192h.01M1065 202.5h.01M1090.2 200h.01M1133.2 203h.01M1149.5 199.2h.01M833.2 303.8h.01M863.2 350h.01M857.5 346.2h.01M881.2 441.2h.01M880 447.5h.01M880 422.5h.01M897.5 452.5h.01M898.8 489.5h.01M905.5 496.2h.01M905.5 477.5h.01M905.5 481.2h.01M909.5 457.5h.01M926.2 470h.01M920.5 474.5h.01M921.2 461.2h.01M938 492.5h.01M938 487.5h.01M938 482.5h.01M938 474.2h.01M946.2 442.5h.01M952.5 460h.01M959.2 463.2h.01M964.2 479.2h.01M964.2 448.8h.01M977.5 445h.01M985.5 458.2h.01M997 444.5h.01M996.2 435.5h.01M1028.8 457.5h.01M1028.8 420h.01M1028.8 412.5h.01M1028.8 386.2h.01M1028.8 377.5h.01M1061.2 423h.01M1060 407.5h.01M1070 423h.01M1070 417.5h.01M1070 412.5h.01M1097.5 385.5h.01M1097.5 373.8h.01M1117.5 339.2h.01M1180.2 332h.01M1160.2 75h.01M1319.5 60h.01M1319.5 81.2h.01M1379 89.2h.01M1175.2 138.2h.01M1217.2 126.2h.01M1427.2 132.5h.01M1422.8 141.2h.01M1457.2 163.2h.01M1450.2 174.5h.01M1105.2 336.8h.01M1117.8 339.5h.01M1130.8 329.5h.01M1180.2 332.5h.01M1206.5 331.8h.01M1233.2 336.8h.01M1249.5 322.5h.01M1268.2 325.5h.01M1281.5 327.5h.01M1290.2 335h.01M1294.5 366.2h.01M1294.5 347.5h.01M1310.2 336.2h.01M1323.2 345.5h.01M1344.5 324.5h.01M1375.2 347.5h.01M1375.2 334.2h.01M1384.2 330.8h.01M1391.5 336.2h.01M1436.5 354.5h.01M1440.2 336.2h.01M1453.5 344.5h.01M1458.5 363.8h.01M1458.5 361.2h.01M1458.5 340.5h.01" fill="none" stroke="#1f77b4" stroke-width="5.5" stroke-linecap="round"/>
<path d="M116.5 257.3L117.5 253.5L118.5 251.2L119.5 252.3L120.5 247.8L121.5 244.5L122.5 240.7L123.5 240.8L124.5 244.8L125.5 247.7L126.5 255.9L127.5 257.1L128.5 249.6L129.5 243.2L130.5 244.4L131.5 249.6L132.5 252.0L133.5 245.9L134.5 251.2L135.5 259.6L136.5 265.5L137.5 267.8L138.5 264.4L139.5 263.3L140.5 261.4L141.5 266.5L142.5 266.4L143.5 265.0L144.5 265.4L145.5 260.1L146.5 257.9L147.5 263.1L148.5 264.6L149.5 263.4L150.5 264.7L151.5 269.1L152.5 271.2L153.5 269.8L154.5 271.1L155.5 275.2L156.5 277.6L157.5 282.6L158.5 287.1L159.5 289.9L160.5 295.1L161.5 297.1L162.5 299.8L163.5 304.1L164.5 303.0L165.5 299.5L166.5 294.5L167.5 289.1L168.5 284.3L169.5 284.8L170.5 288.6L171.5 293.3L172.5 296.6L173.5 299.4L174.5 302.7L175.5 305.5L176.5 307.3L177.5 304.4L178.5 301.8L179.5 296.9L180.5 289.6L181.5 283.8L182.5 280.1L183.5 279.3L184.5 272.0L185.5 268.0L186.5 264.7L187.5 263.3L188.5 261.8L189.5 261.5L190.5 261.0L191.5 261.9L192.5 260.6L193.5 259.7L194.5 260.8L195.5 269.7L196.5 280.9L197.5 288.2L198.5 291.2L199.5 290.0L200.5 294.3L201.5 297.4L202.5 298.0L203.5 301.5L204.5 302.9L205.5 305.2L206.5 307.6L207.5 309.0L208.5 310.8L209.5 313.5L210.5 316.4L211.5 317.1L212.5 312.0L213.5 303.0L214.5 292.3L215.5 286.7L216.5 285.7L217.5 284.9L218.5 285.1L219.5 279.4L220.5 275.7L221.5 276.7L222.5 278.1L223.5 279.2L224.5 277.0L225.5 268.5L226.5 261.0L227.5 260.9L228.5 257.3L229.5 268.2L230.5 282.9L231.5 279.5L232.5 275.7L233.5 278.5L234.5 272.4L235.5 274.5L236.5 276.9L237.5 274.7L238.5 272.0L239.5 273.5L240.5 269.5L241.5 263.9L242.5 262.2L243.5 261.0L244.5 255.7L245.5 251.6L246.5 251.2L247.5 251.2L248.5 249.5L249.5 247.4L250.5 248.4L251.5 247.7L252.5 247.9L253.5 252.6L254.5 251.9L255.5 252.6L256.5 256.2L257.5 258.7L258.5 259.5L259.5 258.9L260.5 260.1L261.5 260.7L262.5 262.4L263.5 265.6L264.5 267.1L265.5 266.1L266.5 268.5L267.5 269.5L268.5 271.1L269.5 276.3L270.5 274.7L271.5 274.3L272.5 273.8L273.5 274.6L274.5 275.6L275.5 275.3L276.5 276.2L277.5 278.6L278.5 281.1L279.5 281.9L280.5 279.6L281.5 276.4L282.5 277.2L283.5 280.2L284.5 280.1L285.5 277.5L286.5 272.9L287.5 263.9L288.5 257.3L289.5 261.2L290.5 265.9L291.5 266.3L292.5 265.5L293.5 267.6L294.5 268.2L295.5 267.8L296.5 265.2L297.5 267.6L298.5 271.8L299.5 272.5L300.5 270.0L301.5 267.5L302.5 272.7L303.5 277.1L304.5 277.1L305.5 274.3L306.5 274.7L307.5 274.0L308.5 272.4L309.5 272.7L310.5 272.6L311.5 272.4L312.5 271.0L313.5 269.8L314.5 268.3L315.5 268.9L316.5 271.2L317.5 272.9L318.5 274.5L319.5 274.8L320.5 269.9L321.5 265.7L322.5 266.9L323.5 276.7L324.5 279.9L325.5 276.3L326.5 272.8L327.5 269.7L328.5 272.2L329.5 277.3L330.5 270.4L331.5 262.6L332.5 263.4L333.5 264.7L334.5 267.6L335.5 267.4L336.5 259.9L337.5 256.4L338.5 253.4L339.5 250.1L340.5 249.7L341.5 251.1L342.5 257.3L343.5 262.6L344.5 264.5L345.5 263.7L346.5 260.6L347.5 261.9L348.5 267.0L349.5 267.3L350.5 265.0L351.5 264.9L352.5 262.1L353.5 261.7L354.5 266.9L355.5 271.3L356.5 278.0L357.5 286.5L358.5 286.2L359.5 287.8L360.5 292.7L361.5 288.0L362.5 287.1L363.5 284.8L364.5 287.9L365.5 288.4L366.5 276.6L367.5 274.6L368.5 264.8L369.5 259.7L370.5 263.3L371.5 264.9L372.5 262.3L373.5 260.7L374.5 262.6L375.5 260.9L376.5 269.0L377.5 276.6L378.5 266.4L379.5 265.9L380.5 265.2L381.5 260.1L382.5 269.5L383.5 279.3L384.5 279.8L385.5 274.4L386.5 267.8L387.5 265.9L388.5 266.7L389.5 269.6L390.5 265.3L391.5 262.7L392.5 265.9L393.5 269.2L394.5 265.3L395.5 268.2L396.5 268.7L397.5 265.4L398.5 263.6L399.5 262.3L400.5 266.0L401.5 267.4L402.5 266.1L403.5 267.5L404.5 269.3L405.5 271.5L406.5 273.3L407.5 273.8L408.5 272.4L409.5 272.5L410.5 273.3L411.5 272.8L412.5 268.7L413.5 264.8L414.5 263.2L415.5 261.8L416.5 259.2L417.5 259.7L418.5 263.7L419.5 266.4L420.5 264.4L421.5 260.1L422.5 259.7L423.5 257.5L424.5 255.5L425.5 256.5L426.5 255.3L427.5 253.4L428.5 252.0L429.5 250.2L430.5 247.7L431.5 246.0L432.5 246.1L433.5 247.9L434.5 248.0L435.5 247.1L436.5 244.6L437.5 243.5L438.5 243.4L439.5 243.1L440.5 243.3L441.5 244.4L442.5 240.5L443.5 234.9L444.5 236.6L445.5 239.1L446.5 239.2L447.5 238.3L448.5 237.9L449.5 237.7L450.5 234.6L451.5 234.6L452.5 234.6L453.5 234.9L454.5 233.3L455.5 227.6L456.5 225.5L457.5 230.8L458.5 235.0L459.5 235.8L460.5 234.6L461.5 238.8L462.5 246.0L463.5 247.7L464.5 249.1L465.5 254.1L466.5 258.4L467.5 255.3L468.5 252.5L469.5 248.7L470.5 254.6L471.5 263.5L472.5 265.9L473.5 260.2L474.5 254.3L475.5 251.6L476.5 248.8L477.5 251.1L478.5 256.5L479.5 259.8L480.5 260.2L481.5 254.9L482.5 251.5L483.5 252.5L484.5 254.6L485.5 259.1L486.5 256.4L487.5 249.2L488.5 253.5L489.5 262.8L490.5 259.7L491.5 247.4L492.5 236.5L493.5 245.7L494.5 249.6L495.5 247.6L496.5 248.9L497.5 247.9L498.5 244.2L499.5 239.2L500.5 237.4L501.5 237.1L502.5 230.9L503.5 223.8L504.5 223.6L505.5 227.3L506.5 223.7L507.5 221.0L508.5 222.0L509.5 222.0L510.5 211.8L511.5 210.1L512.5 216.3L513.5 223.2L514.5 227.1L515.5 223.2L516.5 219.6L517.5 226.0L518.5 230.3L519.5 233.0L520.5 236.2L521.5 235.0L522.5 224.7L523.5 217.5L524.5 208.6L525.5 194.9L526.5 189.7L527.5 190.1L528.5 188.6L529.5 191.3L530.5 201.4L531.5 197.1L532.5 189.1L533.5 191.6L534.5 194.8L535.5 192.5L536.5 189.2L537.5 191.3L538.5 202.0L539.5 204.7L540.5 191.2L541.5 196.7L542.5 202.8L543.5 208.5L544.5 218.4L545.5 215.0L546.5 210.1L547.5 214.1L548.5 218.2L549.5 226.2L550.5 231.4L551.5 233.7L552.5 231.1L553.5 236.6L554.5 242.2L555.5 236.6L556.5 232.5L557.5 236.4L558.5 240.4L559.5 242.1L560.5 247.0L561.5 248.5L562.5 240.5L563.5 233.3L564.5 235.6L565.5 236.5L566.5 241.7L567.5 245.0L568.5 244.1L569.5 249.4L570.5 249.5L571.5 245.5L572.5 246.6L573.5 247.9L574.5 255.4L575.5 258.1L576.5 263.2L577.5 269.1L578.5 267.0L579.5 262.5L580.5 260.9L581.5 258.8L582.5 262.7L583.5 267.0L584.5 258.8L585.5 255.9L586.5 257.9L587.5 259.1L588.5 256.1L589.5 248.1L590.5 246.8L591.5 250.5L592.5 253.2L593.5 254.5L594.5 252.4L595.5 247.6L596.5 241.7L597.5 239.9L598.5 246.0L599.5 260.0L600.5 264.1L601.5 254.0L602.5 250.1L603.5 255.8L604.5 261.0L605.5 260.4L606.5 264.1L607.5 269.9L608.5 268.2L609.5 260.8L610.5 256.6L611.5 264.3L612.5 268.5L613.5 264.3L614.5 273.3L615.5 276.3L616.5 275.4L617.5 267.4L618.5 262.1L619.5 262.9L620.5 268.6L621.5 270.9L622.5 270.6L623.5 270.0L624.5 268.3L625.5 265.0L626.5 263.9L627.5 257.7L628.5 257.0L629.5 259.1L630.5 257.3L631.5 253.4L632.5 248.2L633.5 248.6L634.5 249.9L635.5 249.5L636.5 253.0L637.5 250.4L638.5 249.3L639.5 252.1L640.5 257.0L641.5 259.6L642.5 265.4L643.5 268.0L644.5 266.8L645.5 269.2L646.5 266.4L647.5 255.8L648.5 252.9L649.5 257.6L650.5 257.3L651.5 259.5L652.5 252.2L653.5 242.5L654.5 243.5L655.5 242.6L656.5 242.1L657.5 245.0L658.5 244.7L659.5 246.4L660.5 248.3L661.5 248.4L662.5 252.9L663.5 258.2L664.5 260.8L665.5 262.4L666.5 260.8L667.5 256.0L668.5 257.0L669.5 260.1L670.5 268.0L671.5 273.7L672.5 269.6L673.5 272.9L674.5 290.9L675.5 307.3L676.5 311.6L677.5 313.7L678.5 314.4L679.5 311.0L680.5 317.9L681.5 314.9L682.5 283.6L683.5 260.1L684.5 290.9L685.5 338.9L686.5 349.2L687.5 352.6L688.5 348.3L689.5 337.3L690.5 342.2L691.5 346.1L692.5 340.9L693.5 343.8L694.5 344.7L695.5 329.7L696.5 317.0L697.5 317.8L698.5 324.5L699.5 330.2L700.5 315.7L701.5 308.8L702.5 308.5L703.5 299.5L704.5 296.0L705.5 296.0L706.5 296.5L707.5 297.0L708.5 288.7L709.5 283.9L710.5 297.6L711.5 302.8L712.5 307.2L713.5 310.5L714.5 315.4L715.5 319.0L716.5 317.2L717.5 322.7L718.5 316.5L719.5 310.8L720.5 312.7L721.5 312.8L722.5 317.5L723.5 327.7L724.5 329.5L725.5 331.5L726.5 329.8L727.5 328.9L728.5 328.5L729.5 322.1L730.5 312.8L731.5 309.5L732.5 306.8L733.5 302.5L734.5 302.6L735.5 302.5L736.5 300.6L737.5 294.4L738.5 289.4L739.5 283.3L740.5 287.4L741.5 296.3L742.5 300.2L743.5 303.8L744.5 297.4L745.5 290.2L746.5 283.8L747.5 280.2L748.5 273.6L749.5 278.8L750.5 286.1L751.5 290.2L752.5 300.1L753.5 312.5L754.5 316.0L755.5 321.5L756.5 318.3L757.5 309.2L758.5 296.8L759.5 286.4L760.5 282.0L761.5 272.9L762.5 267.0L763.5 267.4L764.5 267.8L765.5 266.1L766.5 266.2L767.5 266.0L768.5 262.7L769.5 254.5L770.5 253.5L771.5 259.8L772.5 264.2L773.5 260.2L774.5 255.7L775.5 255.7L776.5 256.4L777.5 255.9L778.5 258.8L779.5 267.3L780.5 261.5L781.5 252.6L782.5 254.4L783.5 256.7L784.5 252.3L785.5 242.9L786.5 241.3L787.5 244.5L788.5 240.6L789.5 239.8L790.5 245.4L791.5 250.6L792.5 251.0L793.5 247.1L794.5 247.1L795.5 247.2L796.5 249.3L797.5 254.0L798.5 264.4L799.5 266.1L800.5 264.0L801.5 267.5L802.5 273.0L803.5 271.9L804.5 273.4L805.5 274.5L806.5 276.9L807.5 278.3L808.5 268.2L809.5 258.8L810.5 255.9L811.5 253.7L812.5 249.5L813.5 248.2L814.5 255.0L815.5 264.6L816.5 267.5L817.5 268.4L818.5 272.2L819.5 273.9L820.5 269.6L821.5 263.4L822.5 261.9L823.5 255.4L824.5 247.8L825.5 241.9L826.5 237.2L827.5 229.8L828.5 221.3L829.5 222.0L830.5 223.0L831.5 224.7L832.5 233.2L833.5 241.0L834.5 240.9L835.5 244.2L836.5 248.6L837.5 248.3L838.5 247.8L839.5 247.5L840.5 247.9L841.5 248.3L842.5 248.7L843.5 250.6L844.5 253.3L845.5 255.9L846.5 257.6L847.5 259.3L848.5 261.6L849.5 256.5L850.5 250.0L851.5 249.7L852.5 254.8L853.5 259.5L854.5 260.5L855.5 261.0L856.5 262.8L857.5 261.9L858.5 260.8L859.5 262.2L860.5 265.0L861.5 265.0L862.5 259.3L863.5 260.1L864.5 265.0L865.5 265.2L866.5 266.7L867.5 266.1L868.5 264.5L869.5 264.2L870.5 261.9L871.5 262.3L872.5 263.0L873.5 274.3L874.5 282.3L875.5 297.1L876.5 315.5L877.5 326.0L878.5 336.6L879.5 343.5L880.5 329.5L881.5 311.6L882.5 298.3L883.5 273.1L884.5 264.0L885.5 263.4L886.5 261.6L887.5 257.6L888.5 256.5L889.5 281.7L890.5 309.9L891.5 325.1L892.5 335.2L893.5 337.1L894.5 337.9L895.5 333.0L896.5 327.1L897.5 322.1L898.5 309.2L899.5 310.1L900.5 316.6L901.5 318.9L902.5 326.8L903.5 336.2L904.5 342.3L905.5 351.2L906.5 362.7L907.5 359.0L908.5 354.9L909.5 334.1L910.5 326.6L911.5 311.4L912.5 299.9L913.5 291.3L914.5 283.4L915.5 289.7L916.5 294.2L917.5 296.5L918.5 304.6L919.5 313.4L920.5 318.1L921.5 325.0L922.5 330.4L923.5 340.7L924.5 338.1L925.5 336.2L926.5 344.2L927.5 336.9L928.5 328.5L929.5 332.4L930.5 330.9L931.5 342.7L932.5 354.8L933.5 345.4L934.5 343.8L935.5 349.3L936.5 350.0L937.5 365.5L938.5 364.0L939.5 368.4L940.5 361.7L941.5 339.9L942.5 333.6L943.5 337.9L944.5 328.3L945.5 326.3L946.5 327.5L947.5 324.0L948.5 313.4L949.5 313.2L950.5 324.2L951.5 332.1L952.5 335.4L953.5 336.4L954.5 347.8L955.5 351.0L956.5 351.9L957.5 357.2L958.5 347.2L959.5 335.0L960.5 336.6L961.5 340.0L962.5 338.2L963.5 331.6L964.5 321.1L965.5 313.0L966.5 313.7L967.5 315.4L968.5 312.8L969.5 307.9L970.5 301.4L971.5 301.6L972.5 305.4L973.5 309.6L974.5 313.0L975.5 318.2L976.5 325.3L977.5 333.4L978.5 326.5L979.5 326.3L980.5 341.2L981.5 350.5L982.5 340.3L983.5 334.5L984.5 341.1L985.5 339.2L986.5 342.5L987.5 342.8L988.5 344.1L989.5 348.2L990.5 341.5L991.5 330.5L992.5 320.1L993.5 307.3L994.5 306.4L995.5 309.7L996.5 304.4L997.5 292.4L998.5 292.6L999.5 284.5L1000.5 279.2L1001.5 291.4L1002.5 292.1L1003.5 283.5L1004.5 283.5L1005.5 284.0L1006.5 289.3L1007.5 295.2L1008.5 291.3L1009.5 282.3L1010.5 275.9L1011.5 275.5L1012.5 278.0L1013.5 279.5L1014.5 284.1L1015.5 288.2L1016.5 290.1L1017.5 285.0L1018.5 280.9L1019.5 284.7L1020.5 280.4L1021.5 273.8L1022.5 270.5L1023.5 276.4L1024.5 287.2L1025.5 289.9L1026.5 294.6L1027.5 301.3L1028.5 301.9L1029.5 293.0L1030.5 289.4L1031.5 291.0L1032.5 288.4L1033.5 282.0L1034.5 280.8L1035.5 280.4L1036.5 275.9L1037.5 276.8L1038.5 284.7L1039.5 286.9L1040.5 281.4L1041.5 275.0L1042.5 270.2L1043.5 273.1L1044.5 276.1L1045.5 277.0L1046.5 281.4L1047.5 283.4L1048.5 290.4L1049.5 289.2L1050.5 288.4L1051.5 293.4L1052.5 301.8L1053.5 305.1L1054.5 302.3L1055.5 306.4L1056.5 304.7L1057.5 300.4L1058.5 302.1L1059.5 303.2L1060.5 289.0L1061.5 282.8L1062.5 284.1L1063.5 278.2L1064.5 263.1L1065.5 266.8L1066.5 267.9L1067.5 262.3L1068.5 265.7L1069.5 271.4L1070.5 274.9L1071.5 272.8L1072.5 272.2L1073.5 277.7L1074.5 279.1L1075.5 272.9L1076.5 274.2L1077.5 275.2L1078.5 276.2L1079.5 276.4L1080.5 270.5L1081.5 266.9L1082.5 266.8L1083.5 268.7L1084.5 275.1L1085.5 274.4L1086.5 266.5L1087.5 263.5L1088.5 260.3L1089.5 261.5L1090.5 265.8L1091.5 272.4L1092.5 270.6L1093.5 268.4L1094.5 268.7L1095.5 266.3L1096.5 265.6L1097.5 262.6L1098.5 264.4L1099.5 266.3L1100.5 258.0L1101.5 261.6L1102.5 265.2L1103.5 267.9L1104.5 266.5L1105.5 266.1L1106.5 266.9L1107.5 270.7L1108.5 267.7L1109.5 261.8L1110.5 259.4L1111.5 265.2L1112.5 272.4L1113.5 270.5L1114.5 270.0L1115.5 273.9L1116.5 276.1L1117.5 277.2L1118.5 279.6L1119.5 282.4L1120.5 275.7L1121.5 272.9L1122.5 276.1L1123.5 281.2L1124.5 283.3L1125.5 280.5L1126.5 280.4L1127.5 283.7L1128.5 286.8L1129.5 279.8L1130.5 278.8L1131.5 276.4L1132.5 275.7L1133.5 278.2L1134.5 278.5L1135.5 273.1L1136.5 270.6L1137.5 265.9L1138.5 266.8L1139.5 281.3L1140.5 282.3L1141.5 277.8L1142.5 275.8L1143.5 277.9L1144.5 282.8L1145.5 285.5L1146.5 282.5L1147.5 278.3L1148.5 274.2L1149.5 274.3L1150.5 271.2L1151.5 261.0L1152.5 257.6L1153.5 256.9L1154.5 253.6L1155.5 239.4L1156.5 233.6L1157.5 234.8L1158.5 231.4L1159.5 243.4L1160.5 243.9L1161.5 245.3L1162.5 248.9L1163.5 251.2L1164.5 263.6L1165.5 262.9L1166.5 264.7L1167.5 268.0L1168.5 271.0L1169.5 273.0L1170.5 271.9L1171.5 268.4L1172.5 261.4L1173.5 254.8L1174.5 250.9L1175.5 247.4L1176.5 247.5L1177.5 245.0L1178.5 244.2L1179.5 243.6L1180.5 239.4L1181.5 240.4L1182.5 240.9L1183.5 242.1L1184.5 240.6L1185.5 237.3L1186.5 239.6L1187.5 241.3L1188.5 238.2L1189.5 239.9L1190.5 239.7L1191.5 231.3L1192.5 232.4L1193.5 236.8L1194.5 233.0L1195.5 228.4L1196.5 222.7L1197.5 220.1L1198.5 226.8L1199.5 232.2L1200.5 232.9L1201.5 227.0L1202.5 213.6L1203.5 209.0L1204.5 220.0L1205.5 229.3L1206.5 225.5L1207.5 225.1L1208.5 227.2L1209.5 219.1L1210.5 218.8L1211.5 222.7L1212.5 218.1L1213.5 214.2L1214.5 218.5L1215.5 223.1L1216.5 219.2L1217.5 220.5L1218.5 225.7L1219.5 225.6L1220.5 231.7L1221.5 241.0L1222.5 241.5L1223.5 233.9L1224.5 233.0L1225.5 234.8L1226.5 229.2L1227.5 226.7L1228.5 224.7L1229.5 223.5L1230.5 225.7L1231.5 219.1L1232.5 215.1L1233.5 225.4L1234.5 222.6L1235.5 219.6L1236.5 217.7L1237.5 214.4L1238.5 210.7L1239.5 214.5L1240.5 222.6L1241.5 232.1L1242.5 233.8L1243.5 231.0L1244.5 221.6L1245.5 228.1L1246.5 238.2L1247.5 237.3L1248.5 241.0L1249.5 237.6L1250.5 230.5L1251.5 225.0L1252.5 222.4L1253.5 221.4L1254.5 230.7L1255.5 229.5L1256.5 220.4L1257.5 215.0L1258.5 216.2L1259.5 214.4L1260.5 216.4L1261.5 212.7L1262.5 204.9L1263.5 204.8L1264.5 214.2L1265.5 220.7L1266.5 225.3L1267.5 228.7L1268.5 227.3L1269.5 221.1L1270.5 224.1L1271.5 223.9L1272.5 217.8L1273.5 213.8L1274.5 208.9L1275.5 206.0L1276.5 205.9L1277.5 213.6L1278.5 218.7L1279.5 221.1L1280.5 216.0L1281.5 208.5L1282.5 204.4L1283.5 185.2L1284.5 181.8L1285.5 194.7L1286.5 213.5L1287.5 228.8L1288.5 238.0L1289.5 225.2L1290.5 218.5L1291.5 218.3L1292.5 219.7L1293.5 229.3L1294.5 223.5L1295.5 219.0L1296.5 221.6L1297.5 220.7L1298.5 223.9L1299.5 225.4L1300.5 220.9L1301.5 211.6L1302.5 213.1L1303.5 218.3L1304.5 219.2L1305.5 220.8L1306.5 232.0L1307.5 247.8L1308.5 251.1L1309.5 261.3L1310.5 263.2L1311.5 263.7L1312.5 268.1L1313.5 265.6L1314.5 250.1L1315.5 245.6L1316.5 237.1L1317.5 222.3L1318.5 211.3L1319.5 211.7L1320.5 220.4L1321.5 231.8L1322.5 241.2L1323.5 242.4L1324.5 244.5L1325.5 250.4L1326.5 247.0L1327.5 247.5L1328.5 251.7L1329.5 255.6L1330.5 255.0L1331.5 253.0L1332.5 253.0L1333.5 250.5L1334.5 248.2L1335.5 249.1L1336.5 245.3L1337.5 243.4L1338.5 245.9L1339.5 243.6L1340.5 247.3L1341.5 254.7L1342.5 249.1L1343.5 236.4L1344.5 234.7L1345.5 239.1L1346.5 234.9L1347.5 229.1L1348.5 228.0L1349.5 224.9L1350.5 233.2L1351.5 238.0L1352.5 233.3L1353.5 221.5L1354.5 226.3L1355.5 234.1L1356.5 230.4L1357.5 228.2L1358.5 229.8L1359.5 226.0L1360.5 229.1L1361.5 233.3L1362.5 233.8L1363.5 237.7L1364.5 241.1L1365.5 238.1L1366.5 229.5L1367.5 217.5L1368.5 212.7L1369.5 213.7L1370.5 215.1L1371.5 218.7L1372.5 224.0L1373.5 215.9L1374.5 210.2L1375.5 206.9L1376.5 200.1L1377.5 198.5L1378.5 200.7L1379.5 204.0L1380.5 209.4L1381.5 210.8L1382.5 217.3L1383.5 226.8L1384.5 228.9L1385.5 227.9L1386.5 230.5L1387.5 233.5L1388.5 230.5L1389.5 229.5L1390.5 237.1L1391.5 241.2L1392.5 236.1L1393.5 229.1L1394.5 222.7L1395.5 225.3L1396.5 232.4L1397.5 240.9L1398.5 246.0L1399.5 246.2L1400.5 245.4L1401.5 243.5L1402.5 251.4L1403.5 257.5L1404.5 252.5L1405.5 252.3L1406.5 264.9L1407.5 274.7L1408.5 274.6L1409.5 272.5L1410.5 271.3L1411.5 263.1L1412.5 264.5L1413.5 266.5L1414.5 268.4L1415.5 267.1L1416.5 279.5L1417.5 286.5L1418.5 278.7L1419.5 262.2L1420.5 245.3L1421.5 241.8L1422.5 244.3L1423.5 239.7L1424.5 240.1L1425.5 245.6L1426.5 253.7L1427.5 266.4L1428.5 278.1L1429.5 286.5L1430.5 282.3L1431.5 276.5L1432.5 272.1L1433.5 254.9L1434.5 251.2L1435.5 259.7L1436.5 271.0L1437.5 277.0L1438.5 271.0L1439.5 266.5L1440.5 265.8L1441.5 266.2L1442.5 277.2L1443.5 290.0L1444.5 289.9L1445.5 282.3L1446.5 277.7L1447.5 270.1L1448.5 263.4L1449.5 263.0L1450.5 259.1L1451.5 257.3L1452.5 258.6L1453.5 258.8L1454.5 258.9L1455.5 257.9L1456.5 256.1L1457.5 253.2L1458.5 252.4L1459.5 254.8L1460.5 258.7L1461.5 261.9L1462.5 259.5" fill="none" stroke="#ff7f0e" stroke-width="2.08" stroke-linejoin="round" stroke-linecap="butt"/>
</g>
<g class="tk">
<line x1="116.5" y1="518.5" x2="116.5" y2="523.4"/>
<line x1="284.5" y1="518.5" x2="284.5" y2="523.4"/>
<line x1="453.5" y1="518.5" x2="453.5" y2="523.4"/>
<line x1="621.5" y1="518.5" x2="621.5" y2="523.4"/>
<line x1="789.5" y1="518.5" x2="789.5" y2="523.4"/>
<line x1="957.5" y1="518.5" x2="957.5" y2="523.4"/>
<line x1="1126.5" y1="518.5" x2="1126.5" y2="523.4"/>
<line x1="1294.5" y1="518.5" x2="1294.5" y2="523.4"/>
<line x1="111.6" y1="85.5" x2="116.5" y2="85.5"/>
<line x1="111.6" y1="143.5" x2="116.5" y2="143.5"/>
<line x1="111.6" y1="201.5" x2="116.5" y2="201.5"/>
<line x1="111.6" y1="258.5" x2="116.5" y2="258.5"/>
<line x1="111.6" y1="316.5" x2="116.5" y2="316.5"/>
<line x1="111.6" y1="374.5" x2="116.5" y2="374.5"/>
<line x1="111.6" y1="432.5" x2="116.5" y2="432.5"/>
<line x1="111.6" y1="490.5" x2="116.5" y2="490.5"/>
</g>
<rect x="116.5" y="38.5" width="1346.0" height="480.0" fill="none" stroke="#000" stroke-width="1.1"/>
<text class="t22" x="106.0" y="93.6" text-anchor="end">3</text>
<text class="t22" x="106.0" y="151.4" text-anchor="end">2</text>
<text class="t22" x="106.0" y="209.2" text-anchor="end">1</text>
<text class="t22" x="106.0" y="267" text-anchor="end">0</text>
<text class="t22" x="106.0" y="324.9" text-anchor="end">−1</text>
<text class="t22" x="106.0" y="382.7" text-anchor="end">−2</text>
<text class="t22" x="106.0" y="440.5" text-anchor="end">−3</text>
<text class="t22" x="106.0" y="498.3" text-anchor="end">−4</text>
<clipPath id="clipb"><rect x="116.5" y="575.5" width="1346.0" height="479.0"/></clipPath>
<rect x="292.2" y="575.5" width="940.8" height="479.0" fill="#e6e6e6"/>
<g class="g">
<line x1="284.5" y1="575.5" x2="284.5" y2="1054.5"/>
<line x1="453.5" y1="575.5" x2="453.5" y2="1054.5"/>
<line x1="621.5" y1="575.5" x2="621.5" y2="1054.5"/>
<line x1="789.5" y1="575.5" x2="789.5" y2="1054.5"/>
<line x1="957.5" y1="575.5" x2="957.5" y2="1054.5"/>
<line x1="1126.5" y1="575.5" x2="1126.5" y2="1054.5"/>
<line x1="1294.5" y1="575.5" x2="1294.5" y2="1054.5"/>
<line x1="116.5" y1="592.5" x2="1462.5" y2="592.5"/>
<line x1="116.5" y1="666.5" x2="1462.5" y2="666.5"/>
<line x1="116.5" y1="740.5" x2="1462.5" y2="740.5"/>
<line x1="116.5" y1="814.5" x2="1462.5" y2="814.5"/>
<line x1="116.5" y1="888.5" x2="1462.5" y2="888.5"/>
<line x1="116.5" y1="962.5" x2="1462.5" y2="962.5"/>
<line x1="116.5" y1="1036.5" x2="1462.5" y2="1036.5"/>
</g>
<g clip-path="url(#clipb)">
<path d="M116.5 991.0L118.0 991.0L119.5 991.6L121.0 991.7L122.5 991.6L124.0 993.2L125.5 994.9L127.0 996.2L128.5 997.9L130.0 999.5L131.5 1000.7L133.0 1001.2L134.5 999.7L136.0 996.5L137.5 993.2L139.0 978.9L140.5 962.7L142.0 933.1L143.5 894.6L145.0 866.3L146.5 851.6L148.0 879.4L149.5 937.5L151.0 956.6L152.5 965.6L154.0 963.5L155.5 957.3L157.0 942.4L158.5 920.3L160.0 901.1L161.5 878.3L163.0 823.9L164.5 765.2L166.0 756.1L167.5 751.8L169.0 748.4L170.5 745.5L172.0 742.4L173.5 739.3L175.0 737.0L176.5 734.1L178.0 731.2L179.5 729.5L181.0 729.0L182.5 728.9L184.0 729.7L185.5 731.5L187.0 734.7L188.5 737.9L190.0 741.7L191.5 744.0L193.0 746.0L194.5 748.4L196.0 751.7L197.5 757.6L199.0 763.8L200.5 772.1L202.0 785.0L203.5 801.5L205.0 818.9L206.5 828.8L208.0 804.7L209.5 796.1L211.0 809.2L212.5 824.2L214.0 832.5L215.5 848.7L217.0 880.4L218.5 908.8L220.0 935.1L221.5 956.8L223.0 977.6L224.5 989.8L226.0 993.8L227.5 997.4L229.0 999.2L230.5 996.5L232.0 994.2L233.5 991.9L235.0 991.4L236.5 987.6L238.0 965.0L239.5 943.0L241.0 921.4L242.5 915.9L244.0 914.0L245.5 908.2L247.0 893.7L248.5 871.6L250.0 846.3L251.5 822.6L253.0 799.4L254.5 784.7L256.0 777.9L257.5 772.6L259.0 771.3L260.5 778.0L262.0 796.6L263.5 821.1L265.0 841.3L266.5 878.8L268.0 911.7L269.5 935.6L271.0 920.8L272.5 886.8L274.0 880.7L275.5 873.3L277.0 865.9L278.5 859.8L280.0 853.4L281.5 850.4L283.0 848.3L284.5 845.6L286.0 842.2L287.5 865.1L289.0 884.8L290.5 889.6L292.0 889.5L293.5 890.7L295.0 891.0L296.5 890.5L298.0 891.4L299.5 894.7L301.0 896.7L302.5 898.4L304.0 904.8L305.5 908.7L307.0 909.4L308.5 918.7L310.0 933.1L311.5 944.5L313.0 955.7L314.5 964.1L316.0 970.4L317.5 977.4L319.0 990.1L320.5 1002.3L322.0 1014.4L323.5 1017.9L325.0 1017.1L326.5 1016.9L328.0 1017.1L329.5 1005.4L331.0 981.7L332.5 969.4L334.0 959.1L335.5 950.2L337.0 944.2L338.5 938.4L340.0 942.6L341.5 948.9L343.0 955.3L344.5 955.5L346.0 949.4L347.5 943.2L349.0 940.6L350.5 938.1L352.0 938.1L353.5 940.4L355.0 942.8L356.5 949.6L358.0 958.4L359.5 972.1L361.0 991.2L362.5 1010.0L364.0 996.5L365.5 983.4L367.0 973.5L368.5 966.7L370.0 959.6L371.5 961.7L373.0 969.1L374.5 979.0L376.0 990.5L377.5 1001.7L379.0 1001.4L380.5 1001.5L382.0 1001.7L383.5 997.7L385.0 992.0L386.5 986.8L388.0 984.0L389.5 980.4L391.0 972.6L392.5 962.1L394.0 951.6L395.5 940.6L397.0 928.4L398.5 914.8L400.0 910.4L401.5 906.7L403.0 907.9L404.5 919.9L406.0 931.5L407.5 942.5L409.0 945.9L410.5 949.0L412.0 950.8L413.5 952.3L415.0 954.1L416.5 950.9L418.0 947.5L419.5 943.0L421.0 930.9L422.5 915.5L424.0 900.6L425.5 886.6L427.0 872.3L428.5 865.4L430.0 862.6L431.5 861.0L433.0 859.4L434.5 857.1L436.0 854.7L437.5 870.3L439.0 889.9L440.5 908.9L442.0 924.8L443.5 940.3L445.0 944.7L446.5 946.6L448.0 948.1L449.5 949.7L451.0 951.9L452.5 953.1L454.0 954.5L455.5 957.1L457.0 958.0L458.5 960.8L460.0 965.4L461.5 970.1L463.0 975.1L464.5 980.9L466.0 986.7L467.5 993.1L469.0 1000.3L470.5 1006.6L472.0 1009.4L473.5 1009.7L475.0 1009.9L476.5 1011.1L478.0 1013.9L479.5 1004.9L481.0 995.6L482.5 999.7L484.0 1006.3L485.5 1013.1L487.0 1016.9L488.5 1016.8L490.0 1016.4L491.5 1016.4L493.0 1016.0L494.5 1015.5L496.0 1015.8L497.5 1016.5L499.0 1016.8L500.5 1016.7L502.0 1016.5L503.5 1016.5L505.0 1016.5L506.5 1016.6L508.0 1016.5L509.5 1016.2L511.0 1015.8L512.5 1015.3L514.0 1015.5L515.5 1016.1L517.0 1016.0L518.5 1015.6L520.0 1015.4L521.5 1015.3L523.0 1015.2L524.5 1015.1L526.0 1015.0L527.5 1015.0L529.0 1015.3L530.5 1015.0L532.0 1014.5L533.5 1014.7L535.0 1015.0L536.5 1015.0L538.0 1015.2L539.5 1016.2L541.0 1016.7L542.5 1015.9L544.0 1015.3L545.5 1015.1L547.0 1014.6L548.5 1013.9L550.0 1013.9L551.5 1014.4L553.0 1014.8L554.5 1014.8L556.0 1014.4L557.5 1014.5L559.0 1014.7L560.5 1013.6L562.0 1012.8L563.5 1012.8L565.0 1013.0L566.5 1012.5L568.0 1011.5L569.5 1010.6L571.0 1010.6L572.5 1010.5L574.0 1009.3L575.5 1007.5L577.0 1007.3L578.5 1008.0L580.0 1008.7L581.5 1009.4L583.0 1010.1L584.5 1010.3L586.0 1009.3L587.5 1007.9L589.0 1006.8L590.5 1005.9L592.0 1004.4L593.5 1001.5L595.0 998.0L596.5 995.7L598.0 997.7L599.5 999.5L601.0 1001.3L602.5 1003.3L604.0 1002.9L605.5 1003.0L607.0 1003.9L608.5 1004.5L610.0 1004.5L611.5 1001.1L613.0 997.3L614.5 993.0L616.0 988.7L617.5 989.1L619.0 990.8L620.5 992.3L622.0 993.0L623.5 990.0L625.0 985.0L626.5 981.0L628.0 978.1L629.5 976.2L631.0 974.8L632.5 973.1L634.0 972.7L635.5 980.4L637.0 988.7L638.5 990.6L640.0 989.3L641.5 987.9L643.0 986.3L644.5 984.8L646.0 983.9L647.5 983.3L649.0 982.4L650.5 980.5L652.0 977.7L653.5 975.3L655.0 972.3L656.5 976.2L658.0 979.9L659.5 979.9L661.0 976.9L662.5 974.4L664.0 975.2L665.5 978.9L667.0 982.3L668.5 983.6L670.0 984.1L671.5 984.2L673.0 985.0L674.5 989.3L676.0 1003.0L677.5 1016.6L679.0 1012.7L680.5 1009.1L682.0 1003.0L683.5 993.9L685.0 1000.4L686.5 1010.1L688.0 1016.6L689.5 1016.9L691.0 1017.0L692.5 1017.0L694.0 1017.4L695.5 1017.9L697.0 1017.9L698.5 1017.6L700.0 1017.6L701.5 1018.1L703.0 1018.3L704.5 1018.0L706.0 1017.4L707.5 1016.7L709.0 1016.6L710.5 1016.9L712.0 1017.3L713.5 1017.1L715.0 1016.7L716.5 1016.7L718.0 1016.9L719.5 1017.1L721.0 1016.8L722.5 1016.5L724.0 1016.6L725.5 1016.3L727.0 1016.0L728.5 1016.6L730.0 1016.7L731.5 1016.0L733.0 1015.6L734.5 1015.0L736.0 1014.4L737.5 1014.0L739.0 1013.9L740.5 1014.6L742.0 1015.2L743.5 1015.2L745.0 1015.4L746.5 1015.9L748.0 1016.9L749.5 1017.7L751.0 1017.9L752.5 1018.6L754.0 1019.1L755.5 1019.5L757.0 1019.2L758.5 1018.3L760.0 1017.8L761.5 1017.2L763.0 1014.3L764.5 1011.6L766.0 1009.2L767.5 1008.6L769.0 1007.6L770.5 1008.4L772.0 1013.0L773.5 1017.5L775.0 1018.0L776.5 1018.1L778.0 1018.4L779.5 1017.8L781.0 1011.8L782.5 1003.5L784.0 995.7L785.5 992.4L787.0 990.3L788.5 987.4L790.0 989.4L791.5 992.2L793.0 995.0L794.5 998.1L796.0 1000.5L797.5 1002.2L799.0 1004.9L800.5 1007.6L802.0 1010.2L803.5 1009.5L805.0 1006.8L806.5 1003.6L808.0 999.7L809.5 993.7L811.0 987.7L812.5 988.9L814.0 990.2L815.5 985.4L817.0 980.5L818.5 981.6L820.0 985.3L821.5 989.0L823.0 978.5L824.5 940.2L826.0 927.0L827.5 924.2L829.0 919.9L830.5 916.8L832.0 919.0L833.5 918.3L835.0 915.9L836.5 913.8L838.0 913.4L839.5 911.3L841.0 905.9L842.5 899.7L844.0 901.4L845.5 911.1L847.0 919.8L848.5 934.2L850.0 952.2L851.5 953.2L853.0 954.0L854.5 953.4L856.0 952.2L857.5 950.7L859.0 949.0L860.5 968.3L862.0 982.6L863.5 986.7L865.0 986.8L866.5 987.3L868.0 988.5L869.5 989.9L871.0 992.6L872.5 994.6L874.0 997.0L875.5 1002.7L877.0 1008.9L878.5 1015.3L880.0 1005.2L881.5 991.3L883.0 977.4L884.5 963.9L886.0 950.1L887.5 945.4L889.0 942.9L890.5 959.3L892.0 1012.7L893.5 1014.0L895.0 1014.9L896.5 1015.4L898.0 1016.0L899.5 1015.8L901.0 1015.5L902.5 1015.7L904.0 1016.4L905.5 1016.6L907.0 1016.2L908.5 1015.6L910.0 1015.2L911.5 1015.1L913.0 1014.8L914.5 1014.8L916.0 1014.7L917.5 1014.4L919.0 1014.4L920.5 1014.9L922.0 1015.5L923.5 1015.9L925.0 1016.0L926.5 1015.8L928.0 1015.5L929.5 1015.7L931.0 1016.0L932.5 1015.7L934.0 1015.4L935.5 1015.4L937.0 1015.7L938.5 1016.0L940.0 1016.2L941.5 1016.9L943.0 1017.4L944.5 1017.4L946.0 1017.3L947.5 1016.8L949.0 1016.2L950.5 1015.9L952.0 1015.8L953.5 1015.8L955.0 1015.8L956.5 1015.8L958.0 1015.3L959.5 1014.6L961.0 1014.9L962.5 1015.0L964.0 1014.4L965.5 1013.7L967.0 1013.0L968.5 1012.6L970.0 1012.3L971.5 1012.1L973.0 1011.9L974.5 1012.4L976.0 1014.1L977.5 1015.4L979.0 1015.6L980.5 1015.8L982.0 1016.0L983.5 1016.4L985.0 1017.2L986.5 1016.9L988.0 1016.1L989.5 1015.8L991.0 1015.4L992.5 1015.2L994.0 1015.7L995.5 1015.6L997.0 1014.9L998.5 1012.8L1000.0 1009.6L1001.5 1006.6L1003.0 1003.9L1004.5 998.8L1006.0 991.9L1007.5 985.3L1009.0 990.3L1010.5 994.5L1012.0 994.1L1013.5 990.2L1015.0 987.0L1016.5 983.0L1018.0 978.3L1019.5 972.7L1021.0 967.0L1022.5 968.5L1024.0 971.5L1025.5 974.1L1027.0 977.3L1028.5 980.9L1030.0 984.2L1031.5 988.3L1033.0 992.8L1034.5 997.6L1036.0 997.9L1037.5 995.6L1039.0 993.1L1040.5 990.8L1042.0 988.6L1043.5 988.8L1045.0 989.8L1046.5 990.9L1048.0 992.5L1049.5 994.4L1051.0 994.0L1052.5 992.0L1054.0 990.2L1055.5 988.2L1057.0 985.4L1058.5 985.2L1060.0 990.0L1061.5 995.5L1063.0 1000.7L1064.5 1000.3L1066.0 994.7L1067.5 988.6L1069.0 982.5L1070.5 977.7L1072.0 968.3L1073.5 952.5L1075.0 936.4L1076.5 937.7L1078.0 936.6L1079.5 936.0L1081.0 934.8L1082.5 933.0L1084.0 931.7L1085.5 931.8L1087.0 933.3L1088.5 953.9L1090.0 970.8L1091.5 978.3L1093.0 985.6L1094.5 991.9L1096.0 995.6L1097.5 999.4L1099.0 1003.1L1100.5 1005.9L1102.0 1006.4L1103.5 1006.6L1105.0 1006.7L1106.5 996.4L1108.0 985.7L1109.5 975.1L1111.0 969.4L1112.5 962.5L1114.0 954.2L1115.5 949.0L1117.0 950.2L1118.5 947.5L1120.0 937.1L1121.5 926.7L1123.0 924.7L1124.5 940.6L1126.0 956.7L1127.5 960.5L1129.0 961.9L1130.5 963.1L1132.0 964.0L1133.5 965.3L1135.0 966.6L1136.5 967.1L1138.0 964.5L1139.5 956.1L1141.0 947.0L1142.5 937.9L1144.0 929.3L1145.5 920.5L1147.0 916.4L1148.5 916.8L1150.0 916.8L1151.5 916.8L1153.0 917.5L1154.5 918.5L1156.0 919.1L1157.5 920.1L1159.0 921.2L1160.5 923.1L1162.0 924.8L1163.5 925.0L1165.0 924.9L1166.5 927.9L1168.0 933.0L1169.5 935.7L1171.0 939.2L1172.5 942.4L1174.0 948.0L1175.5 953.8L1177.0 962.3L1178.5 970.6L1180.0 978.8L1181.5 986.5L1183.0 993.8L1184.5 1000.9L1186.0 1008.3L1187.5 1014.6L1189.0 1013.7L1190.5 1013.7L1192.0 1013.9L1193.5 1013.8L1195.0 1013.5L1196.5 1013.5L1198.0 1013.8L1199.5 1013.7L1201.0 1013.5L1202.5 1013.5L1204.0 1013.8L1205.5 1014.3L1207.0 1014.2L1208.5 1013.7L1210.0 1013.5L1211.5 1013.9L1213.0 1014.4L1214.5 1014.5L1216.0 1014.2L1217.5 1014.0L1219.0 1013.9L1220.5 1013.7L1222.0 1013.8L1223.5 1014.5L1225.0 1014.7L1226.5 1015.1L1228.0 1015.9L1229.5 1016.1L1231.0 1015.9L1232.5 1015.7L1234.0 1015.9L1235.5 1016.0L1237.0 1015.9L1238.5 1015.3L1240.0 1014.7L1241.5 1013.8L1243.0 1013.2L1244.5 1013.1L1246.0 1013.2L1247.5 1013.3L1249.0 1012.9L1250.5 1012.5L1252.0 1012.3L1253.5 1012.6L1255.0 1013.1L1256.5 1013.6L1258.0 1014.2L1259.5 1014.4L1261.0 1014.9L1262.5 1015.8L1264.0 1015.8L1265.5 1015.9L1267.0 1016.9L1268.5 1017.1L1270.0 1016.5L1271.5 1016.3L1273.0 1017.0L1274.5 1017.8L1276.0 1017.3L1277.5 1016.8L1279.0 1016.8L1280.5 1016.6L1282.0 1015.7L1283.5 1015.1L1285.0 1015.4L1286.5 1016.3L1288.0 1016.5L1289.5 1015.6L1291.0 1014.6L1292.5 1013.7L1294.0 1012.8L1295.5 1012.5L1297.0 1012.0L1298.5 1011.6L1300.0 1011.6L1301.5 1011.9L1303.0 1012.1L1304.5 1011.3L1306.0 1008.4L1307.5 1005.7L1309.0 1004.5L1310.5 1003.6L1312.0 1002.3L1313.5 1002.0L1315.0 1003.8L1316.5 1007.2L1318.0 1010.8L1319.5 1011.4L1321.0 1008.1L1322.5 1005.2L1324.0 1002.2L1325.5 998.9L1327.0 996.2L1328.5 995.2L1330.0 994.1L1331.5 992.7L1333.0 993.0L1334.5 994.5L1336.0 996.1L1337.5 997.2L1339.0 999.1L1340.5 1001.6L1342.0 1004.1L1343.5 1005.9L1345.0 1007.8L1346.5 1009.5L1348.0 1010.8L1349.5 1012.4L1351.0 1014.6L1352.5 1014.3L1354.0 1012.4L1355.5 1010.4L1357.0 1008.5L1358.5 1006.9L1360.0 1005.6L1361.5 1005.0L1363.0 1004.4L1364.5 1004.3L1366.0 1004.2L1367.5 1004.4L1369.0 1006.3L1370.5 1008.3L1372.0 1010.2L1373.5 1011.8L1375.0 1013.9L1376.5 1014.6L1378.0 1014.8L1379.5 1014.4L1381.0 1013.8L1382.5 1013.3L1384.0 1013.2L1385.5 1012.5L1387.0 1011.5L1388.5 1010.7L1390.0 1010.0L1391.5 1009.3L1393.0 1009.4L1394.5 1009.5L1396.0 1008.9L1397.5 1008.6L1399.0 1008.6L1400.5 1008.5L1402.0 1007.5L1403.5 1004.8L1405.0 1001.8L1406.5 998.4L1408.0 995.5L1409.5 992.5L1411.0 989.5L1412.5 986.3L1414.0 988.5L1415.5 992.2L1417.0 995.9L1418.5 998.4L1420.0 1000.1L1421.5 1001.7L1423.0 1002.0L1424.5 999.6L1426.0 998.3L1427.5 997.4L1429.0 996.6L1430.5 995.4L1432.0 996.4L1433.5 998.1L1435.0 999.5L1436.5 1000.3L1438.0 997.3L1439.5 994.4L1441.0 990.7L1442.5 988.0L1444.0 986.1L1445.5 987.3L1447.0 990.2L1448.5 993.1L1450.0 995.8L1451.5 998.2L1453.0 1000.5L1454.5 1001.8L1456.0 1002.8L1457.5 1003.7L1459.0 1003.0L1460.5 1002.3L1462.0 1001.6L1462.0 1026.9L1460.5 1026.9L1459.0 1026.9L1457.5 1026.9L1456.0 1026.5L1454.5 1026.1L1453.0 1026.3L1451.5 1026.0L1450.0 1025.3L1448.5 1024.9L1447.0 1024.6L1445.5 1024.4L1444.0 1024.6L1442.5 1024.7L1441.0 1025.1L1439.5 1026.0L1438.0 1026.0L1436.5 1025.7L1435.0 1026.1L1433.5 1026.6L1432.0 1026.4L1430.5 1026.0L1429.0 1026.1L1427.5 1026.6L1426.0 1027.2L1424.5 1028.0L1423.0 1028.9L1421.5 1028.9L1420.0 1028.5L1418.5 1027.9L1417.0 1026.9L1415.5 1025.4L1414.0 1024.1L1412.5 1023.5L1411.0 1024.4L1409.5 1025.4L1408.0 1026.0L1406.5 1025.7L1405.0 1026.0L1403.5 1026.7L1402.0 1026.7L1400.5 1026.1L1399.0 1025.3L1397.5 1024.7L1396.0 1024.6L1394.5 1025.4L1393.0 1026.4L1391.5 1026.9L1390.0 1026.8L1388.5 1026.8L1387.0 1026.4L1385.5 1025.8L1384.0 1025.6L1382.5 1026.1L1381.0 1026.8L1379.5 1026.9L1378.0 1026.4L1376.5 1026.2L1375.0 1026.3L1373.5 1026.0L1372.0 1025.8L1370.5 1026.2L1369.0 1026.2L1367.5 1025.4L1366.0 1025.2L1364.5 1025.8L1363.0 1026.3L1361.5 1025.9L1360.0 1025.0L1358.5 1025.1L1357.0 1025.7L1355.5 1026.0L1354.0 1026.1L1352.5 1026.2L1351.0 1026.4L1349.5 1026.4L1348.0 1026.1L1346.5 1025.5L1345.0 1025.0L1343.5 1025.0L1342.0 1024.8L1340.5 1024.8L1339.0 1025.8L1337.5 1026.1L1336.0 1025.2L1334.5 1024.8L1333.0 1025.1L1331.5 1024.7L1330.0 1024.1L1328.5 1024.0L1327.0 1024.7L1325.5 1025.3L1324.0 1025.6L1322.5 1026.0L1321.0 1026.2L1319.5 1025.5L1318.0 1024.9L1316.5 1025.1L1315.0 1025.5L1313.5 1025.3L1312.0 1025.0L1310.5 1025.0L1309.0 1025.4L1307.5 1025.8L1306.0 1026.4L1304.5 1026.4L1303.0 1026.0L1301.5 1025.9L1300.0 1026.3L1298.5 1026.3L1297.0 1026.0L1295.5 1025.9L1294.0 1026.2L1292.5 1026.3L1291.0 1026.4L1289.5 1026.7L1288.0 1026.8L1286.5 1026.9L1285.0 1026.8L1283.5 1026.7L1282.0 1026.8L1280.5 1026.6L1279.0 1026.5L1277.5 1027.0L1276.0 1027.1L1274.5 1026.9L1273.0 1026.8L1271.5 1026.6L1270.0 1026.7L1268.5 1026.8L1267.0 1027.2L1265.5 1028.1L1264.0 1027.9L1262.5 1027.0L1261.0 1026.4L1259.5 1026.3L1258.0 1026.4L1256.5 1026.4L1255.0 1026.5L1253.5 1026.3L1252.0 1026.2L1250.5 1026.0L1249.0 1026.0L1247.5 1026.4L1246.0 1026.8L1244.5 1027.1L1243.0 1027.4L1241.5 1027.8L1240.0 1027.7L1238.5 1027.1L1237.0 1026.7L1235.5 1026.8L1234.0 1027.2L1232.5 1027.4L1231.0 1026.7L1229.5 1026.0L1228.0 1026.2L1226.5 1026.8L1225.0 1026.4L1223.5 1025.9L1222.0 1026.3L1220.5 1026.7L1219.0 1026.4L1217.5 1026.1L1216.0 1025.6L1214.5 1025.3L1213.0 1025.8L1211.5 1026.4L1210.0 1026.5L1208.5 1026.6L1207.0 1027.0L1205.5 1027.3L1204.0 1027.0L1202.5 1026.6L1201.0 1026.4L1199.5 1026.1L1198.0 1026.0L1196.5 1026.1L1195.0 1026.2L1193.5 1026.0L1192.0 1025.7L1190.5 1025.5L1189.0 1025.7L1187.5 1026.2L1186.0 1026.0L1184.5 1024.9L1183.0 1024.1L1181.5 1023.1L1180.0 1021.6L1178.5 1019.6L1177.0 1016.9L1175.5 1013.8L1174.0 1012.4L1172.5 1011.6L1171.0 1011.4L1169.5 1011.0L1168.0 1010.4L1166.5 1009.6L1165.0 1009.3L1163.5 1009.8L1162.0 1011.0L1160.5 1012.2L1159.0 1011.5L1157.5 1010.3L1156.0 1009.7L1154.5 1010.5L1153.0 1010.6L1151.5 1010.8L1150.0 1011.1L1148.5 1011.9L1147.0 1012.5L1145.5 1012.6L1144.0 1013.1L1142.5 1014.1L1141.0 1014.5L1139.5 1014.2L1138.0 1013.6L1136.5 1014.2L1135.0 1015.5L1133.5 1016.3L1132.0 1017.5L1130.5 1019.5L1129.0 1021.1L1127.5 1022.6L1126.0 1023.8L1124.5 1022.3L1123.0 1020.7L1121.5 1020.3L1120.0 1020.2L1118.5 1020.0L1117.0 1020.3L1115.5 1020.3L1114.0 1020.0L1112.5 1020.6L1111.0 1022.2L1109.5 1023.6L1108.0 1024.9L1106.5 1026.0L1105.0 1027.2L1103.5 1027.4L1102.0 1027.5L1100.5 1027.5L1099.0 1027.2L1097.5 1026.5L1096.0 1026.1L1094.5 1026.1L1093.0 1025.7L1091.5 1025.1L1090.0 1025.0L1088.5 1024.8L1087.0 1023.8L1085.5 1023.2L1084.0 1022.6L1082.5 1021.7L1081.0 1021.1L1079.5 1020.9L1078.0 1020.6L1076.5 1020.5L1075.0 1020.4L1073.5 1020.7L1072.0 1021.3L1070.5 1022.2L1069.0 1023.4L1067.5 1024.0L1066.0 1023.5L1064.5 1023.3L1063.0 1023.9L1061.5 1023.7L1060.0 1023.2L1058.5 1022.9L1057.0 1022.6L1055.5 1022.3L1054.0 1022.2L1052.5 1022.3L1051.0 1022.4L1049.5 1022.8L1048.0 1023.4L1046.5 1023.4L1045.0 1022.8L1043.5 1022.4L1042.0 1022.5L1040.5 1022.6L1039.0 1022.5L1037.5 1022.6L1036.0 1022.7L1034.5 1022.1L1033.0 1021.2L1031.5 1020.8L1030.0 1020.4L1028.5 1020.3L1027.0 1020.0L1025.5 1019.8L1024.0 1020.3L1022.5 1021.0L1021.0 1021.5L1019.5 1021.3L1018.0 1020.9L1016.5 1021.3L1015.0 1022.0L1013.5 1022.4L1012.0 1022.9L1010.5 1023.6L1009.0 1024.0L1007.5 1024.3L1006.0 1024.7L1004.5 1025.1L1003.0 1025.6L1001.5 1025.8L1000.0 1025.6L998.5 1025.7L997.0 1026.1L995.5 1026.4L994.0 1026.5L992.5 1026.3L991.0 1026.2L989.5 1026.2L988.0 1026.3L986.5 1026.6L985.0 1026.7L983.5 1026.7L982.0 1027.1L980.5 1027.3L979.0 1027.3L977.5 1027.5L976.0 1027.8L974.5 1027.5L973.0 1026.9L971.5 1026.8L970.0 1027.5L968.5 1028.0L967.0 1028.3L965.5 1028.8L964.0 1029.0L962.5 1028.2L961.0 1027.7L959.5 1028.0L958.0 1028.2L956.5 1028.3L955.0 1028.3L953.5 1028.1L952.0 1027.7L950.5 1027.4L949.0 1027.4L947.5 1027.3L946.0 1027.3L944.5 1027.6L943.0 1028.1L941.5 1028.5L940.0 1028.7L938.5 1029.0L937.0 1028.7L935.5 1028.6L934.0 1028.7L932.5 1028.7L931.0 1028.6L929.5 1028.4L928.0 1028.1L926.5 1027.9L925.0 1027.7L923.5 1027.7L922.0 1028.0L920.5 1028.3L919.0 1027.9L917.5 1027.2L916.0 1026.7L914.5 1026.6L913.0 1026.8L911.5 1027.7L910.0 1028.6L908.5 1029.3L907.0 1029.4L905.5 1029.2L904.0 1029.0L902.5 1029.1L901.0 1029.2L899.5 1029.0L898.0 1028.5L896.5 1028.2L895.0 1028.7L893.5 1029.8L892.0 1030.4L890.5 1029.0L889.0 1027.3L887.5 1026.0L886.0 1025.1L884.5 1026.2L883.0 1027.5L881.5 1028.2L880.0 1028.5L878.5 1029.1L877.0 1028.5L875.5 1027.4L874.0 1025.8L872.5 1023.8L871.0 1022.4L869.5 1021.1L868.0 1020.5L866.5 1019.9L865.0 1019.3L863.5 1019.4L862.0 1019.6L860.5 1018.8L859.0 1017.9L857.5 1017.7L856.0 1017.0L854.5 1016.4L853.0 1016.0L851.5 1015.6L850.0 1015.1L848.5 1013.0L847.0 1011.6L845.5 1010.9L844.0 1009.8L842.5 1009.6L841.0 1010.6L839.5 1011.4L838.0 1011.5L836.5 1011.1L835.0 1010.0L833.5 1008.6L832.0 1006.3L830.5 1004.2L829.0 1006.0L827.5 1009.9L826.0 1013.7L824.5 1016.7L823.0 1018.4L821.5 1018.9L820.0 1018.8L818.5 1018.9L817.0 1020.1L815.5 1022.1L814.0 1023.4L812.5 1023.4L811.0 1023.7L809.5 1024.4L808.0 1024.7L806.5 1024.7L805.0 1024.8L803.5 1024.9L802.0 1025.5L800.5 1026.0L799.0 1025.7L797.5 1024.8L796.0 1024.8L794.5 1025.2L793.0 1025.3L791.5 1025.2L790.0 1025.2L788.5 1025.7L787.0 1025.8L785.5 1025.3L784.0 1025.1L782.5 1025.7L781.0 1026.8L779.5 1027.8L778.0 1028.3L776.5 1028.4L775.0 1028.6L773.5 1028.9L772.0 1028.2L770.5 1027.4L769.0 1026.8L767.5 1026.6L766.0 1026.7L764.5 1027.0L763.0 1027.3L761.5 1028.1L760.0 1028.4L758.5 1028.4L757.0 1028.3L755.5 1028.9L754.0 1029.8L752.5 1030.6L751.0 1030.4L749.5 1030.1L748.0 1030.5L746.5 1031.0L745.0 1031.1L743.5 1030.8L742.0 1030.1L740.5 1029.5L739.0 1029.3L737.5 1028.8L736.0 1028.2L734.5 1028.3L733.0 1028.9L731.5 1029.1L730.0 1028.7L728.5 1029.0L727.0 1029.7L725.5 1029.6L724.0 1029.4L722.5 1029.4L721.0 1028.9L719.5 1029.1L718.0 1029.4L716.5 1029.2L715.0 1029.0L713.5 1028.2L712.0 1027.4L710.5 1027.1L709.0 1027.5L707.5 1027.6L706.0 1028.1L704.5 1028.8L703.0 1029.0L701.5 1028.1L700.0 1027.2L698.5 1027.9L697.0 1029.3L695.5 1029.9L694.0 1029.7L692.5 1029.0L691.0 1028.1L689.5 1027.8L688.0 1027.5L686.5 1026.9L685.0 1026.3L683.5 1025.9L682.0 1025.6L680.5 1025.7L679.0 1026.1L677.5 1026.2L676.0 1024.4L674.5 1022.7L673.0 1016.9L671.5 1014.0L670.0 1012.4L668.5 1011.7L667.0 1011.8L665.5 1012.1L664.0 1011.9L662.5 1011.8L661.0 1012.1L659.5 1012.3L658.0 1012.0L656.5 1012.2L655.0 1012.7L653.5 1014.1L652.0 1015.5L650.5 1016.5L649.0 1016.8L647.5 1016.7L646.0 1016.6L644.5 1017.0L643.0 1017.4L641.5 1017.9L640.0 1018.0L638.5 1017.6L637.0 1016.6L635.5 1015.0L634.0 1014.3L632.5 1015.0L631.0 1014.7L629.5 1014.3L628.0 1014.9L626.5 1015.8L625.0 1016.8L623.5 1017.5L622.0 1017.4L620.5 1017.4L619.0 1018.1L617.5 1018.4L616.0 1018.4L614.5 1018.5L613.0 1018.9L611.5 1019.6L610.0 1020.4L608.5 1020.4L607.0 1020.5L605.5 1021.2L604.0 1021.7L602.5 1021.4L601.0 1020.7L599.5 1020.3L598.0 1020.4L596.5 1020.8L595.0 1021.0L593.5 1021.2L592.0 1021.7L590.5 1022.1L589.0 1022.2L587.5 1022.1L586.0 1022.4L584.5 1022.5L583.0 1022.1L581.5 1021.9L580.0 1022.5L578.5 1023.3L577.0 1023.6L575.5 1023.7L574.0 1023.9L572.5 1024.0L571.0 1024.6L569.5 1025.3L568.0 1026.0L566.5 1026.1L565.0 1025.9L563.5 1026.1L562.0 1026.8L560.5 1026.8L559.0 1026.1L557.5 1025.4L556.0 1025.7L554.5 1026.3L553.0 1026.7L551.5 1026.6L550.0 1026.5L548.5 1026.3L547.0 1026.0L545.5 1026.0L544.0 1026.6L542.5 1026.8L541.0 1026.5L539.5 1026.9L538.0 1027.4L536.5 1027.4L535.0 1027.2L533.5 1027.5L532.0 1028.5L530.5 1028.7L529.0 1027.7L527.5 1026.7L526.0 1027.0L524.5 1027.4L523.0 1027.0L521.5 1026.8L520.0 1027.1L518.5 1027.4L517.0 1027.4L515.5 1027.8L514.0 1028.3L512.5 1028.4L511.0 1028.4L509.5 1028.5L508.0 1028.4L506.5 1028.7L505.0 1028.9L503.5 1028.9L502.0 1028.5L500.5 1028.1L499.0 1028.1L497.5 1028.2L496.0 1028.5L494.5 1028.2L493.0 1027.5L491.5 1027.7L490.0 1028.2L488.5 1028.6L487.0 1029.2L485.5 1029.3L484.0 1027.9L482.5 1026.5L481.0 1025.7L479.5 1026.2L478.0 1026.9L476.5 1028.2L475.0 1028.1L473.5 1027.7L472.0 1027.4L470.5 1026.7L469.0 1025.9L467.5 1025.0L466.0 1023.3L464.5 1021.8L463.0 1020.6L461.5 1019.8L460.0 1018.8L458.5 1017.0L457.0 1016.0L455.5 1017.4L454.0 1019.7L452.5 1020.3L451.0 1019.9L449.5 1018.8L448.0 1017.3L446.5 1015.6L445.0 1014.1L443.5 1012.5L442.0 1010.1L440.5 1007.7L439.0 1004.6L437.5 1001.2L436.0 997.7L434.5 994.9L433.0 992.4L431.5 990.5L430.0 990.3L428.5 991.7L427.0 995.4L425.5 1003.0L424.0 1010.3L422.5 1013.3L421.0 1015.2L419.5 1016.9L418.0 1018.1L416.5 1019.2L415.0 1020.4L413.5 1019.8L412.0 1019.0L410.5 1018.4L409.0 1017.8L407.5 1016.7L406.0 1015.4L404.5 1014.5L403.0 1013.9L401.5 1014.9L400.0 1016.2L398.5 1017.2L397.0 1017.1L395.5 1017.0L394.0 1017.7L392.5 1018.8L391.0 1019.7L389.5 1020.5L388.0 1021.7L386.5 1022.7L385.0 1024.9L383.5 1028.0L382.0 1030.1L380.5 1029.8L379.0 1029.2L377.5 1028.0L376.0 1026.1L374.5 1023.8L373.0 1021.3L371.5 1019.4L370.0 1020.4L368.5 1024.1L367.0 1026.7L365.5 1027.8L364.0 1028.1L362.5 1029.0L361.0 1026.9L359.5 1024.6L358.0 1019.9L356.5 1013.1L355.0 1009.1L353.5 1009.5L352.0 1009.6L350.5 1009.7L349.0 1010.3L347.5 1011.3L346.0 1011.7L344.5 1012.0L343.0 1011.2L341.5 1010.1L340.0 1009.4L338.5 1008.8L337.0 1009.8L335.5 1011.0L334.0 1015.5L332.5 1021.3L331.0 1025.9L329.5 1028.7L328.0 1030.0L326.5 1029.5L325.0 1028.9L323.5 1029.0L322.0 1029.3L320.5 1029.0L319.0 1028.2L317.5 1026.8L316.0 1025.9L314.5 1025.3L313.0 1023.3L311.5 1019.8L310.0 1016.8L308.5 1015.5L307.0 1015.7L305.5 1019.3L304.0 1022.1L302.5 1024.0L301.0 1023.7L299.5 1023.0L298.0 1022.5L296.5 1023.5L295.0 1025.4L293.5 1025.6L292.0 1025.1L290.5 1025.8L289.0 1024.3L287.5 1010.3L286.0 984.8L284.5 978.1L283.0 974.0L281.5 983.8L280.0 993.6L278.5 1007.2L277.0 1020.6L275.5 1023.8L274.0 1025.1L272.5 1026.4L271.0 1026.8L269.5 1025.7L268.0 1021.4L266.5 1011.3L265.0 998.3L263.5 978.1L262.0 956.3L260.5 937.9L259.0 928.3L257.5 930.9L256.0 935.8L254.5 942.1L253.0 950.5L251.5 961.1L250.0 971.4L248.5 1000.7L247.0 1021.1L245.5 1024.3L244.0 1025.3L242.5 1025.3L241.0 1025.3L239.5 1026.6L238.0 1027.9L236.5 1028.4L235.0 1028.4L233.5 1028.1L232.0 1027.7L230.5 1028.2L229.0 1028.9L227.5 1028.9L226.0 1027.9L224.5 1026.6L223.0 1026.4L221.5 1026.9L220.0 1027.2L218.5 1020.1L217.0 1011.4L215.5 1001.0L214.0 994.9L212.5 990.9L211.0 989.6L209.5 988.2L208.0 991.8L206.5 993.1L205.0 978.8L203.5 963.2L202.0 954.2L200.5 946.5L199.0 940.3L197.5 932.6L196.0 925.7L194.5 923.8L193.0 921.0L191.5 919.7L190.0 919.7L188.5 918.5L187.0 917.0L185.5 915.7L184.0 913.9L182.5 912.3L181.0 911.5L179.5 911.1L178.0 911.0L176.5 911.2L175.0 910.5L173.5 908.8L172.0 907.6L170.5 907.1L169.0 914.3L167.5 925.7L166.0 937.2L164.5 949.0L163.0 964.1L161.5 985.4L160.0 1001.5L158.5 1011.1L157.0 1017.2L155.5 1021.4L154.0 1023.4L152.5 1024.5L151.0 1023.9L149.5 1025.0L148.0 1022.4L146.5 1020.1L145.0 1019.9L143.5 1019.6L142.0 1022.6L140.5 1025.5L139.0 1026.4L137.5 1027.1L136.0 1027.5L134.5 1028.1L133.0 1028.0L131.5 1026.6L130.0 1025.8L128.5 1025.6L127.0 1025.5L125.5 1025.3L124.0 1025.5L122.5 1025.6L121.0 1025.3L119.5 1024.8L118.0 1024.7L116.5 1024.7Z" fill="#1f77b4" stroke="#1f77b4" stroke-width="3" stroke-linejoin="round"/>
<path d="M117.8 990.3h.01M118.5 989h.01M119.7 993.6h.01M119.6 992.7h.01M121.3 994.4h.01M122.4 990.2h.01M122.7 995.2h.01M123.5 994.5h.01M124 992.3h.01M131.2 1002.1h.01M133.3 998.5h.01M132.8 1003h.01M133.3 1000.6h.01M136.3 996.3h.01M139.5 991.5h.01M137.3 992.2h.01M141 961.1h.01M141.3 961.2h.01M139.5 942.8h.01M141.4 938.1h.01M142.4 913.1h.01M142.6 908.2h.01M144 891.6h.01M144.2 889.2h.01M146.4 857.9h.01M146.4 858.2h.01M145.9 855.2h.01M145.3 845.2h.01M146.6 839.6h.01M148.7 862.4h.01M148.8 901.6h.01M148.7 899.2h.01M147.7 898.8h.01M149.2 935.2h.01M148.8 922.3h.01M150.4 953.3h.01M150.8 951.2h.01M152.5 961.4h.01M152.9 953.8h.01M154.9 959.1h.01M154.8 958.2h.01M155.8 934.9h.01M156 939.9h.01M155.4 945.2h.01M157 933.1h.01M157.3 933.8h.01M157.6 928.7h.01M157.7 915.7h.01M157.5 927.6h.01M157.8 924.3h.01M158.7 1016.5h.01M160.7 890.8h.01M160.3 888.4h.01M160.2 891.7h.01M159 891.5h.01M161.8 874.9h.01M160.3 873.8h.01M162.3 841.9h.01M162.5 981.3h.01M162.7 970.2h.01M163.1 783.3h.01M165 764h.01M165.8 740h.01M165.3 751.1h.01M166.7 750.7h.01M166.9 746.2h.01M165.4 749.5h.01M164.6 734.4h.01M166.1 736.9h.01M166.2 749.8h.01M167.1 935.1h.01M167.5 932.8h.01M166 934.8h.01M166.8 746h.01M167.6 747h.01M165.8 746.9h.01M166.7 743.8h.01M168.3 739.9h.01M167.7 927.1h.01M166.5 933.1h.01M168.2 747.1h.01M168.2 742.5h.01M167.9 922h.01M170.9 746.6h.01M169.4 744.4h.01M170.5 735.1h.01M170.3 730.4h.01M169.3 742h.01M170.4 742.8h.01M170.5 742.2h.01M169.8 714.9h.01M171.6 689.5h.01M171.5 738.6h.01M172.1 738.4h.01M172.3 722.5h.01M173.8 737.1h.01M172.7 739.9h.01M172.6 725.1h.01M172.9 914.4h.01M174.6 738.6h.01M175.1 729h.01M175.2 687.9h.01M173.3 718.7h.01M174.1 687.8h.01M176.3 731.9h.01M174.8 677.2h.01M174.9 688.5h.01M176 726.1h.01M174.8 680.3h.01M176.6 711.6h.01M175.7 698.3h.01M175.6 912.3h.01M176.7 716.5h.01M175.5 690.4h.01M176.7 723.4h.01M176.3 665.9h.01M175.9 718.6h.01M176.8 714.5h.01M176.7 729.5h.01M177.3 726.6h.01M178.1 723.8h.01M176.9 703.2h.01M177.7 676.3h.01M178.2 688.6h.01M178.1 721.9h.01M177.8 705.7h.01M178.6 729.5h.01M180.6 729.9h.01M178.9 730.1h.01M179.5 723.3h.01M179.3 704.4h.01M180.1 676.5h.01M178.4 705.3h.01M179.9 703.4h.01M180.7 716.9h.01M179.6 716.3h.01M180 726.1h.01M180.1 661.7h.01M180.6 692.8h.01M181.6 703.9h.01M181 691.8h.01M181.6 721.5h.01M181.6 713.8h.01M183.1 725.6h.01M184.4 645.3h.01M182.5 670h.01M181.5 682.9h.01M184.4 712.8h.01M183.5 664.6h.01M183.3 717.2h.01M184.3 728.3h.01M184.5 713.9h.01M183.5 913.8h.01M184.8 686.2h.01M185.7 649.7h.01M185.6 711.7h.01M185 705.1h.01M185.2 689.1h.01M185.6 654.5h.01M185.3 725h.01M186.6 926.9h.01M187 733.6h.01M186.6 727.8h.01M188.1 720.5h.01M187.1 723.4h.01M186.8 709.6h.01M186.9 730h.01M188.3 722.6h.01M188.2 717.9h.01M187.9 717.3h.01M187.7 718.6h.01M187.1 677.3h.01M187.3 710.9h.01M187.1 927.1h.01M188 703.3h.01M188.6 671.6h.01M187.9 919h.01M188.6 921.5h.01M188.7 737h.01M189.7 705.9h.01M190 731.6h.01M190 738.7h.01M191.2 739.1h.01M190.3 737.6h.01M191.1 734.3h.01M189.9 695.2h.01M190.6 676.8h.01M191.4 742.5h.01M192.4 742.5h.01M193.3 680.8h.01M191.8 740.5h.01M191.3 925.2h.01M191.3 673h.01M190.2 740.5h.01M193.3 721.3h.01M192.4 929.1h.01M193.9 701.3h.01M194.9 738.8h.01M193.5 740.2h.01M194.1 728.2h.01M193.9 748.5h.01M194 744h.01M194.5 741h.01M194.1 695.6h.01M194 739.8h.01M194.5 698.8h.01M195 711.9h.01M195.1 731.7h.01M193.8 709.3h.01M197.1 717.2h.01M195.1 741.2h.01M194.9 706.3h.01M194.9 740.3h.01M195.6 728.9h.01M196.1 740.5h.01M196.3 708.9h.01M195.7 923.9h.01M197.3 749.7h.01M196.7 926.6h.01M197.1 934.6h.01M195.9 925.6h.01M196.6 929.6h.01M197.8 756.8h.01M198.8 742h.01M197.5 735.6h.01M198.2 712.3h.01M197.9 749.8h.01M198.1 935.8h.01M197.9 743.1h.01M198.4 756.2h.01M199.2 733.2h.01M199 704.9h.01M198.6 945.5h.01M200 766.7h.01M199.4 719.9h.01M199 943.1h.01M197.8 945.7h.01M201.4 767.2h.01M201.4 770.1h.01M201.8 764h.01M200.8 776.7h.01M200.6 747.1h.01M201 764.7h.01M202.1 958.7h.01M202.8 786.9h.01M202.6 768.3h.01M202.5 783.1h.01M202.6 775.1h.01M203.1 771.6h.01M203.4 958.3h.01M204.3 798.2h.01M203.7 789.2h.01M204.7 968.8h.01M204.6 810.2h.01M206.1 824.5h.01M205.5 823.6h.01M204.8 825.5h.01M206 812.3h.01M206.3 812.5h.01M207.5 824.3h.01M205.6 825.3h.01M206.6 994.1h.01M206.3 993.8h.01M207.8 798.8h.01M207.8 778.3h.01M209.4 752.2h.01M208.5 763.9h.01M210.7 756.9h.01M209.4 785.4h.01M209.6 785.3h.01M210.2 788.7h.01M210.5 990.2h.01M211 810h.01M211.6 791.5h.01M211 809.2h.01M211.7 989.7h.01M213 814.8h.01M211.4 993.8h.01M210.9 992h.01M213 815.9h.01M215 829.9h.01M214.6 829.2h.01M215.6 841.9h.01M216.8 869.9h.01M216.8 868.2h.01M217 857h.01M216.7 865.5h.01M216.7 887.2h.01M217.4 1014.7h.01M219.3 903.2h.01M219.2 923.3h.01M219.7 921.9h.01M218.3 914.4h.01M219.9 934.8h.01M220.1 927.5h.01M220.4 936.9h.01M222 954.2h.01M222 955.3h.01M221.9 964.6h.01M222 960.8h.01M224.3 987.7h.01M225.5 989.6h.01M227.2 990.7h.01M227.6 993.8h.01M230.4 994h.01M232.8 992.1h.01M236.7 971.8h.01M238.7 956.5h.01M241.2 917.6h.01M243 914.9h.01M245.2 910.3h.01M245.7 906.5h.01M246.9 893.5h.01M247.7 888.7h.01M246.5 884h.01M249 869.7h.01M248.5 865.4h.01M250.3 865.2h.01M248 866.3h.01M249.4 853.5h.01M249.4 848.3h.01M250.6 834.2h.01M249.6 838h.01M250.7 828.6h.01M250.8 968.5h.01M250.6 820.1h.01M251.3 815.2h.01M251.2 961.8h.01M252.3 962.3h.01M252.3 956.8h.01M252.7 956.2h.01M253.2 963.1h.01M252.4 784.5h.01M253.2 753.4h.01M253.2 783h.01M253.8 945.9h.01M252.4 948.9h.01M254.2 782.1h.01M254.1 768h.01M254.9 758.6h.01M254.8 942.5h.01M254.1 942h.01M257 773.7h.01M256.4 765h.01M255.9 759h.01M257.3 734.1h.01M256.6 771.3h.01M255.2 757.7h.01M256.1 734.2h.01M255.3 934.5h.01M256.5 940.2h.01M255 943.8h.01M256.9 935.4h.01M258.5 748.8h.01M257.3 769h.01M257.6 932.7h.01M258.6 768.5h.01M258.4 769h.01M259.4 753.4h.01M257.9 764.6h.01M258.6 756.8h.01M259.9 746.7h.01M259 767.5h.01M259.2 731.9h.01M258.8 701.6h.01M260.6 732.7h.01M260.5 928.4h.01M261.3 772.9h.01M260.7 759.8h.01M261.1 750.7h.01M260.2 780.5h.01M263 801.3h.01M262.4 792.4h.01M263.1 774.6h.01M262.4 964.7h.01M263.4 799.2h.01M262.9 816.1h.01M262.5 805h.01M263.3 803.8h.01M264.1 806.9h.01M265.2 828.5h.01M266.5 1004.5h.01M267.1 879.4h.01M267.4 899.1h.01M267 894.3h.01M269.5 912.3h.01M269 928.8h.01M271 930h.01M269.1 933.4h.01M271.2 929.7h.01M271.2 926.2h.01M271.3 905.9h.01M272.1 882h.01M272.7 886.8h.01M273.8 875.6h.01M273.1 877.3h.01M272.1 878h.01M275.4 875.7h.01M272.5 874.6h.01M273.8 871.6h.01M274.8 869h.01M276.2 867.6h.01M274.7 868.4h.01M276.2 867.3h.01M277 863.8h.01M278.5 860h.01M278.2 857.8h.01M279.1 856h.01M280.3 849.2h.01M280.3 840.7h.01M279.2 842.6h.01M279.3 997.8h.01M280.9 850.4h.01M279.3 845.4h.01M282 847.2h.01M281.1 826.9h.01M282.3 842.4h.01M283.2 845.9h.01M282.9 825.5h.01M282 818.8h.01M282.3 839h.01M283.3 848.6h.01M285.5 830.3h.01M282.9 845h.01M284.4 842.8h.01M283.5 845.4h.01M284.3 842h.01M283.9 980.9h.01M286.6 840.2h.01M286.1 838h.01M286.5 832.5h.01M285.4 832.8h.01M285.4 981.3h.01M287.8 843.7h.01M288 848.9h.01M287.1 857h.01M292.6 891.1h.01M293.1 886.6h.01M294 885.7h.01M296.9 882.4h.01M296.8 887.9h.01M299.3 892.8h.01M298.6 888.9h.01M300 894.4h.01M301.3 895.7h.01M300.6 893.5h.01M301.5 890.6h.01M302.5 890.8h.01M300.9 891.2h.01M300.5 884h.01M302.5 896.7h.01M301.8 884.6h.01M302.7 890.6h.01M303.3 903h.01M304.2 902.5h.01M302.6 885.4h.01M304.9 907.2h.01M305.5 907.4h.01M306.3 909.7h.01M306.8 906.1h.01M307.6 907.8h.01M309.3 906.4h.01M308 906.2h.01M307.7 909.4h.01M307.9 917.2h.01M309.2 914.5h.01M308.5 910.6h.01M308.8 924.9h.01M309.3 928.4h.01M313.5 942.2h.01M312.8 948.8h.01M315 961.9h.01M315.5 968.1h.01M316 964.1h.01M316.1 962.7h.01M316.3 969.9h.01M315.8 971.8h.01M315.5 974.2h.01M317.5 978.2h.01M318.6 984h.01M319.2 994.5h.01M320.2 1006.8h.01M323.6 1015.6h.01M323.9 1016.2h.01M324.7 1015.4h.01M324 1016.3h.01M324.4 1016.7h.01M325.3 1015.7h.01M325.8 1017.9h.01M325.1 1016.6h.01M325.2 1016.6h.01M327.9 1018h.01M331.6 966.7h.01M331.9 966.9h.01M332.1 967.3h.01M333.1 1020.6h.01M335.7 955.5h.01M335.5 953.9h.01M336.6 946.2h.01M335 949.9h.01M338.1 939.7h.01M338.1 1009.8h.01M338.4 937.2h.01M339.2 944.4h.01M340.9 942.9h.01M341.3 947.1h.01M341.8 944.9h.01M342 947.8h.01M342.2 948.2h.01M342.5 950.1h.01M342.5 1011.2h.01M342.5 954.2h.01M343.1 951.8h.01M343.3 954h.01M344.2 953.9h.01M344.9 950.5h.01M345.1 953h.01M345.6 947.2h.01M347.2 1013.3h.01M348.1 941.6h.01M350.5 938.6h.01M350.1 936.6h.01M349.8 937.1h.01M353.4 936.3h.01M351.8 934.6h.01M352.8 938.1h.01M350.9 937.8h.01M353 941.9h.01M353.2 937.8h.01M353.7 938.9h.01M352.9 938.9h.01M354.7 940.4h.01M354 941.3h.01M356.1 1008.7h.01M356.7 950.6h.01M358.7 953.1h.01M358.7 961.2h.01M360.2 981.1h.01M360.8 993.5h.01M361.5 1009.4h.01M363.4 1002.1h.01M363.4 997.3h.01M363.3 1000.8h.01M364.3 989.3h.01M365.4 990.6h.01M365.5 978.4h.01M367.4 982.7h.01M366.1 972.9h.01M367.4 972.4h.01M368.1 962.7h.01M368.9 961h.01M370.1 965.7h.01M368.7 962.7h.01M370.4 958h.01M371.8 960.5h.01M371.4 959.1h.01M372.7 967.5h.01M373.9 965.8h.01M372.5 971.1h.01M374.8 977.7h.01M374.6 983.3h.01M376.8 1003.7h.01M376.5 1001h.01M379.9 1001.8h.01M381.1 1001.9h.01M381.4 1001.6h.01M382 1001.3h.01M381.3 1001.8h.01M383.4 997.8h.01M385.4 992.9h.01M385.7 991.3h.01M385 989.6h.01M387.1 985.5h.01M386.3 985.4h.01M388.8 983.2h.01M390 975.6h.01M390.7 975.6h.01M391.4 970.5h.01M392.3 962.7h.01M390.8 969.4h.01M392.7 964h.01M392.9 956.3h.01M392 1018.5h.01M394.3 951.8h.01M392.8 939.5h.01M395.3 942.6h.01M396.2 938.5h.01M394.8 934.7h.01M394.8 935.1h.01M393.4 933.8h.01M395.6 935.5h.01M395.1 925.9h.01M398.1 922h.01M397.6 923.3h.01M398.2 913h.01M401.2 906.8h.01M399.4 906.2h.01M403.1 906.8h.01M401.7 896.8h.01M402.5 905.9h.01M404.1 900.3h.01M404.5 914.2h.01M403.6 916.1h.01M405.1 909.3h.01M407.6 932h.01M405.3 933.4h.01M409.1 937.9h.01M410.4 946h.01M410.9 942.5h.01M412.7 945.6h.01M411.7 949.5h.01M411.7 947.4h.01M410.9 943.3h.01M411.7 945.1h.01M412.1 948.1h.01M413 940.1h.01M413.7 950.8h.01M414.1 948.7h.01M414.2 946.6h.01M415 946.6h.01M414.1 950.8h.01M417.6 1019.3h.01M416.4 944.4h.01M418.5 938.2h.01M419.7 942.9h.01M419.1 1016.2h.01M422.1 926.3h.01M421.2 925h.01M420 925.6h.01M424.5 902.1h.01M424.8 899.9h.01M424.4 894.2h.01M427.5 859.9h.01M427.6 866.9h.01M427.5 862.3h.01M428.6 865.3h.01M427.5 993.8h.01M428.3 859.7h.01M428.6 855.7h.01M428.2 863.4h.01M429 839h.01M430 850.9h.01M428.2 992.1h.01M429.2 993.9h.01M432.5 857.1h.01M429.8 859.4h.01M431.3 843.5h.01M429.6 854.7h.01M430.4 990.8h.01M431.7 860.1h.01M432.9 839.8h.01M431 993.3h.01M432.7 856.3h.01M432.4 849h.01M432.2 847.7h.01M432.2 856.5h.01M433.4 853.6h.01M434.5 849.6h.01M434.7 852.8h.01M435.1 844.8h.01M434.3 850.1h.01M435.7 996.2h.01M434.9 848.7h.01M435.6 848.1h.01M438.1 865.7h.01M437.4 881.3h.01M438.2 881.8h.01M439 875.5h.01M438.6 892.7h.01M440 894.8h.01M440.7 902.7h.01M440 1006.6h.01M440.3 915.5h.01M443.1 935.4h.01M445.7 942.1h.01M446.2 943.6h.01M447.5 945.5h.01M446 945h.01M451.1 948h.01M449.9 951.7h.01M450.9 950.2h.01M449 950.8h.01M450.9 947.5h.01M449.4 950h.01M450.9 1018h.01M450.8 950h.01M452.3 948.8h.01M453.7 948.6h.01M455.7 953.9h.01M453.8 951.5h.01M453.6 951.9h.01M457.3 949.2h.01M457.4 949.8h.01M457.5 957.7h.01M456.9 954h.01M458.8 958.6h.01M457.9 957.4h.01M458.7 956h.01M458.9 963.7h.01M459.6 961.8h.01M459.8 964.8h.01M459.9 958.9h.01M460 965.8h.01M464 976.9h.01M464.8 977.4h.01M466.7 990.6h.01M467.6 994.5h.01M467.9 995.7h.01M468.8 1002.6h.01M471.1 1004.6h.01M474.5 1006.6h.01M477.3 1010.9h.01M476.8 1011h.01M478.7 1015.3h.01M478.9 1012.3h.01M483.8 1000.5h.01M483.2 1001.8h.01M484.2 1003.4h.01M484.3 1008.1h.01M487.3 1014h.01M489 1017.5h.01M488.2 1016h.01M487.9 1014.9h.01M488.5 1014.3h.01M489.4 1015.3h.01M491.9 1015.9h.01M494.7 1015.3h.01M495.5 1014.3h.01M496.3 1017.7h.01M497.7 1016.4h.01M497.8 1014.7h.01M497 1016.8h.01M500.5 1013.5h.01M499.8 1017.5h.01M500.6 1016.8h.01M500.7 1013.7h.01M502.1 1016.3h.01M505.3 1014.7h.01M506.7 1013.3h.01M507.3 1014.3h.01M506.4 1016.3h.01M509.5 1015h.01M514.2 1012.6h.01M515.3 1014.4h.01M516.1 1017.2h.01M517.4 1016.9h.01M520.4 1015.1h.01M521.7 1015.7h.01M522.5 1013.6h.01M522.2 1015.7h.01M522.2 1012.4h.01M524.3 1016.7h.01M523.8 1015.4h.01M524.1 1017h.01M525 1014.9h.01M526.1 1013.6h.01M529 1015.6h.01M529.8 1014h.01M531.4 1015.6h.01M531.4 1014h.01M533.4 1013.2h.01M533.6 1014.5h.01M534.7 1016.1h.01M533.6 1015.4h.01M535.3 1014.4h.01M536.1 1015.2h.01M540.8 1015.8h.01M541.7 1012.7h.01M542.8 1015.6h.01M542.7 1013.3h.01M543.3 1016h.01M548.1 1016.2h.01M552.4 1014h.01M554.4 1015.1h.01M554.5 1014.4h.01M554.7 1015.2h.01M557.9 1013.3h.01M562.3 1012.2h.01M564.2 1010.3h.01M565 1014.2h.01M567.8 1012.4h.01M570.2 1010.8h.01M572.5 1008.6h.01M572.4 1009h.01M572.3 1009.4h.01M573.2 1006h.01M575.3 1008.5h.01M574.1 1008.8h.01M578.1 1010h.01M578.2 1009.9h.01M580.5 1006h.01M580.4 1006.6h.01M583.8 1010.3h.01M582.8 1007.7h.01M586.5 1008.3h.01M586.1 1008.1h.01M588.6 1006h.01M589.4 996.1h.01M590.7 999h.01M591.3 1004.6h.01M590 1004.3h.01M593 1000.6h.01M591.9 999.8h.01M591.8 1004.6h.01M593 998.3h.01M594.8 1000.7h.01M594.4 992.4h.01M596 992.1h.01M596.1 993.5h.01M595.9 991.4h.01M596.5 991.9h.01M595.7 994.4h.01M598.8 990.7h.01M598.4 999h.01M599.5 998.9h.01M599.5 999.9h.01M602.7 1005.7h.01M603.7 1005.5h.01M606.1 1003h.01M605.9 1005.9h.01M609.3 1003.7h.01M609.2 1003.5h.01M614.4 993.3h.01M616.4 988.3h.01M619.1 989.7h.01M617.9 989.7h.01M619.7 991.5h.01M621.7 990.6h.01M625 986.6h.01M626.4 981.7h.01M626.6 981.2h.01M626.4 979.8h.01M629.9 975.9h.01M630.1 1016.5h.01M631.5 975.4h.01M630.1 974.8h.01M631.6 973.7h.01M632.6 974.2h.01M634.2 970.4h.01M634.5 969.4h.01M635 975.9h.01M634.7 982.6h.01M637 985.1h.01M639.4 989.3h.01M645.2 983.1h.01M646.5 980.6h.01M646.6 982.8h.01M649 982.3h.01M648.4 980.3h.01M652.1 978.6h.01M651.5 978.6h.01M652.5 976.2h.01M652.6 974.9h.01M654.1 975h.01M654.1 973.7h.01M654.3 973.8h.01M655.1 969.7h.01M653.9 1013.3h.01M657.2 973.7h.01M657.3 973.2h.01M657 981.2h.01M659.1 980.9h.01M658.9 979.6h.01M659 979.5h.01M660 1012.8h.01M659.6 977h.01M661.1 977.3h.01M660.6 1012.5h.01M660.9 974.9h.01M661.6 977.5h.01M662 976.6h.01M663.3 967.8h.01M664.2 1013.8h.01M665.8 980.3h.01M669 983.8h.01M669 981.3h.01M669.3 984h.01M672.6 981.7h.01M673.5 983.4h.01M673.4 988.4h.01M675.3 996.9h.01M678.3 1015.7h.01M678.4 1015.6h.01M678.4 1015.5h.01M678.5 1011.9h.01M680 1011.2h.01M681.1 1009.1h.01M682.7 997.9h.01M682.2 990.6h.01M683.8 992.6h.01M683.8 993.1h.01M687 1010.3h.01M685.7 1010.5h.01M688.3 1015.9h.01M694.4 1019.2h.01M698.9 1017.5h.01M702.1 1018.2h.01M703.2 1014.6h.01M702.2 1015.4h.01M703.4 1016.5h.01M708.2 1013.7h.01M709.3 1017.2h.01M710.2 1017.9h.01M711.2 1017.4h.01M712.5 1016.4h.01M712 1017.3h.01M713.1 1017.2h.01M713.1 1014.7h.01M714 1018.2h.01M714.9 1016h.01M714.5 1016.6h.01M714.8 1017h.01M715.7 1017.6h.01M718.7 1015.4h.01M725.3 1016.6h.01M728.4 1017.7h.01M728.7 1015.6h.01M730.9 1016.7h.01M733.9 1012.5h.01M734.2 1014.3h.01M735.3 1016.5h.01M735.7 1014.8h.01M737.1 1014.3h.01M738.9 1015h.01M741.3 1014.4h.01M741.3 1015h.01M744.5 1014.3h.01M745.6 1015.6h.01M744.2 1016.2h.01M747.7 1016.5h.01M750.7 1019.6h.01M749 1016.9h.01M749.3 1017.9h.01M751 1017.6h.01M753.7 1018.7h.01M755.2 1018.4h.01M753.4 1018.1h.01M754.4 1016.4h.01M754.9 1017.3h.01M758.2 1016.5h.01M759.9 1017.8h.01M760.6 1015.9h.01M762.8 1016h.01M764.4 1008.2h.01M767.4 1005h.01M766.2 1005.7h.01M766.9 1004.9h.01M767.5 1006.5h.01M771.5 1007.9h.01M771.4 1006.8h.01M771.6 1009.4h.01M772.4 1018.3h.01M774.2 1018.5h.01M774.5 1018.2h.01M778.6 1016.6h.01M778.1 1017.7h.01M778.2 1015.7h.01M782 1008.7h.01M783.6 999.2h.01M786.1 990.2h.01M793.9 995.4h.01M794.2 993.6h.01M794.4 996h.01M794.4 994.6h.01M794.6 998.3h.01M796.4 1000.5h.01M800.6 1005.9h.01M801.6 1009.7h.01M802.2 1011.2h.01M802.8 1011.9h.01M805.1 1008.6h.01M804.7 1005.9h.01M808.8 993.6h.01M811.9 989.4h.01M813.9 991.7h.01M815.1 987.1h.01M814.4 988.2h.01M814.1 986.4h.01M815.4 986.6h.01M817 976.3h.01M820 982.3h.01M819 982.4h.01M819.2 983.1h.01M819.6 983h.01M822.5 989.9h.01M824.1 941.3h.01M825 941h.01M824.5 936.7h.01M827 912.1h.01M829.6 916.2h.01M828.8 917.4h.01M826.7 1007.6h.01M830.1 1006.7h.01M833 919h.01M833 1006.8h.01M832.9 916.9h.01M833.7 913.7h.01M838.6 914.6h.01M838 912.9h.01M838.3 914h.01M842 885.7h.01M841.5 880.2h.01M840.1 892.5h.01M842.1 887.2h.01M843.3 870.3h.01M844.4 905.1h.01M843.8 904.8h.01M843.5 896.7h.01M846.4 908.9h.01M847 908.6h.01M846.3 905.7h.01M846.9 907h.01M847.8 913.8h.01M846.4 907.6h.01M846.1 1012.4h.01M850.1 947.3h.01M849.1 945.6h.01M851.9 949.2h.01M854.3 946.6h.01M855.3 950.9h.01M856.2 949.9h.01M856.5 941.3h.01M857.2 944.4h.01M857.2 948.4h.01M858.4 946.2h.01M857.1 947.1h.01M859.5 942.2h.01M859.4 948.7h.01M860.9 966.8h.01M862.3 976.6h.01M863.7 986h.01M863.7 985.1h.01M864.6 985h.01M866.3 985.7h.01M867.5 984.7h.01M869.5 984.2h.01M870.4 986.6h.01M870.3 1020.8h.01M870.8 991.5h.01M873.8 996h.01M874.5 997.8h.01M876.1 1003.3h.01M876 1003.9h.01M876.8 1007.7h.01M876.3 1007.3h.01M877.8 1011.5h.01M876.9 1011h.01M882.2 991.9h.01M883 981.2h.01M883.5 981h.01M884.8 960.8h.01M884.9 951.1h.01M890.1 960.5h.01M890.6 958.9h.01M891.5 993.6h.01M892.5 1013.6h.01M902.5 1016.2h.01M904.1 1015.8h.01M902.6 1015.7h.01M902.6 1015.3h.01M905 1014.5h.01M906.4 1014.5h.01M906.5 1015.7h.01M907.8 1012.3h.01M908.9 1013.7h.01M919.1 1012.8h.01M918 1016.1h.01M918.8 1014.4h.01M919.4 1014.2h.01M923.4 1016.1h.01M924.8 1016h.01M925.1 1014.8h.01M925.9 1015.4h.01M925.2 1014.9h.01M926.3 1015.2h.01M927.5 1016.4h.01M928.7 1017.2h.01M928 1015.7h.01M929.9 1014.7h.01M930.3 1017.2h.01M929.8 1014.4h.01M933.2 1015.9h.01M932.2 1016.6h.01M934 1015h.01M933.4 1014.6h.01M936.1 1016.2h.01M936.5 1017.3h.01M937.1 1016.9h.01M938.4 1014.4h.01M939.6 1017.1h.01M939.6 1015.6h.01M939.1 1013.9h.01M942.8 1014h.01M945.7 1013.9h.01M945.7 1016.6h.01M945.5 1015.2h.01M946.4 1017.6h.01M947.6 1014.5h.01M950.1 1018h.01M951.7 1015h.01M953.7 1015.9h.01M955.2 1014.8h.01M955.7 1013.8h.01M956 1014.1h.01M958.9 1014.8h.01M958.5 1012.9h.01M959.6 1014.9h.01M960.8 1013.6h.01M960.4 1013.8h.01M961.2 1011.7h.01M960.4 1014.3h.01M962.9 1015.9h.01M966.4 1015.4h.01M966.1 1011.8h.01M966.4 1013h.01M966.6 1015.2h.01M968.4 1013h.01M969.2 1014.7h.01M972.7 1012.3h.01M975.5 1012.7h.01M976.6 1013.5h.01M976.3 1013.2h.01M976.9 1015.6h.01M979.5 1016.2h.01M982.2 1016.4h.01M982.8 1013.2h.01M982.5 1015.1h.01M983.1 1015.5h.01M985.4 1015.8h.01M984.4 1018h.01M986.6 1016.3h.01M986.1 1014.6h.01M987.1 1015h.01M991.8 1012.2h.01M999.8 1009.3h.01M1000.4 1007.9h.01M1000.1 1009.9h.01M1000.5 1009.8h.01M1002.7 1006h.01M1002.7 1006.3h.01M1002.8 1001.2h.01M1002.3 1004.4h.01M1004.8 998.4h.01M1003.8 998.4h.01M1007.5 987h.01M1013.2 990.7h.01M1013.2 990.3h.01M1011.8 991.9h.01M1013.9 990.5h.01M1012.6 987.3h.01M1014.8 984.5h.01M1014.9 982.6h.01M1016.1 982.8h.01M1015.5 979.1h.01M1017.2 977.8h.01M1018.3 970.6h.01M1018.9 975.2h.01M1020 969.1h.01M1020.8 965.8h.01M1020.8 968.8h.01M1022.6 964.7h.01M1022.2 969.5h.01M1023.2 967.4h.01M1024.3 969.1h.01M1023.3 969.6h.01M1025.5 1020.9h.01M1026.3 970.6h.01M1024.4 975.4h.01M1026.6 974.2h.01M1026.8 975.2h.01M1028.7 978h.01M1028 980.6h.01M1030.9 986.4h.01M1031.3 982.7h.01M1034.6 989.5h.01M1036.5 998h.01M1036.1 998.5h.01M1036.9 994.4h.01M1036.9 994.7h.01M1040 989.7h.01M1040.3 991.8h.01M1040.2 988.1h.01M1041.3 986.6h.01M1042.2 985.8h.01M1042.3 985.2h.01M1043.3 989h.01M1043.7 988.4h.01M1044.9 988.6h.01M1045.5 990.6h.01M1047.3 989.6h.01M1047.1 991.2h.01M1047.8 992h.01M1048.8 993.9h.01M1049.2 994.9h.01M1049.6 993.8h.01M1051 989.1h.01M1051 992.6h.01M1052.6 989.1h.01M1054.9 987.4h.01M1056.5 987.2h.01M1057.5 982.6h.01M1059.3 987.6h.01M1059.9 986h.01M1059.9 988.6h.01M1058.6 984.7h.01M1061.1 989.8h.01M1060.5 993.2h.01M1062.4 994.3h.01M1066.1 992.9h.01M1069.1 986.8h.01M1071.5 975.3h.01M1074.8 951.8h.01M1075.1 940.8h.01M1074.4 940.2h.01M1075 939.2h.01M1076.2 936.1h.01M1076.2 935.9h.01M1077.5 933.1h.01M1077.9 921.6h.01M1077.6 923.1h.01M1078.6 927.7h.01M1077.7 891.1h.01M1079.4 906.6h.01M1079.4 929.4h.01M1079.4 910.1h.01M1080.1 932.4h.01M1080.2 931.3h.01M1080.7 930.1h.01M1081.2 929.2h.01M1082.4 930.8h.01M1082.2 925.5h.01M1084.8 924.9h.01M1085.1 930.9h.01M1085.1 929.9h.01M1083.2 921.5h.01M1086.2 931.4h.01M1084.9 925.7h.01M1087 927.1h.01M1087.6 930.3h.01M1085.6 928.5h.01M1088.7 966.9h.01M1090.7 971.2h.01M1091.4 972.8h.01M1090.4 971.3h.01M1092.3 981.8h.01M1093.3 987.2h.01M1095 990.5h.01M1094.5 995h.01M1097.3 995.6h.01M1096.5 997.1h.01M1098.8 1002.9h.01M1098.9 1006.7h.01M1100.5 1004.7h.01M1099 1003.2h.01M1101.6 1007.6h.01M1102.3 1007.6h.01M1104.1 1006.1h.01M1106.2 1001.7h.01M1107.4 995.5h.01M1108.1 989h.01M1109.9 974.9h.01M1111.3 964h.01M1110.5 967.4h.01M1111.1 962.1h.01M1111.9 953.8h.01M1112.5 941h.01M1114 952.4h.01M1113 941.7h.01M1112.7 950.6h.01M1114.5 945.2h.01M1113.8 948.3h.01M1114.8 944.9h.01M1115.5 942.8h.01M1115.2 921.2h.01M1115.7 932.2h.01M1115.8 951.1h.01M1116.8 946.7h.01M1115.7 938.6h.01M1117.6 946h.01M1118.1 950.8h.01M1118.8 943.2h.01M1118 947.4h.01M1118.1 943.4h.01M1118 947.9h.01M1118.6 948.4h.01M1121.3 931.7h.01M1120.4 927.4h.01M1119.8 931h.01M1120.1 926.8h.01M1121.6 916.1h.01M1122.5 916.9h.01M1122.8 914.5h.01M1124 924.2h.01M1122.9 925.3h.01M1123.1 926.8h.01M1124.4 937.3h.01M1125.4 937.2h.01M1125.6 950.9h.01M1125.8 957.6h.01M1126.6 959h.01M1126.5 960.2h.01M1128.1 960.7h.01M1129.3 960.7h.01M1129.5 963.2h.01M1131.4 1019.8h.01M1134.5 964.1h.01M1132.1 963.2h.01M1133.8 966.5h.01M1135.5 965.5h.01M1136.6 965.1h.01M1136.6 965.5h.01M1138.1 967.3h.01M1139.5 1014.8h.01M1139.6 949.5h.01M1140 944.8h.01M1141 949.9h.01M1140.3 948.1h.01M1142.3 941.6h.01M1141.8 938h.01M1141.8 935h.01M1144.3 928.1h.01M1144 927.3h.01M1147.6 1011.5h.01M1148 916.7h.01M1148 1014.7h.01M1150.3 914.8h.01M1151.9 914h.01M1153.5 914.8h.01M1155 915h.01M1156.9 918.8h.01M1156.9 915h.01M1156.5 910.3h.01M1156.6 1009.9h.01M1157.3 914.6h.01M1158.3 915.9h.01M1158.1 918.1h.01M1157.3 916.9h.01M1155.7 1009.8h.01M1157.5 1010.7h.01M1159.2 921.4h.01M1160.3 920.7h.01M1160.4 920.6h.01M1161.5 922.1h.01M1161.9 918.5h.01M1163.2 912.5h.01M1164.4 918.2h.01M1162.9 914.3h.01M1163.5 924.5h.01M1164.6 920.1h.01M1163.2 1010.4h.01M1166 902.8h.01M1164.7 911.4h.01M1165.7 909.3h.01M1166.1 1010.1h.01M1165.6 922h.01M1167.8 912.9h.01M1167 916.5h.01M1166.9 924.4h.01M1167.1 925.7h.01M1167.9 926h.01M1166.4 927h.01M1166.7 927.3h.01M1168.1 922h.01M1168.1 935h.01M1170.2 932.9h.01M1168.7 931.4h.01M1169.9 934.2h.01M1169.1 933.2h.01M1171.5 937.9h.01M1170.9 1012.5h.01M1171.9 942.5h.01M1172 941.9h.01M1175.2 946.9h.01M1174.9 946.7h.01M1175.9 953.7h.01M1175.8 952.5h.01M1176.4 956.6h.01M1177.5 963.7h.01M1177.8 969h.01M1178.2 970.3h.01M1179.6 975.7h.01M1182.4 993.3h.01M1183.7 993.6h.01M1183 995.7h.01M1184.8 998.1h.01M1184.6 1000.7h.01M1183.7 1003.8h.01M1186.4 1006.8h.01M1188.3 1011.4h.01M1189.6 1014.1h.01M1190.8 1012.4h.01M1191.9 1013.8h.01M1193.9 1014.5h.01M1196.8 1011.6h.01M1197.2 1011.4h.01M1199.2 1014.4h.01M1199.8 1015h.01M1200.7 1014.6h.01M1201.1 1015.3h.01M1207.8 1013.5h.01M1208.3 1015.3h.01M1210 1014.2h.01M1210.5 1013.4h.01M1211.1 1013.8h.01M1211.5 1013.6h.01M1213.4 1011.3h.01M1215.4 1014.9h.01M1216.1 1013.6h.01M1216.4 1014.5h.01M1217.4 1014.4h.01M1219 1012.4h.01M1222.4 1011.8h.01M1222.1 1011.3h.01M1221.7 1011.8h.01M1224.1 1012.8h.01M1225.9 1012.5h.01M1227.2 1016.3h.01M1228 1015.2h.01M1228.1 1014.7h.01M1232.6 1015.8h.01M1234.1 1016.1h.01M1233.6 1018.3h.01M1236.6 1014.9h.01M1239.3 1015.4h.01M1245.6 1012.7h.01M1246.9 1012.3h.01M1248.4 1013.1h.01M1247.7 1012.9h.01M1250.2 1015h.01M1249.4 1013.1h.01M1249.6 1015h.01M1252.7 1012.7h.01M1254.6 1015.6h.01M1254.7 1011.3h.01M1253.7 1015h.01M1254 1013.8h.01M1254.3 1011.9h.01M1257.1 1014.6h.01M1260.5 1014h.01M1259.6 1015.3h.01M1260.9 1015.4h.01M1263.1 1016h.01M1263.5 1016.9h.01M1264.3 1015.8h.01M1267.7 1014.5h.01M1267.7 1016.2h.01M1269.8 1016.1h.01M1269.7 1015.9h.01M1271.1 1017.6h.01M1276.9 1017.3h.01M1278 1018.7h.01M1279.9 1016.6h.01M1283.7 1016.4h.01M1284.7 1013h.01M1284 1017.3h.01M1288.9 1016.2h.01M1289.2 1014.8h.01M1288.7 1014.5h.01M1293.7 1012h.01M1295.5 1012.6h.01M1297.5 1014.6h.01M1296.2 1012.3h.01M1298.4 1013.4h.01M1302.6 1009.7h.01M1306.4 1006.7h.01M1310.2 1005h.01M1310.5 1003.1h.01M1311.9 1001.3h.01M1310.7 1002.2h.01M1313.9 1000.2h.01M1311.5 1000.1h.01M1314.5 1002.2h.01M1314.9 1002.9h.01M1317 1008.7h.01M1318.7 1007.9h.01M1321.2 1006.8h.01M1322.8 1003.8h.01M1323 1005.2h.01M1323.2 999.9h.01M1326.7 998.1h.01M1325 998.8h.01M1329 994.1h.01M1327.9 995.5h.01M1331.2 990.9h.01M1332.5 994.8h.01M1333.8 992.6h.01M1337.4 994.4h.01M1336.9 995.9h.01M1339.1 999h.01M1339.5 1000.4h.01M1341.5 1001.3h.01M1342.8 1003.5h.01M1341.8 1003.4h.01M1343.4 1005.9h.01M1344 1004h.01M1344.5 1003.9h.01M1346.4 1008.6h.01M1346 1005.9h.01M1346.5 1007.1h.01M1347.6 1008.2h.01M1349 1010.1h.01M1351.3 1012.5h.01M1351.2 1011.1h.01M1351 1013.2h.01M1357 1010.7h.01M1355.4 1010.8h.01M1357.2 1006.9h.01M1361.4 1003.1h.01M1361.5 1003.5h.01M1363.9 1003.1h.01M1363.4 1004.8h.01M1365.1 1005.4h.01M1365.4 1004.7h.01M1367.9 1004.6h.01M1367 1004.2h.01M1374.5 1013.8h.01M1376.3 1013.5h.01M1378.5 1012.3h.01M1377.4 1013.6h.01M1378.9 1014.6h.01M1379.8 1012.6h.01M1380.7 1013.7h.01M1382.4 1014.5h.01M1382.2 1013.3h.01M1386.5 1010.9h.01M1390 1008.8h.01M1390.5 1009.6h.01M1391.4 1009.9h.01M1391.4 1009.4h.01M1393.8 1006.6h.01M1394.9 1007.4h.01M1395.3 1008.4h.01M1395.9 1010h.01M1398.6 1007.6h.01M1398.2 1008.2h.01M1400 1008.5h.01M1400.3 1008.5h.01M1403.9 1006.7h.01M1401.4 1006.3h.01M1402.7 1003.7h.01M1403.1 1007.2h.01M1403 1003.8h.01M1403 1006h.01M1403.7 1003.6h.01M1405.5 1002.8h.01M1405.3 1001.6h.01M1405 1001.9h.01M1408.4 995.2h.01M1411.4 992.9h.01M1415.1 989.4h.01M1414.2 989.1h.01M1415.7 990.2h.01M1416.2 993.7h.01M1419.1 1000.5h.01M1419.9 996.1h.01M1419.6 1000h.01M1419.5 999.5h.01M1423.4 1003.2h.01M1429.8 994.5h.01M1433.5 995.8h.01M1441.2 989.3h.01M1447.8 988h.01M1446.1 989.3h.01M1448.6 990.9h.01M1449.2 993.2h.01M1448.6 993.2h.01M1450 995h.01M1450.4 994.5h.01M1449.9 994.7h.01M1450.9 996.5h.01M1453 999.3h.01M1450.2 997.7h.01M1453.5 999.8h.01M1455.4 1001.1h.01M1455.1 1003.9h.01M1454.3 1002.1h.01M1455.3 999.5h.01M1459.4 1000.4h.01M1460.2 1000.8h.01M175.5 597.5h.01M175.5 612.5h.01M186.2 619.2h.01M181.2 632.5h.01M186.2 634.2h.01M175.5 643.8h.01M186.2 645.5h.01M181.2 647.5h.01M195 666.2h.01M192.5 675h.01M197.5 678.8h.01M197.5 686.8h.01M195 690h.01M169.5 704.2h.01M169.5 718.2h.01M209.2 729.2h.01M209.2 746.2h.01M209.2 752.5h.01M209.2 763.8h.01M209.2 777.5h.01M147.5 813.2h.01M259.5 654.2h.01M259.5 661.2h.01M259.5 672.5h.01M258.8 710.8h.01M257.5 722.5h.01M259.5 726.2h.01M283.2 805.5h.01M280 817.5h.01M302.2 844.2h.01M302.2 854.2h.01M430.5 829.2h.01M436.2 834.2h.01M428 837.5h.01M176.2 937h.01M176.2 951.2h.01M176.2 953.8h.01M182.5 930h.01M182.5 935h.01M190 943.8h.01M190 951.2h.01M190.5 959.5h.01M207.5 1002h.01M153.8 945h.01M152.5 955h.01M152.5 960h.01M275 864.5h.01M302.2 844.5h.01M302.2 854.2h.01M302.5 879.5h.01M338.8 928.8h.01M347.5 933.8h.01M355.5 930h.01M370.5 947.5h.01M389.5 956.2h.01M396.2 922.5h.01M402.5 880h.01M402.5 886.2h.01M415.5 930h.01M415.5 936.2h.01M415.5 940h.01M422.5 894.5h.01M428 837.5h.01M427 845.8h.01M430.8 829.2h.01M436.2 833.2h.01M436.2 838.2h.01M453.8 930h.01M576.2 1003.8h.01M591.8 986.2h.01M591.8 991.2h.01M663.2 962.5h.01M827.5 902.5h.01M843.2 855.5h.01M843.2 869.5h.01M842.5 880h.01M853.8 937h.01M859.2 934.5h.01M869.2 975h.01M887.5 935.5h.01M1017.5 961.2h.01M1017.5 967.5h.01M1026.2 961.2h.01M1058 976.2h.01M1078.2 866.2h.01M1078.2 877.5h.01M1078.2 881.2h.01M1078.2 893.2h.01M1078.2 901.2h.01M1078.2 913.8h.01M1078.2 926.2h.01M1087.5 906.2h.01M1083.8 908.8h.01M1087.5 916.2h.01M1083.8 921.2h.01M1115 903.8h.01M1115.8 912.5h.01M1115.8 922.5h.01M1115.8 932.5h.01M1115.8 940h.01M1123.8 904.5h.01M1123.8 912.5h.01M1142 927.5h.01M1151.2 910.8h.01M1156.2 901.2h.01M1156.2 905h.01M1165.5 880h.01M1165.5 887h.01M1165.5 899.2h.01M1166.2 905.5h.01M1166.2 908.8h.01M1175.5 943h.01" fill="none" stroke="#1f77b4" stroke-width="5.5" stroke-linecap="round"/>
<path d="M116.5 1011.7L117.5 1012.0L118.5 1012.2L119.5 1011.7L120.5 1012.7L121.5 1013.2L122.5 1013.5L123.5 1013.3L124.5 1012.8L125.5 1013.2L126.5 1013.4L127.5 1012.5L128.5 1013.5L129.5 1015.1L130.5 1016.4L131.5 1017.3L132.5 1018.6L133.5 1020.3L134.5 1020.5L135.5 1020.8L136.5 1019.7L137.5 1018.9L138.5 1018.3L139.5 1016.9L140.5 1016.0L141.5 1010.4L142.5 988.4L143.5 961.6L144.5 932.0L145.5 913.6L146.5 900.2L147.5 939.0L148.5 1002.2L149.5 1024.5L150.5 1011.7L151.5 1005.5L152.5 997.0L153.5 987.8L154.5 981.4L155.5 989.5L156.5 991.1L157.5 975.4L158.5 959.4L159.5 945.2L160.5 935.9L161.5 921.0L162.5 901.0L163.5 879.7L164.5 865.5L165.5 849.4L166.5 839.2L167.5 836.8L168.5 832.3L169.5 834.8L170.5 833.1L171.5 833.0L172.5 829.9L173.5 823.5L174.5 821.2L175.5 815.2L176.5 822.2L177.5 827.1L178.5 810.8L179.5 786.1L180.5 783.5L181.5 796.4L182.5 811.2L183.5 821.0L184.5 803.5L185.5 793.2L186.5 822.4L187.5 843.7L188.5 844.8L189.5 833.2L190.5 832.4L191.5 835.7L192.5 832.2L193.5 833.0L194.5 831.9L195.5 827.7L196.5 832.5L197.5 858.1L198.5 869.4L199.5 875.4L200.5 886.7L201.5 897.8L202.5 904.9L203.5 915.2L204.5 930.3L205.5 944.9L206.5 956.4L207.5 945.6L208.5 887.8L209.5 851.5L210.5 880.0L211.5 913.4L212.5 945.6L213.5 949.0L214.5 950.9L215.5 957.9L216.5 964.8L217.5 975.7L218.5 994.0L219.5 1011.0L220.5 1019.8L221.5 1019.7L222.5 1018.9L223.5 1017.3L224.5 1017.0L225.5 1017.4L226.5 1018.7L227.5 1019.8L228.5 1021.0L229.5 1021.4L230.5 1020.6L231.5 1020.9L232.5 1021.3L233.5 1021.2L234.5 1017.3L235.5 1011.7L236.5 1009.3L237.5 1015.7L238.5 1021.5L239.5 1005.3L240.5 982.6L241.5 968.5L242.5 976.6L243.5 981.9L244.5 991.6L245.5 988.7L246.5 975.3L247.5 962.7L248.5 945.7L249.5 927.7L250.5 912.9L251.5 905.3L252.5 893.3L253.5 878.0L254.5 872.3L255.5 861.4L256.5 849.6L257.5 848.1L258.5 844.3L259.5 834.7L260.5 857.6L261.5 881.0L262.5 904.5L263.5 924.6L264.5 942.4L265.5 963.8L266.5 980.5L267.5 995.2L268.5 1007.4L269.5 1018.9L270.5 1014.2L271.5 994.8L272.5 977.4L273.5 946.9L274.5 936.5L275.5 972.3L276.5 1001.1L277.5 985.7L278.5 955.4L279.5 930.8L280.5 920.1L281.5 913.2L282.5 910.6L283.5 915.4L284.5 914.5L285.5 905.2L286.5 912.2L287.5 970.9L288.5 1010.2L289.5 1031.7L290.5 995.1L291.5 959.5L292.5 957.3L293.5 988.2L294.5 1018.9L295.5 992.9L296.5 967.4L297.5 939.5L298.5 957.8L299.5 981.0L300.5 976.6L301.5 950.4L302.5 922.1L303.5 950.6L304.5 978.7L305.5 983.9L306.5 969.3L307.5 956.7L308.5 965.5L309.5 977.4L310.5 984.5L311.5 989.9L312.5 991.4L313.5 994.6L314.5 1001.6L315.5 1008.0L316.5 1013.2L317.5 1019.7L318.5 1020.8L319.5 1020.9L320.5 1021.1L321.5 1022.4L322.5 1023.9L323.5 1024.7L324.5 1023.6L325.5 1022.0L326.5 1023.2L327.5 1023.6L328.5 1023.2L329.5 1016.6L330.5 1007.8L331.5 998.3L332.5 991.5L333.5 987.3L334.5 983.3L335.5 978.6L336.5 976.7L337.5 975.9L338.5 977.1L339.5 978.8L340.5 983.2L341.5 988.0L342.5 994.5L343.5 999.3L344.5 997.2L345.5 989.1L346.5 982.9L347.5 978.9L348.5 974.9L349.5 973.9L350.5 974.1L351.5 972.9L352.5 974.4L353.5 973.4L354.5 974.6L355.5 977.6L356.5 986.4L357.5 994.0L358.5 1000.2L359.5 1004.8L360.5 1009.9L361.5 1016.0L362.5 1022.0L363.5 1020.9L364.5 1020.4L365.5 1020.1L366.5 1019.3L367.5 1012.4L368.5 1005.0L369.5 999.1L370.5 991.8L371.5 993.4L372.5 996.0L373.5 997.3L374.5 1000.3L375.5 1005.6L376.5 1011.2L377.5 1017.6L378.5 1018.5L379.5 1019.4L380.5 1019.2L381.5 1019.8L382.5 1021.9L383.5 1018.1L384.5 1013.4L385.5 1010.5L386.5 1007.0L387.5 1005.5L388.5 1002.4L389.5 998.3L390.5 995.1L391.5 990.5L392.5 984.7L393.5 984.5L394.5 982.0L395.5 980.7L396.5 980.2L397.5 986.2L398.5 989.2L399.5 982.2L400.5 977.1L401.5 966.6L402.5 951.9L403.5 958.2L404.5 968.7L405.5 977.2L406.5 980.8L407.5 985.7L408.5 988.5L409.5 988.2L410.5 990.6L411.5 991.3L412.5 990.8L413.5 990.9L414.5 992.2L415.5 993.8L416.5 994.5L417.5 992.1L418.5 990.6L419.5 992.4L420.5 989.1L421.5 981.8L422.5 976.3L423.5 969.7L424.5 963.0L425.5 949.6L426.5 936.6L427.5 927.8L428.5 929.8L429.5 929.3L430.5 926.4L431.5 924.2L432.5 922.0L433.5 926.1L434.5 932.0L435.5 926.8L436.5 924.5L437.5 935.9L438.5 948.0L439.5 960.4L440.5 968.8L441.5 975.6L442.5 978.3L443.5 983.8L444.5 987.4L445.5 987.0L446.5 987.6L447.5 986.9L448.5 988.6L449.5 989.4L450.5 985.9L451.5 985.3L452.5 983.8L453.5 984.0L454.5 983.9L455.5 984.1L456.5 981.9L457.5 981.2L458.5 987.3L459.5 991.1L460.5 994.4L461.5 995.9L462.5 997.3L463.5 998.0L464.5 999.8L465.5 1002.8L466.5 1004.9L467.5 1008.7L468.5 1012.6L469.5 1015.9L470.5 1019.5L471.5 1021.4L472.5 1021.5L473.5 1022.8L474.5 1022.0L475.5 1021.9L476.5 1021.4L477.5 1022.8L478.5 1019.4L479.5 1014.5L480.5 1010.9L481.5 1009.6L482.5 1012.7L483.5 1015.4L484.5 1017.4L485.5 1019.6L486.5 1021.3L487.5 1021.6L488.5 1022.3L489.5 1021.9L490.5 1021.3L491.5 1021.2L492.5 1021.2L493.5 1021.2L494.5 1022.3L495.5 1022.4L496.5 1021.4L497.5 1021.6L498.5 1022.1L499.5 1022.5L500.5 1021.8L501.5 1021.5L502.5 1021.0L503.5 1021.0L504.5 1022.1L505.5 1024.4L506.5 1023.6L507.5 1022.5L508.5 1021.7L509.5 1020.5L510.5 1020.8L511.5 1021.9L512.5 1022.1L513.5 1022.4L514.5 1021.9L515.5 1021.9L516.5 1021.8L517.5 1021.9L518.5 1022.0L519.5 1022.0L520.5 1021.1L521.5 1020.7L522.5 1020.6L523.5 1021.0L524.5 1021.3L525.5 1020.6L526.5 1019.4L527.5 1019.8L528.5 1020.2L529.5 1020.2L530.5 1020.1L531.5 1020.5L532.5 1021.3L533.5 1021.6L534.5 1021.3L535.5 1019.4L536.5 1019.0L537.5 1019.5L538.5 1020.9L539.5 1020.9L540.5 1019.9L541.5 1019.7L542.5 1020.5L543.5 1021.4L544.5 1021.3L545.5 1020.1L546.5 1020.4L547.5 1020.4L548.5 1021.5L549.5 1022.1L550.5 1020.9L551.5 1019.6L552.5 1018.0L553.5 1018.8L554.5 1018.2L555.5 1018.7L556.5 1019.4L557.5 1018.9L558.5 1020.3L559.5 1019.5L560.5 1019.3L561.5 1019.0L562.5 1019.1L563.5 1018.6L564.5 1018.0L565.5 1017.0L566.5 1018.0L567.5 1017.7L568.5 1016.3L569.5 1015.2L570.5 1014.0L571.5 1013.7L572.5 1013.8L573.5 1013.9L574.5 1014.0L575.5 1014.0L576.5 1013.7L577.5 1013.7L578.5 1013.8L579.5 1014.2L580.5 1015.0L581.5 1014.4L582.5 1014.5L583.5 1015.3L584.5 1015.0L585.5 1014.9L586.5 1013.8L587.5 1014.3L588.5 1015.5L589.5 1012.9L590.5 1012.3L591.5 1010.9L592.5 1009.5L593.5 1009.0L594.5 1009.7L595.5 1009.0L596.5 1009.3L597.5 1010.6L598.5 1009.4L599.5 1009.6L600.5 1012.0L601.5 1014.0L602.5 1014.6L603.5 1014.9L604.5 1014.7L605.5 1013.6L606.5 1012.7L607.5 1013.1L608.5 1013.7L609.5 1013.3L610.5 1012.5L611.5 1011.9L612.5 1011.3L613.5 1011.0L614.5 1010.3L615.5 1010.5L616.5 1009.5L617.5 1008.3L618.5 1006.4L619.5 1005.8L620.5 1007.0L621.5 1007.9L622.5 1008.8L623.5 1006.4L624.5 1005.1L625.5 1004.9L626.5 1002.7L627.5 1002.4L628.5 1000.4L629.5 997.7L630.5 997.6L631.5 998.8L632.5 998.5L633.5 997.0L634.5 998.4L635.5 1001.9L636.5 1005.1L637.5 1008.1L638.5 1009.0L639.5 1008.1L640.5 1006.3L641.5 1005.7L642.5 1005.6L643.5 1006.6L644.5 1007.7L645.5 1007.8L646.5 1006.3L647.5 1004.7L648.5 1003.6L649.5 1003.8L650.5 1004.4L651.5 1000.5L652.5 997.5L653.5 996.3L654.5 991.4L655.5 991.0L656.5 993.5L657.5 994.0L658.5 998.4L659.5 1002.5L660.5 999.4L661.5 995.3L662.5 995.3L663.5 996.4L664.5 998.3L665.5 998.5L666.5 998.8L667.5 1001.2L668.5 1002.9L669.5 1002.1L670.5 1001.8L671.5 1002.0L672.5 1002.9L673.5 1012.9L674.5 1020.5L675.5 1020.1L676.5 1020.4L677.5 1020.8L678.5 1019.4L679.5 1018.6L680.5 1018.8L681.5 1016.3L682.5 1013.2L683.5 1010.9L684.5 1012.9L685.5 1015.5L686.5 1018.7L687.5 1022.3L688.5 1022.3L689.5 1022.7L690.5 1023.6L691.5 1023.6L692.5 1024.0L693.5 1023.3L694.5 1022.4L695.5 1022.7L696.5 1023.7L697.5 1022.6L698.5 1022.5L699.5 1021.8L700.5 1022.0L701.5 1021.6L702.5 1021.1L703.5 1020.7L704.5 1020.9L705.5 1021.7L706.5 1022.5L707.5 1021.7L708.5 1021.0L709.5 1021.1L710.5 1020.2L711.5 1021.9L712.5 1023.2L713.5 1021.2L714.5 1022.1L715.5 1023.9L716.5 1025.0L717.5 1024.5L718.5 1023.9L719.5 1025.1L720.5 1025.2L721.5 1023.8L722.5 1023.3L723.5 1022.7L724.5 1023.2L725.5 1023.8L726.5 1022.9L727.5 1023.7L728.5 1023.6L729.5 1023.0L730.5 1022.6L731.5 1023.0L732.5 1022.5L733.5 1021.9L734.5 1021.2L735.5 1021.8L736.5 1022.2L737.5 1022.7L738.5 1022.4L739.5 1021.9L740.5 1021.5L741.5 1021.5L742.5 1021.8L743.5 1022.4L744.5 1021.4L745.5 1021.4L746.5 1023.1L747.5 1024.2L748.5 1023.8L749.5 1023.8L750.5 1025.0L751.5 1024.2L752.5 1023.5L753.5 1024.0L754.5 1024.4L755.5 1023.9L756.5 1024.1L757.5 1023.7L758.5 1023.8L759.5 1023.4L760.5 1022.4L761.5 1023.7L762.5 1022.7L763.5 1020.9L764.5 1019.0L765.5 1017.5L766.5 1017.1L767.5 1016.7L768.5 1016.4L769.5 1015.7L770.5 1018.2L771.5 1019.9L772.5 1021.2L773.5 1022.3L774.5 1022.7L775.5 1022.5L776.5 1021.2L777.5 1022.7L778.5 1022.2L779.5 1021.8L780.5 1021.6L781.5 1020.5L782.5 1017.7L783.5 1015.1L784.5 1011.6L785.5 1010.8L786.5 1010.5L787.5 1008.0L788.5 1005.7L789.5 1007.7L790.5 1009.9L791.5 1011.7L792.5 1013.8L793.5 1015.0L794.5 1014.3L795.5 1013.9L796.5 1013.1L797.5 1012.2L798.5 1013.3L799.5 1015.3L800.5 1016.8L801.5 1018.4L802.5 1018.9L803.5 1019.4L804.5 1018.6L805.5 1018.6L806.5 1017.8L807.5 1017.8L808.5 1014.8L809.5 1010.6L810.5 1008.5L811.5 1008.0L812.5 1009.4L813.5 1010.9L814.5 1010.7L815.5 1008.4L816.5 1006.1L817.5 1004.1L818.5 1006.4L819.5 1008.1L820.5 1008.6L821.5 1009.8L822.5 1010.6L823.5 1000.1L824.5 985.0L825.5 975.4L826.5 974.4L827.5 974.5L828.5 971.9L829.5 965.8L830.5 969.6L831.5 977.7L832.5 984.7L833.5 975.7L834.5 966.7L835.5 961.6L836.5 962.4L837.5 966.7L838.5 967.9L839.5 963.7L840.5 958.1L841.5 955.5L842.5 954.8L843.5 958.3L844.5 959.3L845.5 962.4L846.5 970.6L847.5 977.7L848.5 982.8L849.5 991.9L850.5 994.9L851.5 991.4L852.5 987.0L853.5 984.8L854.5 985.8L855.5 986.9L856.5 985.7L857.5 984.2L858.5 987.2L859.5 992.2L860.5 1003.3L861.5 1006.7L862.5 1010.2L863.5 1010.1L864.5 1008.4L865.5 1007.2L866.5 1007.4L867.5 1006.5L868.5 1004.7L869.5 1004.3L870.5 1007.3L871.5 1010.3L872.5 1012.0L873.5 1013.4L874.5 1015.8L875.5 1018.6L876.5 1020.7L877.5 1022.4L878.5 1024.8L879.5 1023.0L880.5 1021.3L881.5 1019.3L882.5 1016.1L883.5 1004.6L884.5 992.8L885.5 979.5L886.5 975.5L887.5 977.7L888.5 980.9L889.5 985.9L890.5 997.3L891.5 1015.8L892.5 1024.4L893.5 1024.4L894.5 1024.6L895.5 1023.7L896.5 1022.4L897.5 1021.8L898.5 1021.8L899.5 1022.2L900.5 1021.2L901.5 1021.5L902.5 1022.5L903.5 1021.6L904.5 1021.3L905.5 1021.0L906.5 1019.9L907.5 1020.7L908.5 1021.3L909.5 1020.9L910.5 1020.5L911.5 1019.6L912.5 1019.6L913.5 1019.5L914.5 1019.2L915.5 1018.3L916.5 1018.7L917.5 1019.6L918.5 1019.5L919.5 1020.5L920.5 1021.4L921.5 1020.9L922.5 1020.8L923.5 1020.9L924.5 1020.2L925.5 1020.1L926.5 1020.1L927.5 1020.9L928.5 1022.3L929.5 1021.6L930.5 1021.6L931.5 1021.5L932.5 1021.4L933.5 1021.5L934.5 1021.7L935.5 1022.0L936.5 1021.8L937.5 1022.0L938.5 1021.8L939.5 1021.6L940.5 1022.1L941.5 1022.7L942.5 1021.4L943.5 1021.7L944.5 1022.4L945.5 1022.2L946.5 1021.0L947.5 1020.9L948.5 1021.8L949.5 1022.8L950.5 1022.6L951.5 1021.8L952.5 1021.3L953.5 1021.2L954.5 1020.9L955.5 1020.0L956.5 1019.9L957.5 1021.2L958.5 1022.4L959.5 1021.2L960.5 1019.5L961.5 1019.6L962.5 1020.1L963.5 1019.9L964.5 1020.2L965.5 1019.7L966.5 1019.3L967.5 1019.2L968.5 1020.2L969.5 1020.5L970.5 1020.5L971.5 1020.4L972.5 1020.4L973.5 1020.6L974.5 1019.9L975.5 1020.4L976.5 1020.1L977.5 1019.9L978.5 1020.1L979.5 1020.9L980.5 1021.3L981.5 1021.4L982.5 1020.6L983.5 1020.7L984.5 1020.7L985.5 1021.5L986.5 1021.8L987.5 1020.6L988.5 1020.8L989.5 1020.2L990.5 1020.9L991.5 1020.5L992.5 1019.9L993.5 1019.3L994.5 1020.1L995.5 1019.3L996.5 1018.8L997.5 1019.1L998.5 1018.0L999.5 1017.5L1000.5 1017.0L1001.5 1016.8L1002.5 1017.7L1003.5 1017.5L1004.5 1014.9L1005.5 1013.9L1006.5 1011.8L1007.5 1009.0L1008.5 1010.6L1009.5 1012.1L1010.5 1011.7L1011.5 1011.3L1012.5 1010.2L1013.5 1010.5L1014.5 1008.5L1015.5 1005.3L1016.5 1003.9L1017.5 1003.0L1018.5 1003.2L1019.5 1004.3L1020.5 1004.4L1021.5 1004.6L1022.5 1001.8L1023.5 998.7L1024.5 995.8L1025.5 996.8L1026.5 999.2L1027.5 1000.2L1028.5 1004.3L1029.5 1007.9L1030.5 1009.3L1031.5 1009.6L1032.5 1009.8L1033.5 1010.1L1034.5 1011.1L1035.5 1011.2L1036.5 1009.8L1037.5 1008.9L1038.5 1007.5L1039.5 1006.6L1040.5 1006.4L1041.5 1004.8L1042.5 1002.8L1043.5 1002.8L1044.5 1005.0L1045.5 1006.6L1046.5 1008.6L1047.5 1008.4L1048.5 1010.0L1049.5 1012.8L1050.5 1013.2L1051.5 1010.2L1052.5 1008.8L1053.5 1008.1L1054.5 1008.7L1055.5 1008.2L1056.5 1005.8L1057.5 1004.1L1058.5 1003.2L1059.5 1005.0L1060.5 1008.1L1061.5 1010.3L1062.5 1012.8L1063.5 1015.0L1064.5 1014.9L1065.5 1012.8L1066.5 1011.3L1067.5 1010.3L1068.5 1008.9L1069.5 1007.6L1070.5 1004.7L1071.5 1002.3L1072.5 1000.2L1073.5 996.5L1074.5 991.1L1075.5 984.3L1076.5 977.4L1077.5 971.3L1078.5 967.3L1079.5 974.7L1080.5 984.6L1081.5 992.1L1082.5 988.1L1083.5 982.2L1084.5 972.1L1085.5 968.1L1086.5 971.1L1087.5 971.8L1088.5 998.9L1089.5 1017.9L1090.5 1015.6L1091.5 1013.6L1092.5 1011.2L1093.5 1009.9L1094.5 1010.8L1095.5 1012.2L1096.5 1011.0L1097.5 1011.4L1098.5 1013.2L1099.5 1014.5L1100.5 1014.2L1101.5 1015.6L1102.5 1016.6L1103.5 1015.3L1104.5 1016.1L1105.5 1016.2L1106.5 1012.9L1107.5 1008.7L1108.5 1006.0L1109.5 1002.4L1110.5 996.6L1111.5 992.6L1112.5 988.3L1113.5 984.3L1114.5 980.2L1115.5 979.7L1116.5 986.7L1117.5 995.6L1118.5 995.7L1119.5 988.1L1120.5 980.6L1121.5 969.3L1122.5 958.5L1123.5 969.4L1124.5 980.7L1125.5 989.3L1126.5 995.7L1127.5 994.6L1128.5 994.3L1129.5 994.2L1130.5 994.9L1131.5 994.2L1132.5 994.3L1133.5 994.6L1134.5 994.2L1135.5 993.3L1136.5 995.1L1137.5 996.6L1138.5 995.1L1139.5 991.9L1140.5 988.1L1141.5 984.7L1142.5 982.5L1143.5 977.4L1144.5 977.7L1145.5 975.1L1146.5 971.7L1147.5 971.0L1148.5 971.6L1149.5 972.1L1150.5 971.5L1151.5 967.3L1152.5 966.9L1153.5 970.4L1154.5 970.1L1155.5 965.6L1156.5 965.8L1157.5 970.5L1158.5 973.3L1159.5 976.5L1160.5 974.3L1161.5 972.9L1162.5 976.3L1163.5 972.4L1164.5 968.2L1165.5 961.7L1166.5 970.6L1167.5 984.0L1168.5 994.8L1169.5 993.8L1170.5 991.3L1171.5 990.0L1172.5 986.8L1173.5 986.3L1174.5 989.7L1175.5 990.5L1176.5 993.5L1177.5 1000.0L1178.5 1002.8L1179.5 1006.1L1180.5 1010.4L1181.5 1014.7L1182.5 1018.2L1183.5 1017.6L1184.5 1018.7L1185.5 1019.2L1186.5 1018.3L1187.5 1017.3L1188.5 1017.8L1189.5 1018.6L1190.5 1019.3L1191.5 1019.0L1192.5 1019.9L1193.5 1020.9L1194.5 1019.5L1195.5 1018.8L1196.5 1019.6L1197.5 1020.3L1198.5 1020.3L1199.5 1019.2L1200.5 1018.0L1201.5 1017.6L1202.5 1018.4L1203.5 1019.0L1204.5 1018.5L1205.5 1018.3L1206.5 1018.9L1207.5 1019.1L1208.5 1019.5L1209.5 1020.8L1210.5 1020.2L1211.5 1018.9L1212.5 1019.5L1213.5 1019.1L1214.5 1018.4L1215.5 1019.1L1216.5 1020.6L1217.5 1019.2L1218.5 1018.1L1219.5 1018.6L1220.5 1019.1L1221.5 1018.8L1222.5 1018.3L1223.5 1017.9L1224.5 1017.8L1225.5 1017.8L1226.5 1018.8L1227.5 1019.6L1228.5 1019.7L1229.5 1019.8L1230.5 1020.5L1231.5 1020.4L1232.5 1020.0L1233.5 1019.1L1234.5 1019.1L1235.5 1019.4L1236.5 1020.0L1237.5 1019.4L1238.5 1018.9L1239.5 1019.1L1240.5 1019.6L1241.5 1018.3L1242.5 1017.8L1243.5 1018.2L1244.5 1018.4L1245.5 1019.2L1246.5 1019.3L1247.5 1018.7L1248.5 1018.3L1249.5 1018.8L1250.5 1019.7L1251.5 1019.5L1252.5 1018.8L1253.5 1017.1L1254.5 1017.6L1255.5 1018.9L1256.5 1019.9L1257.5 1020.1L1258.5 1019.4L1259.5 1018.5L1260.5 1019.2L1261.5 1018.8L1262.5 1018.0L1263.5 1018.8L1264.5 1019.7L1265.5 1020.5L1266.5 1021.0L1267.5 1020.8L1268.5 1020.5L1269.5 1020.3L1270.5 1020.4L1271.5 1020.3L1272.5 1021.2L1273.5 1021.5L1274.5 1022.0L1275.5 1021.5L1276.5 1020.7L1277.5 1020.5L1278.5 1020.5L1279.5 1019.7L1280.5 1018.2L1281.5 1019.3L1282.5 1021.1L1283.5 1020.7L1284.5 1020.6L1285.5 1019.1L1286.5 1018.1L1287.5 1018.6L1288.5 1018.6L1289.5 1018.7L1290.5 1019.8L1291.5 1019.9L1292.5 1019.2L1293.5 1020.3L1294.5 1019.7L1295.5 1018.6L1296.5 1019.6L1297.5 1019.6L1298.5 1018.9L1299.5 1018.2L1300.5 1019.0L1301.5 1019.3L1302.5 1020.2L1303.5 1018.8L1304.5 1018.0L1305.5 1018.3L1306.5 1017.8L1307.5 1018.1L1308.5 1017.0L1309.5 1016.6L1310.5 1015.4L1311.5 1015.0L1312.5 1014.9L1313.5 1015.1L1314.5 1016.2L1315.5 1016.7L1316.5 1018.3L1317.5 1018.4L1318.5 1018.0L1319.5 1019.6L1320.5 1018.5L1321.5 1017.1L1322.5 1017.0L1323.5 1016.9L1324.5 1016.8L1325.5 1016.6L1326.5 1015.8L1327.5 1014.3L1328.5 1014.2L1329.5 1013.5L1330.5 1012.6L1331.5 1012.6L1332.5 1013.0L1333.5 1014.0L1334.5 1014.2L1335.5 1014.7L1336.5 1014.8L1337.5 1015.1L1338.5 1015.3L1339.5 1014.8L1340.5 1015.2L1341.5 1015.4L1342.5 1015.3L1343.5 1015.4L1344.5 1016.6L1345.5 1017.9L1346.5 1018.9L1347.5 1018.4L1348.5 1018.2L1349.5 1017.9L1350.5 1019.1L1351.5 1020.9L1352.5 1021.0L1353.5 1020.1L1354.5 1020.2L1355.5 1020.2L1356.5 1019.8L1357.5 1018.3L1358.5 1016.8L1359.5 1016.9L1360.5 1017.1L1361.5 1016.5L1362.5 1016.4L1363.5 1016.3L1364.5 1016.3L1365.5 1016.6L1366.5 1018.0L1367.5 1017.8L1368.5 1018.3L1369.5 1018.8L1370.5 1018.4L1371.5 1018.0L1372.5 1018.3L1373.5 1018.6L1374.5 1019.5L1375.5 1019.8L1376.5 1020.4L1377.5 1019.8L1378.5 1019.6L1379.5 1018.4L1380.5 1017.7L1381.5 1018.6L1382.5 1019.8L1383.5 1020.0L1384.5 1019.7L1385.5 1018.5L1386.5 1018.2L1387.5 1018.3L1388.5 1018.2L1389.5 1018.7L1390.5 1019.0L1391.5 1018.7L1392.5 1018.0L1393.5 1018.3L1394.5 1016.9L1395.5 1017.1L1396.5 1017.4L1397.5 1017.7L1398.5 1018.0L1399.5 1018.5L1400.5 1017.9L1401.5 1018.0L1402.5 1016.4L1403.5 1016.0L1404.5 1015.8L1405.5 1014.9L1406.5 1012.4L1407.5 1011.2L1408.5 1012.5L1409.5 1011.4L1410.5 1010.9L1411.5 1011.1L1412.5 1011.7L1413.5 1012.1L1414.5 1013.0L1415.5 1013.6L1416.5 1013.6L1417.5 1013.9L1418.5 1015.5L1419.5 1016.3L1420.5 1016.1L1421.5 1015.5L1422.5 1017.0L1423.5 1017.4L1424.5 1016.7L1425.5 1017.2L1426.5 1017.4L1427.5 1015.4L1428.5 1014.3L1429.5 1014.2L1430.5 1013.6L1431.5 1012.1L1432.5 1013.3L1433.5 1015.3L1434.5 1014.9L1435.5 1014.5L1436.5 1015.8L1437.5 1013.9L1438.5 1013.3L1439.5 1011.8L1440.5 1008.9L1441.5 1006.6L1442.5 1006.6L1443.5 1005.5L1444.5 1004.4L1445.5 1007.7L1446.5 1011.2L1447.5 1014.8L1448.5 1017.0L1449.5 1017.3L1450.5 1016.0L1451.5 1015.9L1452.5 1017.5L1453.5 1018.3L1454.5 1018.2L1455.5 1018.5L1456.5 1018.3L1457.5 1017.7L1458.5 1017.1L1459.5 1016.7L1460.5 1016.5L1461.5 1016.2L1462.5 1017.3" fill="none" stroke="#ff7f0e" stroke-width="2.08" stroke-linejoin="round" stroke-linecap="butt"/>
</g>
<g class="tk">
<line x1="116.5" y1="1054.5" x2="116.5" y2="1059.4"/>
<line x1="284.5" y1="1054.5" x2="284.5" y2="1059.4"/>
<line x1="453.5" y1="1054.5" x2="453.5" y2="1059.4"/>
<line x1="621.5" y1="1054.5" x2="621.5" y2="1059.4"/>
<line x1="789.5" y1="1054.5" x2="789.5" y2="1059.4"/>
<line x1="957.5" y1="1054.5" x2="957.5" y2="1059.4"/>
<line x1="1126.5" y1="1054.5" x2="1126.5" y2="1059.4"/>
<line x1="1294.5" y1="1054.5" x2="1294.5" y2="1059.4"/>
<line x1="111.6" y1="592.5" x2="116.5" y2="592.5"/>
<line x1="111.6" y1="666.5" x2="116.5" y2="666.5"/>
<line x1="111.6" y1="740.5" x2="116.5" y2="740.5"/>
<line x1="111.6" y1="814.5" x2="116.5" y2="814.5"/>
<line x1="111.6" y1="888.5" x2="116.5" y2="888.5"/>
<line x1="111.6" y1="962.5" x2="116.5" y2="962.5"/>
<line x1="111.6" y1="1036.5" x2="116.5" y2="1036.5"/>
</g>
<rect x="116.5" y="575.5" width="1346.0" height="479.0" fill="none" stroke="#000" stroke-width="1.1"/>
<text class="t22" x="106.0" y="600.5" text-anchor="end">0.030</text>
<text class="t22" x="106.0" y="674.5" text-anchor="end">0.025</text>
<text class="t22" x="106.0" y="748.5" text-anchor="end">0.020</text>
<text class="t22" x="106.0" y="822.6" text-anchor="end">0.015</text>
<text class="t22" x="106.0" y="896.6" text-anchor="end">0.010</text>
<text class="t22" x="106.0" y="970.6" text-anchor="end">0.005</text>
<text class="t22" x="106.0" y="1044.6" text-anchor="end">0.000</text>
<text class="t27" x="784.6" y="29.8" text-anchor="middle">14.7 MHz N0000024</text>
<text class="t27" x="116.5" y="29.8" letter-spacing="-0.6">(a)</text>
<text class="t27" x="116.5" y="566.8" letter-spacing="-0.6">(b)</text>
<text class="t22" transform="translate(62.5,278.5) rotate(-90)" text-anchor="middle">Doppler Shift [Hz]</text>
<text class="t22" transform="translate(25.5,815.0) rotate(-90)" text-anchor="middle">Peak Voltage [V]</text>
<text class="t22" x="789.5" y="1157.5" text-anchor="middle">UTC</text>
<text class="t22" transform="translate(113.6,1078.6) rotate(-30)" text-anchor="end" letter-spacing="0.12">06-08 00</text>
<text class="t22" transform="translate(281.9,1078.6) rotate(-30)" text-anchor="end" letter-spacing="0.12">06-08 03</text>
<text class="t22" transform="translate(450.1,1078.6) rotate(-30)" text-anchor="end" letter-spacing="0.12">06-08 06</text>
<text class="t22" transform="translate(618.4,1078.6) rotate(-30)" text-anchor="end" letter-spacing="0.12">06-08 09</text>
<text class="t22" transform="translate(786.6,1078.6) rotate(-30)" text-anchor="end" letter-spacing="0.12">06-08 12</text>
<text class="t22" transform="translate(954.9,1078.6) rotate(-30)" text-anchor="end" letter-spacing="0.12">06-08 15</text>
<text class="t22" transform="translate(1123.1,1078.6) rotate(-30)" text-anchor="end" letter-spacing="0.12">06-08 18</text>
<text class="t22" transform="translate(1291.3,1078.6) rotate(-30)" text-anchor="end" letter-spacing="0.12">06-08 21</text>
<rect x="1047.5" y="48.2" width="405.79999999999995" height="81.0" rx="3.7" ry="3.7" fill="#fff" fill-opacity="0.8" stroke="#cccccc" stroke-opacity="0.8" stroke-width="1.4"/>
<circle cx="1073.4" cy="63.2" r="2.75" fill="#1f77b4"/>
<text class="t18" x="1106.7" y="69.0">Raw Data</text>
<line x1="1053.3" y1="102.80000000000001" x2="1091.9" y2="102.80000000000001" stroke="#ff7f0e" stroke-width="2.08"/>
<text class="t18" x="1106.7" y="96.2">Butterworth Filtered Data</text>
<text class="t18" x="1106.7" y="117.0">(N=6, Tc=3.3333 min, Type: low)</text>
<rect x="1047.5" y="584.4" width="405.79999999999995" height="81.0" rx="3.7" ry="3.7" fill="#fff" fill-opacity="0.8" stroke="#cccccc" stroke-opacity="0.8" stroke-width="1.4"/>
<circle cx="1073.4" cy="599.4" r="2.75" fill="#1f77b4"/>
<text class="t18" x="1106.7" y="605.1999999999999">Raw Data</text>
<line x1="1053.3" y1="639.0" x2="1091.9" y2="639.0" stroke="#ff7f0e" stroke-width="2.08"/>
<text class="t18" x="1106.7" y="632.4">Butterworth Filtered Data</text>
<text class="t18" x="1106.7" y="653.1999999999999">(N=6, Tc=3.3333 min, Type: low)</text>
</svg></body></html>
